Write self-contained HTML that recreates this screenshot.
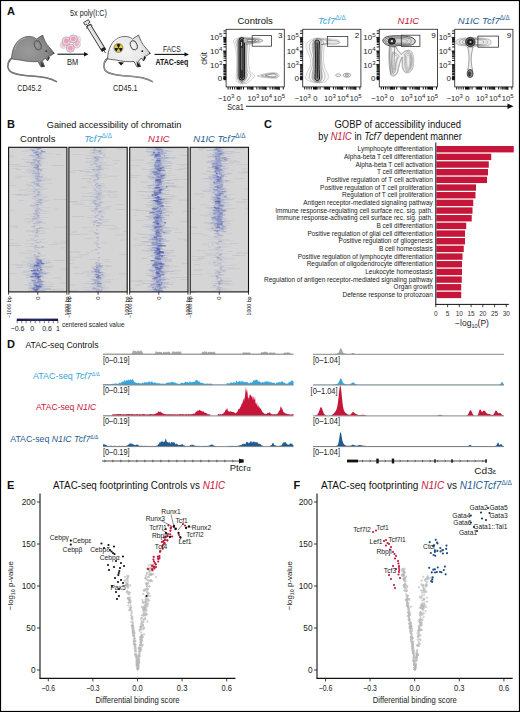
<!DOCTYPE html>
<html><head><meta charset="utf-8"><style>
html,body{margin:0;padding:0;background:#fff;}
svg{display:block;font-family:"Liberation Sans", sans-serif;}
</style></head><body>
<svg width="520" height="712" viewBox="0 0 520 712">
<rect x="0" y="0" width="520" height="712" fill="#fff"/>
<text x="7.00" y="14.80" font-size="11" text-anchor="start" fill="#111" font-weight="bold" >A</text><text x="7.00" y="127.60" font-size="11" text-anchor="start" fill="#111" font-weight="bold" >B</text><text x="264.00" y="127.60" font-size="11" text-anchor="start" fill="#111" font-weight="bold" >C</text><text x="7.00" y="348.00" font-size="11" text-anchor="start" fill="#111" font-weight="bold" >D</text><text x="7.00" y="489.00" font-size="11" text-anchor="start" fill="#111" font-weight="bold" >E</text><text x="293.50" y="489.00" font-size="11" text-anchor="start" fill="#111" font-weight="bold" >F</text><defs><radialGradient id="gm" cx="0.4" cy="0.5" r="0.6"><stop offset="0" stop-color="#9a9a9a"/><stop offset="0.7" stop-color="#8a8a8a"/><stop offset="1" stop-color="#6e6e6e"/></radialGradient><radialGradient id="wm" cx="0.4" cy="0.5" r="0.6"><stop offset="0" stop-color="#f4f4f4"/><stop offset="0.7" stop-color="#e8e8e8"/><stop offset="1" stop-color="#d0d0d0"/></radialGradient></defs><g transform="translate(0,0)"><path d="M13 57.5 C8 60 6.5 66 9 70 C12 74 22 75.5 32 76 C42 76.5 50 78 57 81.8" fill="none" stroke="#555" stroke-width="1.5"/><path d="M13 57.5 C8 60 6.5 66 9 70 C12 74 22 75.5 32 76 C42 76.5 50 78 57 81.8" fill="none" stroke="#aaaaaa" stroke-width="0.5"/><path d="M11.5 58.5 C12 50 15 40 25 37 C30 35.5 34 37 36.5 39 L42.6 35 C44 39 46 44 49 47 C51 49 52.5 51 53.8 53 C52.5 55 50.5 56 48.5 56.5 L47.5 61 L45.5 58 C44.5 59 43.5 60 42.5 61 L44.5 66.5 L41 67 L38 61.5 C33 62 26 61.5 20 60 C16 59.5 13 59.5 11.5 58.5 Z" fill="url(#gm)" stroke="#555" stroke-width="0.8"/><path d="M15 50 C16 43 20 39 26 38" fill="none" stroke="#aaaaaa" stroke-width="1"/><ellipse cx="37.8" cy="45.3" rx="3.3" ry="4.8" transform="rotate(-20 37.8 45.3)" fill="url(#gm)" stroke="#555" stroke-width="0.9"/><circle cx="46.3" cy="51.2" r="0.9" fill="#333"/><path d="M48 56.3 L47.6 61.5 L50 57.5 Z" fill="#333"/><path d="M40.5 61 L41.5 66.8 L44.8 66.5 Z" fill="#333"/><path d="M53.2 52 L54.8 53.2 L53.5 54.5 Z" fill="#333"/></g><g transform="translate(96,0)"><path d="M13 57.5 C8 60 6.5 66 9 70 C12 74 22 75.5 32 76 C42 76.5 50 78 57 81.8" fill="none" stroke="#444" stroke-width="1.5"/><path d="M13 57.5 C8 60 6.5 66 9 70 C12 74 22 75.5 32 76 C42 76.5 50 78 57 81.8" fill="none" stroke="#fff" stroke-width="0.5"/><path d="M11.5 58.5 C12 50 15 40 25 37 C30 35.5 34 37 36.5 39 L42.6 35 C44 39 46 44 49 47 C51 49 52.5 51 53.8 53 C52.5 55 50.5 56 48.5 56.5 L47.5 61 L45.5 58 C44.5 59 43.5 60 42.5 61 L44.5 66.5 L41 67 L38 61.5 C33 62 26 61.5 20 60 C16 59.5 13 59.5 11.5 58.5 Z" fill="url(#wm)" stroke="#444" stroke-width="0.8"/><path d="M15 50 C16 43 20 39 26 38" fill="none" stroke="#fff" stroke-width="1"/><ellipse cx="37.8" cy="45.3" rx="3.3" ry="4.8" transform="rotate(-20 37.8 45.3)" fill="url(#wm)" stroke="#444" stroke-width="0.9"/><circle cx="46.3" cy="51.2" r="0.9" fill="#111"/><path d="M48 56.3 L47.6 61.5 L50 57.5 Z" fill="#111"/><path d="M40.5 61 L41.5 66.8 L44.8 66.5 Z" fill="#111"/><path d="M53.2 52 L54.8 53.2 L53.5 54.5 Z" fill="#111"/></g><path d="M118 62 L121 65.5 L124 62.5 Z" fill="#111"/><circle cx="118.5" cy="48" r="4.5" fill="#e2cb3c" stroke="#444" stroke-width="0.5"/><path d="M119.00 47.13 L120.45 44.62 A3.9 3.9 0 0 0 116.55 44.62 L118.00 47.13 Z" fill="#1a1a1a"/><path d="M117.50 48.00 L114.60 48.00 A3.9 3.9 0 0 0 116.55 51.38 L118.00 48.87 Z" fill="#1a1a1a"/><path d="M119.00 48.87 L120.45 51.38 A3.9 3.9 0 0 0 122.40 48.00 L119.50 48.00 Z" fill="#1a1a1a"/><circle cx="118.5" cy="48" r="0.7" fill="#1a1a1a"/><circle cx="77.2" cy="39.5" r="3.6" fill="#f3d3df" stroke="#a48a98" stroke-width="0.6" opacity="0.5"/><circle cx="77.2" cy="39.5" r="2.16" fill="#e6a2bd" opacity="0.5"/><circle cx="63.5" cy="45" r="3.4" fill="#f3d3df" stroke="#a48a98" stroke-width="0.6" opacity="0.6"/><circle cx="63.5" cy="45" r="2.04" fill="#e6a2bd" opacity="0.6"/><circle cx="76.8" cy="44.3" r="3.6" fill="#f3d3df" stroke="#a48a98" stroke-width="0.6" opacity="0.7"/><circle cx="76.8" cy="44.3" r="2.16" fill="#e6a2bd" opacity="0.7"/><circle cx="66.4" cy="41" r="4.1" fill="#f3d3df" stroke="#a48a98" stroke-width="0.6" opacity="1"/><circle cx="66.4" cy="41" r="2.46" fill="#e6a2bd" opacity="1"/><circle cx="73.3" cy="38.9" r="4.0" fill="#f3d3df" stroke="#a48a98" stroke-width="0.6" opacity="1"/><circle cx="73.3" cy="38.9" r="2.40" fill="#e6a2bd" opacity="1"/><circle cx="70.4" cy="48.2" r="4.0" fill="#f3d3df" stroke="#a48a98" stroke-width="0.6" opacity="1"/><circle cx="70.4" cy="48.2" r="2.40" fill="#e6a2bd" opacity="1"/><g transform="translate(86.5,22) rotate(58.5)"><rect x="4" y="-2.1" width="29" height="4.2" fill="#f0f0f0" stroke="#333" stroke-width="0.9"/><line x1="6" y1="-0.6" x2="31" y2="-0.6" stroke="#bbb" stroke-width="0.6"/><path d="M-1 -2.8 L2 -2.8 L2 -1 L4 -1 L4 1 L2 1 L2 2.8 L-1 2.8 Z" fill="#e8e8e8" stroke="#333" stroke-width="0.8"/><path d="M4 -2.1 L6 -3.2 M4 2.1 L6 3.2" stroke="#333" stroke-width="0.7"/><rect x="30.5" y="-2.1" width="3.2" height="4.2" fill="#222"/><line x1="33.7" y1="0" x2="36.5" y2="0" stroke="#333" stroke-width="0.8"/></g><line x1="57.5" y1="54.2" x2="85.5" y2="54.2" stroke="#111" stroke-width="1.1"/><path d="M88.5 54.2 L84.0 52.0 L84.0 56.400000000000006 Z" fill="#111"/><line x1="154.5" y1="54.4" x2="186" y2="54.4" stroke="#111" stroke-width="1.1"/><path d="M189 54.4 L184.5 52.199999999999996 L184.5 56.6 Z" fill="#111"/><text x="72.60" y="65.20" font-size="8.8" text-anchor="middle" fill="#1a1a1a" textLength="11.2" lengthAdjust="spacingAndGlyphs" >BM</text><text x="88.50" y="15.60" font-size="8.8" text-anchor="middle" fill="#1a1a1a" textLength="37" lengthAdjust="spacingAndGlyphs" >5x poly(I:C)</text><text x="29.40" y="90.60" font-size="8.8" text-anchor="middle" fill="#1a1a1a" textLength="24.2" lengthAdjust="spacingAndGlyphs" >CD45.2</text><text x="125.20" y="91.00" font-size="8.8" text-anchor="middle" fill="#1a1a1a" textLength="24.4" lengthAdjust="spacingAndGlyphs" >CD45.1</text><text x="171.80" y="51.60" font-size="8.8" text-anchor="middle" fill="#1a1a1a" textLength="17.8" lengthAdjust="spacingAndGlyphs" >FACS</text><text x="171.90" y="65.20" font-size="8.8" text-anchor="middle" fill="#111" font-weight="bold" textLength="32.6" lengthAdjust="spacingAndGlyphs" >ATAC-seq</text><rect x="226.1" y="29.3" width="58.2" height="57.60000000000001" fill="#fff" stroke="#333" stroke-width="0.9"/><path d="M223.1 78.20H226.1M223.5 74.11H226.1M223.5 71.71H226.1M223.5 70.01H226.1M223.5 68.69H226.1M223.5 67.62H226.1M223.5 66.71H226.1M223.5 65.92H226.1M223.5 65.22H226.1M223.1 64.60H226.1M223.5 60.51H226.1M223.5 58.11H226.1M223.5 56.41H226.1M223.5 55.09H226.1M223.5 54.02H226.1M223.5 53.11H226.1M223.5 52.32H226.1M223.5 51.62H226.1M223.1 51.00H226.1M223.5 46.91H226.1M223.5 44.51H226.1M223.5 42.81H226.1M223.5 41.49H226.1M223.5 40.42H226.1M223.5 39.51H226.1M223.5 38.72H226.1M223.5 38.02H226.1M223.1 37.40H226.1M223.5 33.31H226.1M223.5 30.91H226.1M223.5 70.00H226.1M223.5 71.60H226.1M223.5 73.20H226.1M223.5 74.80H226.1M223.5 76.40H226.1M223.5 78.00H226.1" stroke="#111" stroke-width="1.0" fill="none"/><rect x="223.5" y="76.6" width="2.6" height="3.6" fill="#111"/><path d="M247.65 86.9V89.5M248.93 86.9V89.5M249.97 86.9V89.5M250.86 86.9V89.5M251.62 86.9V89.5M252.30 86.9V89.5M252.90 86.9V89.9M256.87 86.9V89.5M259.20 86.9V89.5M260.85 86.9V89.5M262.13 86.9V89.5M263.17 86.9V89.5M264.06 86.9V89.5M264.82 86.9V89.5M265.50 86.9V89.5M266.10 86.9V89.9M270.07 86.9V89.5M272.40 86.9V89.5M274.05 86.9V89.5M275.33 86.9V89.5M276.37 86.9V89.5M277.26 86.9V89.5M278.02 86.9V89.5M278.70 86.9V89.5M279.30 86.9V89.9M283.27 86.9V89.5M228.10 86.9V89.5M230.30 86.9V89.5M232.50 86.9V89.5M234.70 86.9V89.5M236.90 86.9V89.5M239.10 86.9V89.5M241.30 86.9V89.5M243.50 86.9V89.5" stroke="#111" stroke-width="1.0" fill="none"/><rect x="236.9" y="86.9" width="3.6" height="2.6" fill="#111"/><text x="222.30" y="40.30" font-size="8" text-anchor="end" fill="#1a1a1a" >10<tspan dy="-3" font-size="6">5</tspan></text><text x="222.30" y="53.80" font-size="8" text-anchor="end" fill="#1a1a1a" >10<tspan dy="-3" font-size="6">4</tspan></text><text x="222.30" y="67.60" font-size="8" text-anchor="end" fill="#1a1a1a" >10<tspan dy="-3" font-size="6">3</tspan></text><text x="222.30" y="81.40" font-size="8" text-anchor="end" fill="#1a1a1a" >0</text><text x="234.30" y="100.60" font-size="7.6" text-anchor="end" fill="#1a1a1a" >−10<tspan dy="-3" font-size="6">3</tspan></text><text x="238.70" y="100.60" font-size="7.6" text-anchor="middle" fill="#1a1a1a" >0</text><text x="253.40" y="100.60" font-size="7.6" text-anchor="middle" fill="#1a1a1a" >10<tspan dy="-3" font-size="6">3</tspan></text><text x="266.30" y="100.60" font-size="7.6" text-anchor="middle" fill="#1a1a1a" >10<tspan dy="-3" font-size="6">4</tspan></text><text x="279.10" y="100.60" font-size="7.6" text-anchor="middle" fill="#1a1a1a" >10<tspan dy="-3" font-size="6">5</tspan></text><text x="255.20" y="23.80" font-size="9.5" text-anchor="middle" fill="#111" >Controls</text><text x="282.50" y="37.60" font-size="8" text-anchor="end" fill="#111" >3</text><rect x="302.7" y="29.3" width="58.2" height="57.60000000000001" fill="#fff" stroke="#333" stroke-width="0.9"/><path d="M299.7 78.20H302.7M300.1 74.11H302.7M300.1 71.71H302.7M300.1 70.01H302.7M300.1 68.69H302.7M300.1 67.62H302.7M300.1 66.71H302.7M300.1 65.92H302.7M300.1 65.22H302.7M299.7 64.60H302.7M300.1 60.51H302.7M300.1 58.11H302.7M300.1 56.41H302.7M300.1 55.09H302.7M300.1 54.02H302.7M300.1 53.11H302.7M300.1 52.32H302.7M300.1 51.62H302.7M299.7 51.00H302.7M300.1 46.91H302.7M300.1 44.51H302.7M300.1 42.81H302.7M300.1 41.49H302.7M300.1 40.42H302.7M300.1 39.51H302.7M300.1 38.72H302.7M300.1 38.02H302.7M299.7 37.40H302.7M300.1 33.31H302.7M300.1 30.91H302.7M300.1 70.00H302.7M300.1 71.60H302.7M300.1 73.20H302.7M300.1 74.80H302.7M300.1 76.40H302.7M300.1 78.00H302.7" stroke="#111" stroke-width="1.0" fill="none"/><rect x="300.09999999999997" y="76.6" width="2.6" height="3.6" fill="#111"/><path d="M324.25 86.9V89.5M325.53 86.9V89.5M326.57 86.9V89.5M327.46 86.9V89.5M328.22 86.9V89.5M328.90 86.9V89.5M329.50 86.9V89.9M333.47 86.9V89.5M335.80 86.9V89.5M337.45 86.9V89.5M338.73 86.9V89.5M339.77 86.9V89.5M340.66 86.9V89.5M341.42 86.9V89.5M342.10 86.9V89.5M342.70 86.9V89.9M346.67 86.9V89.5M349.00 86.9V89.5M350.65 86.9V89.5M351.93 86.9V89.5M352.97 86.9V89.5M353.86 86.9V89.5M354.62 86.9V89.5M355.30 86.9V89.5M355.90 86.9V89.9M359.87 86.9V89.5M304.70 86.9V89.5M306.90 86.9V89.5M309.10 86.9V89.5M311.30 86.9V89.5M313.50 86.9V89.5M315.70 86.9V89.5M317.90 86.9V89.5M320.10 86.9V89.5" stroke="#111" stroke-width="1.0" fill="none"/><rect x="313.5" y="86.9" width="3.6" height="2.6" fill="#111"/><text x="298.90" y="40.30" font-size="8" text-anchor="end" fill="#1a1a1a" >10<tspan dy="-3" font-size="6">5</tspan></text><text x="298.90" y="53.80" font-size="8" text-anchor="end" fill="#1a1a1a" >10<tspan dy="-3" font-size="6">4</tspan></text><text x="298.90" y="67.60" font-size="8" text-anchor="end" fill="#1a1a1a" >10<tspan dy="-3" font-size="6">3</tspan></text><text x="298.90" y="81.40" font-size="8" text-anchor="end" fill="#1a1a1a" >0</text><text x="310.90" y="100.60" font-size="7.6" text-anchor="end" fill="#1a1a1a" >−10<tspan dy="-3" font-size="6">3</tspan></text><text x="315.30" y="100.60" font-size="7.6" text-anchor="middle" fill="#1a1a1a" >0</text><text x="330.00" y="100.60" font-size="7.6" text-anchor="middle" fill="#1a1a1a" >10<tspan dy="-3" font-size="6">3</tspan></text><text x="342.90" y="100.60" font-size="7.6" text-anchor="middle" fill="#1a1a1a" >10<tspan dy="-3" font-size="6">4</tspan></text><text x="355.70" y="100.60" font-size="7.6" text-anchor="middle" fill="#1a1a1a" >10<tspan dy="-3" font-size="6">5</tspan></text><text x="331.80" y="23.80" font-size="9.5" text-anchor="middle" fill="#3ba3d6" ><tspan font-style="italic">Tcf7</tspan><tspan font-size="66%" dy="-3.6" font-style="normal">Δ/Δ</tspan></text><text x="359.10" y="37.60" font-size="8" text-anchor="end" fill="#111" >2</text><rect x="379.3" y="29.3" width="58.2" height="57.60000000000001" fill="#fff" stroke="#333" stroke-width="0.9"/><path d="M376.3 78.20H379.3M376.7 74.11H379.3M376.7 71.71H379.3M376.7 70.01H379.3M376.7 68.69H379.3M376.7 67.62H379.3M376.7 66.71H379.3M376.7 65.92H379.3M376.7 65.22H379.3M376.3 64.60H379.3M376.7 60.51H379.3M376.7 58.11H379.3M376.7 56.41H379.3M376.7 55.09H379.3M376.7 54.02H379.3M376.7 53.11H379.3M376.7 52.32H379.3M376.7 51.62H379.3M376.3 51.00H379.3M376.7 46.91H379.3M376.7 44.51H379.3M376.7 42.81H379.3M376.7 41.49H379.3M376.7 40.42H379.3M376.7 39.51H379.3M376.7 38.72H379.3M376.7 38.02H379.3M376.3 37.40H379.3M376.7 33.31H379.3M376.7 30.91H379.3M376.7 70.00H379.3M376.7 71.60H379.3M376.7 73.20H379.3M376.7 74.80H379.3M376.7 76.40H379.3M376.7 78.00H379.3" stroke="#111" stroke-width="1.0" fill="none"/><rect x="376.7" y="76.6" width="2.6" height="3.6" fill="#111"/><path d="M400.85 86.9V89.5M402.13 86.9V89.5M403.17 86.9V89.5M404.06 86.9V89.5M404.82 86.9V89.5M405.50 86.9V89.5M406.10 86.9V89.9M410.07 86.9V89.5M412.40 86.9V89.5M414.05 86.9V89.5M415.33 86.9V89.5M416.37 86.9V89.5M417.26 86.9V89.5M418.02 86.9V89.5M418.70 86.9V89.5M419.30 86.9V89.9M423.27 86.9V89.5M425.60 86.9V89.5M427.25 86.9V89.5M428.53 86.9V89.5M429.57 86.9V89.5M430.46 86.9V89.5M431.22 86.9V89.5M431.90 86.9V89.5M432.50 86.9V89.9M436.47 86.9V89.5M381.30 86.9V89.5M383.50 86.9V89.5M385.70 86.9V89.5M387.90 86.9V89.5M390.10 86.9V89.5M392.30 86.9V89.5M394.50 86.9V89.5M396.70 86.9V89.5" stroke="#111" stroke-width="1.0" fill="none"/><rect x="390.1" y="86.9" width="3.6" height="2.6" fill="#111"/><text x="375.50" y="40.30" font-size="8" text-anchor="end" fill="#1a1a1a" >10<tspan dy="-3" font-size="6">5</tspan></text><text x="375.50" y="53.80" font-size="8" text-anchor="end" fill="#1a1a1a" >10<tspan dy="-3" font-size="6">4</tspan></text><text x="375.50" y="67.60" font-size="8" text-anchor="end" fill="#1a1a1a" >10<tspan dy="-3" font-size="6">3</tspan></text><text x="375.50" y="81.40" font-size="8" text-anchor="end" fill="#1a1a1a" >0</text><text x="387.50" y="100.60" font-size="7.6" text-anchor="end" fill="#1a1a1a" >−10<tspan dy="-3" font-size="6">3</tspan></text><text x="391.90" y="100.60" font-size="7.6" text-anchor="middle" fill="#1a1a1a" >0</text><text x="406.60" y="100.60" font-size="7.6" text-anchor="middle" fill="#1a1a1a" >10<tspan dy="-3" font-size="6">3</tspan></text><text x="419.50" y="100.60" font-size="7.6" text-anchor="middle" fill="#1a1a1a" >10<tspan dy="-3" font-size="6">4</tspan></text><text x="432.30" y="100.60" font-size="7.6" text-anchor="middle" fill="#1a1a1a" >10<tspan dy="-3" font-size="6">5</tspan></text><text x="408.40" y="23.80" font-size="9.5" text-anchor="middle" fill="#c5163a" ><tspan font-style="italic">N1IC</tspan></text><text x="435.70" y="37.60" font-size="8" text-anchor="end" fill="#111" >9</text><rect x="454.7" y="29.3" width="58.2" height="57.60000000000001" fill="#fff" stroke="#333" stroke-width="0.9"/><path d="M451.7 78.20H454.7M452.1 74.11H454.7M452.1 71.71H454.7M452.1 70.01H454.7M452.1 68.69H454.7M452.1 67.62H454.7M452.1 66.71H454.7M452.1 65.92H454.7M452.1 65.22H454.7M451.7 64.60H454.7M452.1 60.51H454.7M452.1 58.11H454.7M452.1 56.41H454.7M452.1 55.09H454.7M452.1 54.02H454.7M452.1 53.11H454.7M452.1 52.32H454.7M452.1 51.62H454.7M451.7 51.00H454.7M452.1 46.91H454.7M452.1 44.51H454.7M452.1 42.81H454.7M452.1 41.49H454.7M452.1 40.42H454.7M452.1 39.51H454.7M452.1 38.72H454.7M452.1 38.02H454.7M451.7 37.40H454.7M452.1 33.31H454.7M452.1 30.91H454.7M452.1 70.00H454.7M452.1 71.60H454.7M452.1 73.20H454.7M452.1 74.80H454.7M452.1 76.40H454.7M452.1 78.00H454.7" stroke="#111" stroke-width="1.0" fill="none"/><rect x="452.09999999999997" y="76.6" width="2.6" height="3.6" fill="#111"/><path d="M476.25 86.9V89.5M477.53 86.9V89.5M478.57 86.9V89.5M479.46 86.9V89.5M480.22 86.9V89.5M480.90 86.9V89.5M481.50 86.9V89.9M485.47 86.9V89.5M487.80 86.9V89.5M489.45 86.9V89.5M490.73 86.9V89.5M491.77 86.9V89.5M492.66 86.9V89.5M493.42 86.9V89.5M494.10 86.9V89.5M494.70 86.9V89.9M498.67 86.9V89.5M501.00 86.9V89.5M502.65 86.9V89.5M503.93 86.9V89.5M504.97 86.9V89.5M505.86 86.9V89.5M506.62 86.9V89.5M507.30 86.9V89.5M507.90 86.9V89.9M511.87 86.9V89.5M456.70 86.9V89.5M458.90 86.9V89.5M461.10 86.9V89.5M463.30 86.9V89.5M465.50 86.9V89.5M467.70 86.9V89.5M469.90 86.9V89.5M472.10 86.9V89.5" stroke="#111" stroke-width="1.0" fill="none"/><rect x="465.5" y="86.9" width="3.6" height="2.6" fill="#111"/><text x="450.90" y="40.30" font-size="8" text-anchor="end" fill="#1a1a1a" >10<tspan dy="-3" font-size="6">5</tspan></text><text x="450.90" y="53.80" font-size="8" text-anchor="end" fill="#1a1a1a" >10<tspan dy="-3" font-size="6">4</tspan></text><text x="450.90" y="67.60" font-size="8" text-anchor="end" fill="#1a1a1a" >10<tspan dy="-3" font-size="6">3</tspan></text><text x="450.90" y="81.40" font-size="8" text-anchor="end" fill="#1a1a1a" >0</text><text x="462.90" y="100.60" font-size="7.6" text-anchor="end" fill="#1a1a1a" >−10<tspan dy="-3" font-size="6">3</tspan></text><text x="467.30" y="100.60" font-size="7.6" text-anchor="middle" fill="#1a1a1a" >0</text><text x="482.00" y="100.60" font-size="7.6" text-anchor="middle" fill="#1a1a1a" >10<tspan dy="-3" font-size="6">3</tspan></text><text x="494.90" y="100.60" font-size="7.6" text-anchor="middle" fill="#1a1a1a" >10<tspan dy="-3" font-size="6">4</tspan></text><text x="507.70" y="100.60" font-size="7.6" text-anchor="middle" fill="#1a1a1a" >10<tspan dy="-3" font-size="6">5</tspan></text><text x="483.80" y="23.80" font-size="9.5" text-anchor="middle" fill="#1f5b8e" ><tspan font-style="italic">N1IC Tcf7</tspan><tspan font-size="66%" dy="-3.6" font-style="normal">Δ/Δ</tspan></text><text x="511.10" y="37.60" font-size="8" text-anchor="end" fill="#111" >9</text><path d="M233.10 41 C235.10 37.5 244.10 36.5 250.10 37.5 L259.10 38 C262.10 39 262.10 42 259.10 43 L250.10 43.5 C248.10 55 248.10 65 250.10 72 C254.10 74 256.10 76 253.10 78 C250.10 82 246.10 84 242.10 84 C238.10 84 236.10 82 236.10 78 C237.10 65 238.10 52 233.10 41 Z" transform="translate(241.70 59) scale(1 1) translate(-241.70 -59)" fill="#f8f8f8" stroke="#aaa" stroke-width="0.5" vector-effect="non-scaling-stroke"/><path d="M233.10 41 C235.10 37.5 244.10 36.5 250.10 37.5 L259.10 38 C262.10 39 262.10 42 259.10 43 L250.10 43.5 C248.10 55 248.10 65 250.10 72 C254.10 74 256.10 76 253.10 78 C250.10 82 246.10 84 242.10 84 C238.10 84 236.10 82 236.10 78 C237.10 65 238.10 52 233.10 41 Z" transform="translate(241.70 59) scale(0.7 0.97) translate(-241.70 -59)" fill="none" stroke="#888" stroke-width="0.5" vector-effect="non-scaling-stroke"/><path d="M233.10 41 C235.10 37.5 244.10 36.5 250.10 37.5 L259.10 38 C262.10 39 262.10 42 259.10 43 L250.10 43.5 C248.10 55 248.10 65 250.10 72 C254.10 74 256.10 76 253.10 78 C250.10 82 246.10 84 242.10 84 C238.10 84 236.10 82 236.10 78 C237.10 65 238.10 52 233.10 41 Z" transform="translate(241.70 59) scale(0.45 0.94) translate(-241.70 -59)" fill="none" stroke="#666" stroke-width="0.5" vector-effect="non-scaling-stroke"/><path d="M233.10 41 C235.10 37.5 244.10 36.5 250.10 37.5 L259.10 38 C262.10 39 262.10 42 259.10 43 L250.10 43.5 C248.10 55 248.10 65 250.10 72 C254.10 74 256.10 76 253.10 78 C250.10 82 246.10 84 242.10 84 C238.10 84 236.10 82 236.10 78 C237.10 65 238.10 52 233.10 41 Z" transform="translate(241.70 59) scale(0.28 0.92) translate(-241.70 -59)" fill="none" stroke="#444" stroke-width="0.5" vector-effect="non-scaling-stroke"/><path d="M257.10 76 C262.10 74 272.10 72 276.10 73 C280.10 74 280.10 77.5 276.10 78 C272.10 78.5 262.10 77.5 257.10 76 Z" transform="translate(273.10 75.5) scale(1 1) translate(-273.10 -75.5)" fill="#f8f8f8" stroke="#999" stroke-width="0.55" vector-effect="non-scaling-stroke"/><path d="M257.10 76 C262.10 74 272.10 72 276.10 73 C280.10 74 280.10 77.5 276.10 78 C272.10 78.5 262.10 77.5 257.10 76 Z" transform="translate(273.10 75.5) scale(0.75 0.75) translate(-273.10 -75.5)" fill="none" stroke="#777" stroke-width="0.55" vector-effect="non-scaling-stroke"/><path d="M257.10 76 C262.10 74 272.10 72 276.10 73 C280.10 74 280.10 77.5 276.10 78 C272.10 78.5 262.10 77.5 257.10 76 Z" transform="translate(273.10 75.5) scale(0.5 0.5) translate(-273.10 -75.5)" fill="none" stroke="#555" stroke-width="0.55" vector-effect="non-scaling-stroke"/><rect x="237.40" y="37" width="8.8" height="44" rx="4.4" fill="#c8c8c8" stroke="#777" stroke-width="0.5"/><rect x="239.00" y="37.7" width="5.6" height="42.4" rx="2.8" fill="#888" stroke="#111" stroke-width="1.0"/><rect x="240.40" y="39.5" width="2.8" height="39" rx="1.4" fill="#333" stroke="#000" stroke-width="0.6"/><rect x="241.20" y="48" width="1.2" height="22" rx="0.6" fill="#777"/><ellipse cx="241.60" cy="44" rx="0.5" ry="2.2" fill="#ddd"/><path d="M244.10 38.5 C252.10 38 260.10 38.5 263.10 40.5 C262.10 42.5 252.10 43 244.10 42.5 Z" transform="translate(250.10 40.5) scale(1 1) translate(-250.10 -40.5)" fill="#e6e6e6" stroke="#777" stroke-width="0.55" vector-effect="non-scaling-stroke"/><path d="M244.10 38.5 C252.10 38 260.10 38.5 263.10 40.5 C262.10 42.5 252.10 43 244.10 42.5 Z" transform="translate(250.10 40.5) scale(0.7 0.7) translate(-250.10 -40.5)" fill="none" stroke="#555" stroke-width="0.55" vector-effect="non-scaling-stroke"/><path d="M244.10 38.5 C252.10 38 260.10 38.5 263.10 40.5 C262.10 42.5 252.10 43 244.10 42.5 Z" transform="translate(250.10 40.5) scale(0.45 0.45) translate(-250.10 -40.5)" fill="none" stroke="#444" stroke-width="0.55" vector-effect="non-scaling-stroke"/><rect x="252.20" y="35.6" width="19.2" height="10.6" fill="none" stroke="#333" stroke-width="0.8"/><path d="M306.20 45 C307.70 40 314.70 37.5 318.70 38 L324.70 38.5 C336.70 39 340.70 40 339.20 42.5 C332.70 44 326.70 44 324.70 44 C322.70 55 322.70 65 326.70 72 C329.70 76 328.70 80 324.70 82 C318.70 84 310.70 83 305.70 79 C304.70 74 309.70 70 310.70 64 C311.70 56 304.70 50 306.20 45 Z" transform="translate(317.20 60) scale(1 1) translate(-317.20 -60)" fill="#f8f8f8" stroke="#aaa" stroke-width="0.5" vector-effect="non-scaling-stroke"/><path d="M306.20 45 C307.70 40 314.70 37.5 318.70 38 L324.70 38.5 C336.70 39 340.70 40 339.20 42.5 C332.70 44 326.70 44 324.70 44 C322.70 55 322.70 65 326.70 72 C329.70 76 328.70 80 324.70 82 C318.70 84 310.70 83 305.70 79 C304.70 74 309.70 70 310.70 64 C311.70 56 304.70 50 306.20 45 Z" transform="translate(317.20 60) scale(0.7 0.98) translate(-317.20 -60)" fill="none" stroke="#888" stroke-width="0.5" vector-effect="non-scaling-stroke"/><path d="M306.20 45 C307.70 40 314.70 37.5 318.70 38 L324.70 38.5 C336.70 39 340.70 40 339.20 42.5 C332.70 44 326.70 44 324.70 44 C322.70 55 322.70 65 326.70 72 C329.70 76 328.70 80 324.70 82 C318.70 84 310.70 83 305.70 79 C304.70 74 309.70 70 310.70 64 C311.70 56 304.70 50 306.20 45 Z" transform="translate(317.20 60) scale(0.45 0.96) translate(-317.20 -60)" fill="none" stroke="#666" stroke-width="0.5" vector-effect="non-scaling-stroke"/><path d="M306.20 45 C307.70 40 314.70 37.5 318.70 38 L324.70 38.5 C336.70 39 340.70 40 339.20 42.5 C332.70 44 326.70 44 324.70 44 C322.70 55 322.70 65 326.70 72 C329.70 76 328.70 80 324.70 82 C318.70 84 310.70 83 305.70 79 C304.70 74 309.70 70 310.70 64 C311.70 56 304.70 50 306.20 45 Z" transform="translate(317.20 60) scale(0.28 0.94) translate(-317.20 -60)" fill="none" stroke="#444" stroke-width="0.5" vector-effect="non-scaling-stroke"/><path d="M313.20 41 C313.70 38 321.20 38 321.20 41 C320.70 52 320.70 68 321.70 78 C321.70 83 312.70 83 312.70 78 C313.70 68 313.70 52 313.20 41 Z" fill="#c8c8c8" stroke="#777" stroke-width="0.5"/><path d="M315.00 41.5 C315.20 39.5 319.40 39.5 319.40 42 C318.90 52 318.90 68 319.50 78 C319.50 81.5 314.90 81.5 314.90 78 C315.50 68 315.50 52 315.00 41.5 Z" fill="#888" stroke="#111" stroke-width="1"/><path d="M317.20 42.5 L317.30 78.5" stroke="#111" stroke-width="1"/><path d="M327.20 40.5 C332.70 40 338.70 40.5 339.70 42.5 C338.70 44.5 332.70 44.5 327.20 43.5 Z" fill="#e4e4e4" stroke="#777" stroke-width="0.5"/><ellipse cx="338.20" cy="75.2" rx="2.6" ry="1.3" fill="none" stroke="#666" stroke-width="0.6"/><ellipse cx="346.90" cy="75.2" rx="3.8" ry="2" fill="none" stroke="#666" stroke-width="0.6"/><ellipse cx="346.90" cy="75.2" rx="1.6" ry="1.1" fill="none" stroke="#444" stroke-width="0.6"/><rect x="327.30" y="36.5" width="20.5" height="9.8" fill="none" stroke="#333" stroke-width="0.8"/><path d="M389.30 46 C388.30 55 388.30 68 391.30 75.5 C393.30 77 396.30 76 397.30 72 C399.30 64 400.30 60 402.30 57 C402.30 64 402.30 70 405.30 72.5 C408.30 74 412.30 72 413.30 66 C414.30 58 413.30 52 410.30 50.5 C407.30 49.5 404.30 51 401.30 54 C399.30 52 397.30 50 395.30 46 Z" transform="translate(400.80 61) scale(1 1) translate(-400.80 -61)" fill="#f0f0f0" stroke="#888" stroke-width="0.5" vector-effect="non-scaling-stroke"/><path d="M389.30 46 C388.30 55 388.30 68 391.30 75.5 C393.30 77 396.30 76 397.30 72 C399.30 64 400.30 60 402.30 57 C402.30 64 402.30 70 405.30 72.5 C408.30 74 412.30 72 413.30 66 C414.30 58 413.30 52 410.30 50.5 C407.30 49.5 404.30 51 401.30 54 C399.30 52 397.30 50 395.30 46 Z" transform="translate(400.80 61) scale(0.9 0.95) translate(-400.80 -61)" fill="none" stroke="#999" stroke-width="0.5" vector-effect="non-scaling-stroke"/><path d="M389.30 46 C388.30 55 388.30 68 391.30 75.5 C393.30 77 396.30 76 397.30 72 C399.30 64 400.30 60 402.30 57 C402.30 64 402.30 70 405.30 72.5 C408.30 74 412.30 72 413.30 66 C414.30 58 413.30 52 410.30 50.5 C407.30 49.5 404.30 51 401.30 54 C399.30 52 397.30 50 395.30 46 Z" transform="translate(400.80 61) scale(0.8 0.9) translate(-400.80 -61)" fill="none" stroke="#aaa" stroke-width="0.5" vector-effect="non-scaling-stroke"/><path d="M392.30 52 C391.30 60 391.30 68 392.80 73 C394.30 74 395.30 72 395.80 68 C396.30 62 397.30 58 399.30 56 C397.30 55 395.30 52 392.30 52 Z" transform="translate(393.80 63) scale(1 1) translate(-393.80 -63)" fill="none" stroke="#777" stroke-width="0.5" vector-effect="non-scaling-stroke"/><path d="M392.30 52 C391.30 60 391.30 68 392.80 73 C394.30 74 395.30 72 395.80 68 C396.30 62 397.30 58 399.30 56 C397.30 55 395.30 52 392.30 52 Z" transform="translate(393.80 63) scale(0.7 0.85) translate(-393.80 -63)" fill="none" stroke="#888" stroke-width="0.5" vector-effect="non-scaling-stroke"/><path d="M404.30 54 C404.30 60 404.30 68 406.30 71 C409.30 72 411.30 68 411.80 62 C412.30 56 410.30 52 407.30 52 Z" transform="translate(408.30 62) scale(1 1) translate(-408.30 -62)" fill="none" stroke="#888" stroke-width="0.5" vector-effect="non-scaling-stroke"/><path d="M404.30 54 C404.30 60 404.30 68 406.30 71 C409.30 72 411.30 68 411.80 62 C412.30 56 410.30 52 407.30 52 Z" transform="translate(408.30 62) scale(0.7 0.85) translate(-408.30 -62)" fill="none" stroke="#777" stroke-width="0.5" vector-effect="non-scaling-stroke"/><path d="M404.30 54 C404.30 60 404.30 68 406.30 71 C409.30 72 411.30 68 411.80 62 C412.30 56 410.30 52 407.30 52 Z" transform="translate(408.30 62) scale(0.4 0.7) translate(-408.30 -62)" fill="none" stroke="#999" stroke-width="0.5" vector-effect="non-scaling-stroke"/><path d="M389.80 45 C389.30 55 389.80 65 390.80 75 M 394.80 45 C394.30 55 394.30 62 393.80 70" fill="none" stroke="#666" stroke-width="0.6"/><path d="M382.80 41 C382.80 37.5 387.30 36 393.30 35.8 C401.30 35.5 411.30 36 414.30 39 C416.30 41 415.30 44 411.30 45 C405.30 45.5 399.30 45 395.30 46 C391.30 46.5 384.30 45.5 382.80 41 Z" transform="translate(393.30 41) scale(1 1) translate(-393.30 -41)" fill="#d0d0d0" stroke="#222" stroke-width="0.8" vector-effect="non-scaling-stroke"/><path d="M382.80 41 C382.80 37.5 387.30 36 393.30 35.8 C401.30 35.5 411.30 36 414.30 39 C416.30 41 415.30 44 411.30 45 C405.30 45.5 399.30 45 395.30 46 C391.30 46.5 384.30 45.5 382.80 41 Z" transform="translate(393.30 41) scale(0.82 0.75) translate(-393.30 -41)" fill="none" stroke="#666" stroke-width="0.8" vector-effect="non-scaling-stroke"/><path d="M382.80 41 C382.80 37.5 387.30 36 393.30 35.8 C401.30 35.5 411.30 36 414.30 39 C416.30 41 415.30 44 411.30 45 C405.30 45.5 399.30 45 395.30 46 C391.30 46.5 384.30 45.5 382.80 41 Z" transform="translate(393.30 41) scale(0.64 0.5) translate(-393.30 -41)" fill="none" stroke="#888" stroke-width="0.8" vector-effect="non-scaling-stroke"/><ellipse cx="391.90" cy="41.2" rx="3.6" ry="3.1" fill="#333" stroke="#000" stroke-width="0.6"/><ellipse cx="391.90" cy="41.2" rx="1.2" ry="1.1" fill="#ddd"/><ellipse cx="408.30" cy="41" rx="5" ry="1.3" fill="none" stroke="#eee" stroke-width="0.5"/><rect x="401.30" y="35.2" width="18.6" height="11.2" fill="none" stroke="#333" stroke-width="0.8"/><path d="M455.70 42 C455.70 39 460.70 38 466.70 38 C474.70 37 484.70 38 489.70 39.5 C491.70 41 491.70 44 488.70 45.5 C482.70 46.5 474.70 46.5 466.70 46 C460.70 46 455.70 45 455.70 42 Z" transform="translate(472.70 42) scale(1 1) translate(-472.70 -42)" fill="#e6e6e6" stroke="#999" stroke-width="0.55" vector-effect="non-scaling-stroke"/><path d="M455.70 42 C455.70 39 460.70 38 466.70 38 C474.70 37 484.70 38 489.70 39.5 C491.70 41 491.70 44 488.70 45.5 C482.70 46.5 474.70 46.5 466.70 46 C460.70 46 455.70 45 455.70 42 Z" transform="translate(472.70 42) scale(0.8 0.8) translate(-472.70 -42)" fill="none" stroke="#777" stroke-width="0.55" vector-effect="non-scaling-stroke"/><path d="M455.70 42 C455.70 39 460.70 38 466.70 38 C474.70 37 484.70 38 489.70 39.5 C491.70 41 491.70 44 488.70 45.5 C482.70 46.5 474.70 46.5 466.70 46 C460.70 46 455.70 45 455.70 42 Z" transform="translate(472.70 42) scale(0.6 0.6) translate(-472.70 -42)" fill="none" stroke="#666" stroke-width="0.55" vector-effect="non-scaling-stroke"/><path d="M467.70 47 C468.70 52 469.20 56 469.00 60 C468.70 64 468.50 67 467.70 70 L472.70 70 C471.70 67 471.30 63 471.20 60 C471.10 56 471.70 52 473.20 47 Z" fill="#eee" stroke="#666" stroke-width="0.6"/><ellipse cx="470.30" cy="42" rx="4.8" ry="4.6" fill="#666" stroke="#222" stroke-width="0.8"/><ellipse cx="470.30" cy="42" rx="3" ry="2.8" fill="#222" stroke="#000" stroke-width="0.5"/><ellipse cx="470.50" cy="42" rx="1" ry="0.9" fill="#ccc"/><ellipse cx="470.10" cy="73.6" rx="3" ry="4" fill="#888" stroke="#222" stroke-width="0.7"/><ellipse cx="469.50" cy="74" rx="1.3" ry="2.4" fill="#333"/><ellipse cx="483.70" cy="42" rx="5" ry="1.6" fill="none" stroke="#eee" stroke-width="0.5"/><rect x="477.90" y="36.1" width="20.6" height="11.1" fill="none" stroke="#333" stroke-width="0.8"/><text x="207.00" y="58.50" font-size="9" text-anchor="middle" fill="#1a1a1a" textLength="12.5" lengthAdjust="spacingAndGlyphs" transform="rotate(-90 207 58.5)">cKit</text><text x="227.20" y="109.60" font-size="9" text-anchor="start" fill="#1a1a1a" textLength="16.6" lengthAdjust="spacingAndGlyphs" >Sca1</text><line x1="246" y1="106.3" x2="509" y2="106.3" stroke="#222" stroke-width="1"/><path d="M513.5 106.3 L507.5 103.6 L507.5 109 Z" fill="#111"/><text x="46.80" y="128.20" font-size="9.3" text-anchor="start" fill="#111" textLength="134.5" lengthAdjust="spacingAndGlyphs" >Gained accessibility of chromatin</text><rect x="8.6" y="147.3" width="58.3" height="144.59999999999997" fill="#d5d5d5"/><rect x="68.9" y="147.3" width="58.3" height="144.59999999999997" fill="#d5d5d5"/><rect x="129.7" y="147.3" width="58.3" height="144.59999999999997" fill="#d5d5d5"/><rect x="190.2" y="147.3" width="58.3" height="144.59999999999997" fill="#d5d5d5"/><path d="M12.6 194.1h9.5v0.8h-9.5zM36.5 157.8h6.7v0.8h-6.7zM36.5 155.7h3.4v0.8h-3.4zM10.7 210.0h3.9v0.8h-3.9zM54.7 208.7h4.2v0.8h-4.2zM38.9 179.6h12.5v0.8h-12.5zM25.3 230.7h12.8v0.8h-12.8zM55.7 154.0h5.9v0.8h-5.9zM12.4 168.2h6.1v0.8h-6.1zM14.7 265.3h8.8v0.8h-8.8zM26.1 239.7h8.5v0.8h-8.5zM9.5 156.4h5.1v0.8h-5.1zM30.5 245.7h6.1v0.8h-6.1zM32.0 232.0h6.0v0.8h-6.0zM46.6 262.2h5.4v0.8h-5.4zM33.3 230.4h11.8v0.8h-11.8zM19.0 252.8h12.8v0.8h-12.8zM27.7 164.4h10.6v0.8h-10.6zM35.4 169.3h3.4v0.8h-3.4zM48.8 243.9h8.7v0.8h-8.7zM21.9 273.9h10.0v0.8h-10.0zM38.6 233.2h7.6v0.8h-7.6zM59.8 268.8h7.1v0.8h-7.1zM8.6 243.3h10.0v0.8h-10.0zM60.9 240.9h6.0v0.8h-6.0zM26.2 188.5h9.7v0.8h-9.7zM33.2 150.6h4.7v0.8h-4.7zM8.6 164.2h10.7v0.8h-10.7zM19.6 166.0h6.9v0.8h-6.9zM9.6 273.3h7.5v0.8h-7.5zM54.5 226.7h11.2v0.8h-11.2zM21.3 272.2h7.2v0.8h-7.2zM53.9 199.2h12.6v0.8h-12.6zM16.2 169.1h5.3v0.8h-5.3zM32.4 181.0h8.9v0.8h-8.9zM8.6 185.3h7.2v0.8h-7.2zM35.4 200.7h12.5v0.8h-12.5zM34.1 247.1h9.2v0.8h-9.2zM8.6 245.1h12.0v0.8h-12.0zM54.1 260.1h11.0v0.8h-11.0zM29.8 204.0h4.0v0.8h-4.0zM10.4 239.0h3.7v0.8h-3.7zM14.9 177.5h6.4v0.8h-6.4zM8.6 154.9h4.5v0.8h-4.5zM28.2 162.0h3.3v0.8h-3.3zM42.2 273.7h4.5v0.8h-4.5zM25.5 183.8h6.6v0.8h-6.6zM51.6 165.1h12.9v0.8h-12.9zM34.9 214.7h3.9v0.8h-3.9zM25.8 162.1h5.6v0.8h-5.6zM16.4 267.2h3.2v0.8h-3.2zM37.2 284.8h4.5v0.8h-4.5zM8.6 225.8h8.3v0.8h-8.3zM54.0 288.8h10.0v0.8h-10.0zM27.6 185.1h4.7v0.8h-4.7zM34.3 258.9h10.8v0.8h-10.8zM16.0 195.0h11.1v0.8h-11.1zM52.8 289.7h11.1v0.8h-11.1zM49.1 265.6h5.3v0.8h-5.3zM27.7 222.2h3.3v0.8h-3.3zM22.1 151.3h5.6v0.8h-5.6zM60.6 247.4h6.3v0.8h-6.3zM59.9 282.8h7.0v0.8h-7.0zM18.8 200.0h5.3v0.8h-5.3zM15.9 175.7h9.2v0.8h-9.2zM53.7 277.5h7.8v0.8h-7.8zM53.3 241.7h3.8v0.8h-3.8zM56.2 242.8h10.7v0.8h-10.7zM34.1 255.8h4.8v0.8h-4.8zM22.5 261.4h11.0v0.8h-11.0zM28.2 287.8h7.0v0.8h-7.0zM48.5 284.2h4.7v0.8h-4.7zM11.4 165.7h12.0v0.8h-12.0zM11.5 263.9h11.3v0.8h-11.3zM43.7 289.1h6.5v0.8h-6.5zM14.7 226.6h3.1v0.8h-3.1zM42.3 287.7h8.3v0.8h-8.3zM28.0 282.3h11.7v0.8h-11.7zM18.1 266.8h5.5v0.8h-5.5zM18.2 189.7h8.9v0.8h-8.9zM95.9 272.2h10.1v0.8h-10.1zM69.1 256.7h12.9v0.8h-12.9zM69.2 251.6h11.3v0.8h-11.3zM72.6 204.0h12.6v0.8h-12.6zM111.9 228.7h4.4v0.8h-4.4zM69.6 259.5h5.4v0.8h-5.4zM68.9 201.1h8.9v0.8h-8.9zM81.3 178.1h10.1v0.8h-10.1zM116.1 208.9h9.2v0.8h-9.2zM95.6 273.4h12.2v0.8h-12.2zM73.5 273.2h10.5v0.8h-10.5zM108.5 196.7h9.8v0.8h-9.8zM72.7 266.7h6.7v0.8h-6.7zM119.1 253.9h8.1v0.8h-8.1zM102.1 153.6h4.0v0.8h-4.0zM113.7 226.7h4.1v0.8h-4.1zM105.5 281.1h5.5v0.8h-5.5zM89.3 175.2h11.4v0.8h-11.4zM73.9 231.4h3.2v0.8h-3.2zM113.2 163.3h4.9v0.8h-4.9zM80.9 227.4h9.9v0.8h-9.9zM71.4 202.4h11.8v0.8h-11.8zM103.6 225.2h11.1v0.8h-11.1zM68.9 284.5h6.4v0.8h-6.4zM92.3 169.1h11.7v0.8h-11.7zM68.9 263.0h4.8v0.8h-4.8zM105.1 265.6h6.9v0.8h-6.9zM72.4 216.1h11.5v0.8h-11.5zM115.2 204.2h9.1v0.8h-9.1zM85.5 158.3h5.2v0.8h-5.2zM101.5 276.6h3.4v0.8h-3.4zM86.1 171.8h7.7v0.8h-7.7zM88.2 230.7h6.5v0.8h-6.5zM99.5 148.2h6.3v0.8h-6.3zM89.3 150.3h12.9v0.8h-12.9zM72.5 153.9h9.7v0.8h-9.7zM80.8 186.7h8.0v0.8h-8.0zM97.9 185.2h8.3v0.8h-8.3zM125.1 285.7h2.1v0.8h-2.1zM108.0 228.4h11.7v0.8h-11.7zM101.1 259.3h9.3v0.8h-9.3zM79.8 199.8h11.0v0.8h-11.0zM118.7 273.5h8.5v0.8h-8.5zM108.2 191.3h10.4v0.8h-10.4zM102.7 220.9h6.5v0.8h-6.5zM90.8 226.9h3.6v0.8h-3.6zM81.3 196.1h12.9v0.8h-12.9zM87.6 216.9h5.4v0.8h-5.4zM87.1 181.3h4.4v0.8h-4.4zM115.9 148.3h7.5v0.8h-7.5zM99.0 211.7h6.0v0.8h-6.0zM69.8 171.7h6.0v0.8h-6.0zM107.0 191.9h8.5v0.8h-8.5zM82.6 282.9h12.2v0.8h-12.2zM71.2 231.7h4.8v0.8h-4.8zM123.2 231.2h4.0v0.8h-4.0zM88.0 259.3h11.7v0.8h-11.7zM91.2 157.1h12.0v0.8h-12.0zM82.3 187.2h3.2v0.8h-3.2zM79.5 171.1h10.0v0.8h-10.0zM89.7 178.9h5.0v0.8h-5.0zM114.5 234.5h9.5v0.8h-9.5zM105.4 175.7h12.6v0.8h-12.6zM68.9 234.2h11.1v0.8h-11.1zM86.6 273.9h4.4v0.8h-4.4zM94.3 174.5h11.8v0.8h-11.8zM120.1 239.8h5.1v0.8h-5.1zM107.8 194.5h9.5v0.8h-9.5zM105.3 205.9h6.4v0.8h-6.4zM91.3 155.6h3.5v0.8h-3.5zM84.4 237.9h7.9v0.8h-7.9zM80.1 233.7h7.6v0.8h-7.6zM118.5 149.3h8.6v0.8h-8.6zM68.9 290.1h9.1v0.8h-9.1zM86.1 252.0h3.9v0.8h-3.9zM71.9 169.9h10.7v0.8h-10.7zM112.7 160.3h7.2v0.8h-7.2zM98.9 225.2h8.5v0.8h-8.5zM100.8 242.4h6.3v0.8h-6.3zM78.9 254.5h10.1v0.8h-10.1zM182.3 263.3h5.7v0.8h-5.7zM178.0 238.7h7.7v0.8h-7.7zM169.4 277.4h6.1v0.8h-6.1zM161.1 273.7h4.1v0.8h-4.1zM174.0 232.3h8.2v0.8h-8.2zM148.1 217.3h11.8v0.8h-11.8zM138.5 243.5h6.6v0.8h-6.6zM180.6 199.8h7.4v0.8h-7.4zM181.3 165.4h3.3v0.8h-3.3zM149.8 232.7h10.2v0.8h-10.2zM131.0 209.4h8.2v0.8h-8.2zM172.4 265.9h6.6v0.8h-6.6zM167.6 179.4h11.0v0.8h-11.0zM174.7 179.0h12.9v0.8h-12.9zM146.8 210.0h10.1v0.8h-10.1zM138.5 281.7h6.0v0.8h-6.0zM170.0 194.9h4.9v0.8h-4.9zM154.0 226.4h9.7v0.8h-9.7zM179.0 168.0h9.0v0.8h-9.0zM173.6 228.4h4.8v0.8h-4.8zM156.5 278.9h10.6v0.8h-10.6zM144.7 272.9h12.2v0.8h-12.2zM129.7 177.3h8.0v0.8h-8.0zM175.9 277.2h12.1v0.8h-12.1zM179.8 221.2h8.2v0.8h-8.2zM161.0 168.1h11.0v0.8h-11.0zM162.0 208.6h5.6v0.8h-5.6zM150.1 187.2h8.1v0.8h-8.1zM133.6 215.0h3.1v0.8h-3.1zM166.3 196.5h10.5v0.8h-10.5zM140.5 181.6h8.2v0.8h-8.2zM158.8 172.7h12.0v0.8h-12.0zM158.7 176.5h10.2v0.8h-10.2zM166.2 255.6h10.1v0.8h-10.1zM172.5 186.7h12.3v0.8h-12.3zM181.0 154.9h7.0v0.8h-7.0zM129.7 159.8h11.0v0.8h-11.0zM134.2 245.3h7.6v0.8h-7.6zM184.7 239.7h3.3v0.8h-3.3zM141.5 258.1h5.0v0.8h-5.0zM149.0 170.6h9.2v0.8h-9.2zM136.5 191.1h5.2v0.8h-5.2zM137.9 159.6h6.2v0.8h-6.2zM136.5 220.3h7.8v0.8h-7.8zM182.5 210.9h5.5v0.8h-5.5zM154.7 283.9h5.0v0.8h-5.0zM135.8 232.9h4.7v0.8h-4.7zM164.3 157.9h12.7v0.8h-12.7zM146.7 205.6h7.3v0.8h-7.3zM166.5 198.2h6.9v0.8h-6.9zM175.7 169.3h8.7v0.8h-8.7zM174.1 148.2h10.3v0.8h-10.3zM160.3 198.6h12.2v0.8h-12.2zM151.9 205.4h6.0v0.8h-6.0zM163.2 227.4h10.4v0.8h-10.4zM134.8 284.6h6.7v0.8h-6.7zM171.4 270.4h8.9v0.8h-8.9zM143.3 245.2h12.4v0.8h-12.4zM150.8 226.7h4.8v0.8h-4.8zM176.5 164.0h11.0v0.8h-11.0zM144.6 151.2h7.8v0.8h-7.8zM144.9 219.0h12.0v0.8h-12.0zM154.6 197.9h12.3v0.8h-12.3zM154.3 239.7h6.3v0.8h-6.3zM159.8 203.3h10.9v0.8h-10.9zM147.9 185.0h6.9v0.8h-6.9zM178.7 199.8h8.4v0.8h-8.4zM143.5 187.2h11.2v0.8h-11.2zM168.3 170.5h3.2v0.8h-3.2zM129.7 175.2h11.1v0.8h-11.1zM141.2 168.5h3.6v0.8h-3.6zM167.4 185.5h10.2v0.8h-10.2zM180.7 278.9h7.3v0.8h-7.3zM129.7 280.6h12.3v0.8h-12.3zM135.7 210.1h10.5v0.8h-10.5zM150.2 271.5h3.9v0.8h-3.9zM169.1 273.5h9.0v0.8h-9.0zM130.1 288.5h3.6v0.8h-3.6zM129.7 165.3h10.1v0.8h-10.1zM133.9 238.4h4.6v0.8h-4.6zM235.8 201.6h11.0v0.8h-11.0zM193.1 193.6h11.1v0.8h-11.1zM206.8 207.4h7.6v0.8h-7.6zM236.2 252.6h12.2v0.8h-12.2zM197.1 258.1h6.7v0.8h-6.7zM198.7 148.3h6.4v0.8h-6.4zM215.8 172.9h4.3v0.8h-4.3zM211.4 241.7h5.5v0.8h-5.5zM207.7 246.5h3.2v0.8h-3.2zM228.3 268.5h11.8v0.8h-11.8zM200.6 189.8h10.0v0.8h-10.0zM241.8 168.5h6.7v0.8h-6.7zM190.3 226.6h5.8v0.8h-5.8zM245.1 208.5h3.4v0.8h-3.4zM190.2 232.9h12.7v0.8h-12.7zM232.3 255.3h10.5v0.8h-10.5zM202.6 173.3h3.4v0.8h-3.4zM192.5 227.0h4.9v0.8h-4.9zM238.4 172.5h10.1v0.8h-10.1zM244.5 188.6h4.0v0.8h-4.0zM206.9 167.6h11.1v0.8h-11.1zM232.0 161.6h8.4v0.8h-8.4zM208.1 262.8h3.4v0.8h-3.4zM228.3 161.6h8.1v0.8h-8.1zM198.9 257.7h5.8v0.8h-5.8zM234.8 177.9h10.0v0.8h-10.0zM230.8 169.7h3.4v0.8h-3.4zM199.9 214.8h10.6v0.8h-10.6zM227.6 251.2h5.0v0.8h-5.0zM222.5 153.5h9.9v0.8h-9.9zM233.1 148.6h12.0v0.8h-12.0zM215.7 199.5h9.5v0.8h-9.5zM224.0 281.2h8.2v0.8h-8.2zM217.1 258.5h3.3v0.8h-3.3zM211.2 226.4h6.4v0.8h-6.4zM200.0 204.3h6.1v0.8h-6.1zM238.0 255.3h7.6v0.8h-7.6zM193.4 269.6h8.2v0.8h-8.2zM232.3 254.9h6.9v0.8h-6.9zM241.7 171.6h6.8v0.8h-6.8zM208.3 241.7h4.1v0.8h-4.1zM207.8 229.8h11.9v0.8h-11.9zM229.9 243.2h8.7v0.8h-8.7zM191.5 256.2h13.0v0.8h-13.0zM222.6 231.3h4.9v0.8h-4.9zM226.2 160.5h10.3v0.8h-10.3zM201.1 243.7h7.9v0.8h-7.9zM221.5 258.4h12.1v0.8h-12.1zM233.8 160.2h3.1v0.8h-3.1zM219.5 237.7h3.7v0.8h-3.7zM223.3 207.9h11.7v0.8h-11.7zM214.4 158.5h11.0v0.8h-11.0zM236.0 164.2h12.4v0.8h-12.4zM200.1 196.8h4.5v0.8h-4.5zM209.6 179.0h10.1v0.8h-10.1zM216.5 282.8h12.5v0.8h-12.5zM227.0 209.0h3.0v0.8h-3.0zM190.2 207.8h4.3v0.8h-4.3zM193.9 264.2h6.0v0.8h-6.0zM219.2 223.4h3.3v0.8h-3.3zM226.1 163.3h7.0v0.8h-7.0zM214.7 160.6h6.7v0.8h-6.7zM190.6 291.8h4.8v0.8h-4.8zM216.0 158.1h12.6v0.8h-12.6zM192.5 259.7h8.4v0.8h-8.4zM242.1 199.1h6.4v0.8h-6.4zM201.5 234.7h7.4v0.8h-7.4zM208.0 223.5h8.6v0.8h-8.6zM208.3 160.3h12.9v0.8h-12.9zM214.4 205.0h10.5v0.8h-10.5zM229.7 264.8h6.8v0.8h-6.8zM197.3 250.2h9.2v0.8h-9.2zM199.0 149.6h4.8v0.8h-4.8zM231.6 198.2h3.2v0.8h-3.2zM190.2 274.0h12.5v0.8h-12.5zM220.3 284.5h11.4v0.8h-11.4zM210.5 283.4h11.6v0.8h-11.6zM231.0 152.3h9.5v0.8h-9.5zM197.0 259.6h3.8v0.8h-3.8zM220.6 222.9h9.9v0.8h-9.9z" fill="#c6c6ca" opacity="1.0"/><path d="M34.2 147.4h5.6v0.7h-5.6zM37.8 147.4h8.2v0.7h-8.2zM33.5 148.4h9.7v0.7h-9.7zM28.4 148.4h10.2v0.7h-10.2zM28.1 149.4h10.1v0.7h-10.1zM29.1 149.4h9.4v0.7h-9.4zM31.7 150.4h6.9v0.7h-6.9zM26.1 150.4h14.8v0.7h-14.8zM34.7 151.4h10.2v0.7h-10.2zM38.1 151.4h6.3v0.7h-6.3zM38.8 152.4h7.2v0.7h-7.2zM35.1 152.4h5.6v0.7h-5.6zM41.0 153.4h11.6v0.7h-11.6zM39.4 153.4h5.0v0.7h-5.0zM33.5 154.4h6.4v0.7h-6.4zM30.9 154.4h7.5v0.7h-7.5zM34.3 155.4h9.9v0.7h-9.9zM28.5 155.4h8.7v0.7h-8.7zM35.1 156.4h6.0v0.7h-6.0zM36.2 156.4h12.0v0.7h-12.0zM33.7 157.4h4.0v0.7h-4.0zM36.3 157.4h9.7v0.7h-9.7zM34.4 158.4h11.9v0.7h-11.9zM36.5 158.4h7.9v0.7h-7.9zM21.9 159.4h13.7v0.7h-13.7zM31.5 159.4h11.0v0.7h-11.0zM33.0 160.4h4.0v0.7h-4.0zM32.0 160.4h10.4v0.7h-10.4zM23.9 161.4h13.2v0.7h-13.2zM32.3 161.4h11.7v0.7h-11.7zM26.4 162.4h9.6v0.7h-9.6zM41.1 162.4h6.4v0.7h-6.4zM29.9 163.4h10.3v0.7h-10.3zM33.2 163.4h5.6v0.7h-5.6zM33.3 164.4h8.1v0.7h-8.1zM30.9 164.4h13.0v0.7h-13.0zM34.4 165.4h5.2v0.7h-5.2zM34.9 165.4h7.4v0.7h-7.4zM27.7 166.4h4.6v0.7h-4.6zM24.2 166.4h11.7v0.7h-11.7zM30.0 167.4h6.0v0.7h-6.0zM32.4 167.4h6.5v0.7h-6.5zM31.6 168.4h14.6v0.7h-14.6zM28.1 168.4h10.3v0.7h-10.3zM25.6 169.4h15.4v0.7h-15.4zM26.5 170.4h5.9v0.7h-5.9zM26.5 170.4h12.7v0.7h-12.7zM26.8 171.4h10.3v0.7h-10.3zM22.1 172.4h15.5v0.7h-15.5zM31.9 172.4h10.0v0.7h-10.0zM33.7 173.4h6.5v0.7h-6.5zM28.1 173.4h7.7v0.7h-7.7zM37.3 174.4h6.6v0.7h-6.6zM35.8 174.4h4.7v0.7h-4.7zM30.8 175.4h8.5v0.7h-8.5zM25.4 176.4h15.0v0.7h-15.0zM28.8 176.4h4.4v0.7h-4.4zM39.7 177.4h7.1v0.7h-7.1zM31.7 177.4h7.8v0.7h-7.8zM43.7 178.4h8.6v0.7h-8.6zM29.7 178.4h9.2v0.7h-9.2zM37.9 179.4h6.4v0.7h-6.4zM34.5 180.4h5.2v0.7h-5.2zM32.9 180.4h12.5v0.7h-12.5zM33.9 181.4h10.8v0.7h-10.8zM27.1 182.4h13.7v0.7h-13.7zM36.2 183.4h11.0v0.7h-11.0zM44.2 183.4h8.5v0.7h-8.5zM33.5 184.4h11.2v0.7h-11.2zM33.1 185.4h5.2v0.7h-5.2zM31.5 185.4h10.6v0.7h-10.6zM28.9 186.4h9.0v0.7h-9.0zM27.6 186.4h16.0v0.7h-16.0zM40.3 187.4h4.2v0.7h-4.2zM37.6 188.4h9.9v0.7h-9.9zM33.8 189.4h14.9v0.7h-14.9zM30.1 190.4h5.5v0.7h-5.5zM30.4 190.4h12.7v0.7h-12.7zM26.9 191.4h11.5v0.7h-11.5zM29.4 191.4h9.0v0.7h-9.0zM33.2 192.4h9.5v0.7h-9.5zM24.5 193.4h10.0v0.7h-10.0zM18.5 194.4h15.0v0.7h-15.0zM31.1 194.4h13.5v0.7h-13.5zM23.9 195.4h6.5v0.7h-6.5zM32.1 195.4h10.1v0.7h-10.1zM35.6 196.4h11.6v0.7h-11.6zM33.7 196.4h14.5v0.7h-14.5zM39.0 197.4h8.3v0.7h-8.3zM31.8 198.4h11.4v0.7h-11.4zM33.4 199.4h11.0v0.7h-11.0zM35.3 200.4h14.5v0.7h-14.5zM36.5 200.4h8.8v0.7h-8.8zM35.1 201.4h4.5v0.7h-4.5zM33.1 202.4h7.7v0.7h-7.7zM35.0 204.4h7.2v0.7h-7.2zM36.7 205.4h6.9v0.7h-6.9zM28.7 205.4h11.6v0.7h-11.6zM30.5 206.4h6.5v0.7h-6.5zM33.1 206.4h4.9v0.7h-4.9zM38.1 207.4h11.6v0.7h-11.6zM34.3 208.4h4.4v0.7h-4.4zM33.5 209.4h7.8v0.7h-7.8zM32.1 209.4h4.3v0.7h-4.3zM37.2 210.4h9.2v0.7h-9.2zM34.1 210.4h8.2v0.7h-8.2zM39.6 211.4h9.9v0.7h-9.9zM43.2 213.4h4.3v0.7h-4.3zM38.5 213.4h7.2v0.7h-7.2zM26.9 214.4h14.1v0.7h-14.1zM33.7 215.4h7.6v0.7h-7.6zM30.9 216.4h8.6v0.7h-8.6zM34.9 217.4h13.5v0.7h-13.5zM33.2 217.4h10.0v0.7h-10.0zM33.9 218.4h6.7v0.7h-6.7zM25.3 218.4h14.6v0.7h-14.6zM24.1 219.4h12.6v0.7h-12.6zM37.6 219.4h7.0v0.7h-7.0zM23.9 221.4h13.9v0.7h-13.9zM32.3 221.4h8.9v0.7h-8.9zM34.5 222.4h4.2v0.7h-4.2zM37.2 222.4h9.0v0.7h-9.0zM32.1 223.4h5.6v0.7h-5.6zM32.3 223.4h13.7v0.7h-13.7zM33.6 225.4h7.6v0.7h-7.6zM35.3 228.4h13.4v0.7h-13.4zM26.7 230.4h10.5v0.7h-10.5zM30.2 231.4h9.0v0.7h-9.0zM27.8 235.4h11.0v0.7h-11.0zM36.5 239.4h9.2v0.7h-9.2zM40.9 242.4h6.9v0.7h-6.9zM24.4 243.4h11.5v0.7h-11.5zM23.6 246.4h15.3v0.7h-15.3zM36.1 247.4h11.3v0.7h-11.3zM26.5 250.4h6.4v0.7h-6.4zM29.5 251.4h7.1v0.7h-7.1zM30.1 255.4h15.4v0.7h-15.4zM33.2 256.4h10.7v0.7h-10.7zM33.2 256.4h9.5v0.7h-9.5zM24.1 257.4h12.0v0.7h-12.0zM42.0 258.4h4.6v0.7h-4.6zM26.2 258.4h12.5v0.7h-12.5zM30.2 259.4h9.8v0.7h-9.8zM31.4 259.4h12.1v0.7h-12.1zM39.3 260.4h11.5v0.7h-11.5zM29.5 260.4h8.1v0.7h-8.1zM28.1 260.4h5.7v0.7h-5.7zM33.9 261.4h15.7v0.7h-15.7zM39.3 261.4h6.5v0.7h-6.5zM29.4 261.4h7.4v0.7h-7.4zM40.6 262.4h10.3v0.7h-10.3zM35.6 262.4h5.7v0.7h-5.7zM32.9 263.4h14.4v0.7h-14.4zM28.2 264.4h14.4v0.7h-14.4zM22.9 264.4h12.5v0.7h-12.5zM29.9 265.4h12.6v0.7h-12.6zM24.5 266.4h10.3v0.7h-10.3zM31.5 266.4h8.0v0.7h-8.0zM29.0 267.4h10.1v0.7h-10.1zM30.3 268.4h10.2v0.7h-10.2zM28.9 268.4h5.8v0.7h-5.8zM39.2 269.4h9.6v0.7h-9.6zM32.3 269.4h10.1v0.7h-10.1zM34.9 269.4h11.0v0.7h-11.0zM28.7 270.4h12.9v0.7h-12.9zM36.9 271.4h8.6v0.7h-8.6zM31.1 272.4h14.9v0.7h-14.9zM36.8 273.4h10.3v0.7h-10.3zM42.1 274.4h9.1v0.7h-9.1zM32.9 274.4h7.5v0.7h-7.5zM26.9 275.4h10.6v0.7h-10.6zM28.4 275.4h8.9v0.7h-8.9zM35.2 276.4h8.2v0.7h-8.2zM30.7 277.4h14.5v0.7h-14.5zM34.3 277.4h13.5v0.7h-13.5zM36.4 278.4h8.1v0.7h-8.1zM28.3 280.4h10.0v0.7h-10.0zM33.2 280.4h4.8v0.7h-4.8zM31.3 280.4h12.6v0.7h-12.6zM33.0 281.4h12.6v0.7h-12.6zM39.1 282.4h13.3v0.7h-13.3zM32.7 282.4h6.9v0.7h-6.9zM29.6 283.4h12.4v0.7h-12.4zM35.8 284.4h12.0v0.7h-12.0zM23.2 284.4h8.2v0.7h-8.2zM25.6 285.4h6.5v0.7h-6.5zM30.5 285.4h12.4v0.7h-12.4zM37.5 285.4h5.4v0.7h-5.4zM34.4 286.4h5.7v0.7h-5.7zM34.5 287.4h10.6v0.7h-10.6zM30.6 290.4h8.8v0.7h-8.8zM36.0 290.4h10.6v0.7h-10.6zM90.0 147.4h13.2v0.7h-13.2zM86.9 147.4h15.7v0.7h-15.7zM93.8 148.4h8.3v0.7h-8.3zM93.6 150.4h7.9v0.7h-7.9zM100.9 150.4h4.8v0.7h-4.8zM92.4 151.4h6.7v0.7h-6.7zM90.2 152.4h14.4v0.7h-14.4zM93.9 152.4h7.4v0.7h-7.4zM88.8 153.4h6.5v0.7h-6.5zM94.4 154.4h6.0v0.7h-6.0zM85.0 155.4h6.8v0.7h-6.8zM93.9 157.4h15.6v0.7h-15.6zM91.2 158.4h12.3v0.7h-12.3zM85.9 158.4h12.3v0.7h-12.3zM92.4 159.4h11.3v0.7h-11.3zM90.3 160.4h11.8v0.7h-11.8zM85.3 161.4h6.8v0.7h-6.8zM91.1 161.4h12.5v0.7h-12.5zM99.7 162.4h7.2v0.7h-7.2zM85.3 162.4h10.3v0.7h-10.3zM93.9 163.4h11.7v0.7h-11.7zM94.1 164.4h13.6v0.7h-13.6zM100.1 165.4h13.6v0.7h-13.6zM97.3 165.4h8.4v0.7h-8.4zM95.1 166.4h6.1v0.7h-6.1zM93.5 166.4h6.9v0.7h-6.9zM99.8 167.4h4.5v0.7h-4.5zM89.0 167.4h7.5v0.7h-7.5zM93.6 168.4h15.7v0.7h-15.7zM92.2 169.4h11.1v0.7h-11.1zM84.7 169.4h9.0v0.7h-9.0zM94.7 170.4h4.5v0.7h-4.5zM93.3 171.4h4.7v0.7h-4.7zM94.0 171.4h4.7v0.7h-4.7zM87.2 172.4h4.1v0.7h-4.1zM85.0 175.4h9.3v0.7h-9.3zM90.9 176.4h10.0v0.7h-10.0zM92.5 177.4h13.4v0.7h-13.4zM87.4 182.4h9.8v0.7h-9.8zM96.8 183.4h4.4v0.7h-4.4zM96.0 184.4h4.8v0.7h-4.8zM89.6 185.4h8.5v0.7h-8.5zM94.2 186.4h10.0v0.7h-10.0zM92.6 187.4h14.5v0.7h-14.5zM92.4 188.4h6.8v0.7h-6.8zM96.8 190.4h15.3v0.7h-15.3zM92.5 190.4h6.9v0.7h-6.9zM95.6 191.4h8.0v0.7h-8.0zM100.6 191.4h9.8v0.7h-9.8zM92.7 192.4h5.1v0.7h-5.1zM88.2 192.4h15.6v0.7h-15.6zM81.4 193.4h13.6v0.7h-13.6zM83.1 193.4h13.4v0.7h-13.4zM95.7 194.4h6.8v0.7h-6.8zM95.5 195.4h13.9v0.7h-13.9zM96.1 195.4h14.0v0.7h-14.0zM90.8 196.4h13.7v0.7h-13.7zM93.4 197.4h11.9v0.7h-11.9zM100.3 197.4h4.5v0.7h-4.5zM95.6 198.4h8.7v0.7h-8.7zM91.0 199.4h10.6v0.7h-10.6zM89.9 200.4h8.5v0.7h-8.5zM101.5 201.4h10.7v0.7h-10.7zM91.2 201.4h12.7v0.7h-12.7zM93.8 202.4h7.4v0.7h-7.4zM88.9 203.4h15.6v0.7h-15.6zM93.3 203.4h5.9v0.7h-5.9zM85.5 206.4h13.1v0.7h-13.1zM96.8 207.4h13.9v0.7h-13.9zM89.5 208.4h7.7v0.7h-7.7zM97.6 208.4h12.3v0.7h-12.3zM94.1 209.4h14.5v0.7h-14.5zM95.9 210.4h8.8v0.7h-8.8zM89.5 210.4h13.5v0.7h-13.5zM91.6 211.4h11.8v0.7h-11.8zM100.9 213.4h4.0v0.7h-4.0zM95.2 214.4h6.7v0.7h-6.7zM89.2 215.4h14.1v0.7h-14.1zM98.8 219.4h10.7v0.7h-10.7zM90.6 220.4h14.4v0.7h-14.4zM90.5 222.4h15.9v0.7h-15.9zM95.8 225.4h4.5v0.7h-4.5zM103.8 261.4h8.6v0.7h-8.6zM94.2 263.4h8.4v0.7h-8.4zM90.8 265.4h15.2v0.7h-15.2zM94.0 265.4h12.9v0.7h-12.9zM91.8 266.4h9.5v0.7h-9.5zM105.3 266.4h4.9v0.7h-4.9zM91.6 267.4h12.9v0.7h-12.9zM92.4 267.4h11.3v0.7h-11.3zM98.1 268.4h4.4v0.7h-4.4zM96.3 268.4h5.7v0.7h-5.7zM92.6 269.4h11.5v0.7h-11.5zM91.1 269.4h16.0v0.7h-16.0zM90.1 270.4h9.4v0.7h-9.4zM89.1 270.4h12.5v0.7h-12.5zM94.2 271.4h8.9v0.7h-8.9zM85.1 271.4h15.5v0.7h-15.5zM82.1 272.4h13.7v0.7h-13.7zM90.9 272.4h10.2v0.7h-10.2zM90.6 273.4h6.8v0.7h-6.8zM88.4 273.4h4.9v0.7h-4.9zM93.7 274.4h9.2v0.7h-9.2zM91.1 274.4h6.5v0.7h-6.5zM96.2 275.4h8.9v0.7h-8.9zM95.1 275.4h15.3v0.7h-15.3zM95.0 276.4h11.6v0.7h-11.6zM84.2 276.4h15.6v0.7h-15.6zM95.9 277.4h4.8v0.7h-4.8zM98.7 277.4h4.0v0.7h-4.0zM89.5 278.4h7.1v0.7h-7.1zM97.6 278.4h5.0v0.7h-5.0zM101.0 279.4h12.3v0.7h-12.3zM90.1 279.4h13.6v0.7h-13.6zM97.0 280.4h5.3v0.7h-5.3zM99.7 280.4h6.9v0.7h-6.9zM85.8 281.4h12.0v0.7h-12.0zM92.7 281.4h13.3v0.7h-13.3zM96.3 282.4h14.5v0.7h-14.5zM102.8 282.4h6.4v0.7h-6.4zM97.0 283.4h7.8v0.7h-7.8zM91.5 283.4h8.5v0.7h-8.5zM87.6 284.4h7.6v0.7h-7.6zM92.4 284.4h13.0v0.7h-13.0zM92.2 285.4h14.0v0.7h-14.0zM96.5 285.4h9.1v0.7h-9.1zM90.0 286.4h12.6v0.7h-12.6zM99.7 286.4h5.6v0.7h-5.6zM100.6 287.4h8.1v0.7h-8.1zM83.1 287.4h14.4v0.7h-14.4zM92.2 288.4h5.3v0.7h-5.3zM93.6 288.4h14.9v0.7h-14.9zM82.3 289.4h14.1v0.7h-14.1zM86.7 289.4h13.8v0.7h-13.8zM86.9 290.4h13.4v0.7h-13.4zM91.5 290.4h14.4v0.7h-14.4zM143.2 147.4h9.2v0.7h-9.2zM152.1 148.4h8.0v0.7h-8.0zM151.1 149.4h8.5v0.7h-8.5zM159.0 150.4h11.0v0.7h-11.0zM153.4 150.4h13.3v0.7h-13.3zM152.1 152.4h14.7v0.7h-14.7zM160.2 153.4h11.6v0.7h-11.6zM149.8 153.4h14.3v0.7h-14.3zM149.6 154.4h7.2v0.7h-7.2zM148.8 154.4h14.6v0.7h-14.6zM156.0 156.4h4.6v0.7h-4.6zM150.3 156.4h15.6v0.7h-15.6zM160.5 157.4h7.2v0.7h-7.2zM158.4 158.4h9.0v0.7h-9.0zM155.4 158.4h9.1v0.7h-9.1zM151.0 159.4h6.2v0.7h-6.2zM155.8 159.4h9.1v0.7h-9.1zM159.3 160.4h8.0v0.7h-8.0zM149.6 160.4h12.0v0.7h-12.0zM160.4 161.4h9.2v0.7h-9.2zM158.2 161.4h5.2v0.7h-5.2zM158.4 162.4h13.6v0.7h-13.6zM156.4 162.4h7.9v0.7h-7.9zM151.2 163.4h4.0v0.7h-4.0zM144.8 163.4h16.0v0.7h-16.0zM147.7 164.4h12.0v0.7h-12.0zM153.0 164.4h10.4v0.7h-10.4zM152.5 164.4h13.4v0.7h-13.4zM153.2 165.4h12.8v0.7h-12.8zM154.4 167.4h11.1v0.7h-11.1zM158.5 167.4h8.6v0.7h-8.6zM149.8 168.4h11.2v0.7h-11.2zM161.4 168.4h5.5v0.7h-5.5zM154.6 169.4h10.6v0.7h-10.6zM143.0 169.4h13.6v0.7h-13.6zM156.0 170.4h10.1v0.7h-10.1zM156.5 170.4h8.3v0.7h-8.3zM150.6 171.4h8.8v0.7h-8.8zM150.2 171.4h9.4v0.7h-9.4zM151.2 172.4h11.4v0.7h-11.4zM151.4 172.4h10.1v0.7h-10.1zM148.2 173.4h11.8v0.7h-11.8zM151.2 173.4h12.7v0.7h-12.7zM154.2 174.4h11.5v0.7h-11.5zM156.1 174.4h5.9v0.7h-5.9zM145.8 175.4h13.4v0.7h-13.4zM162.0 175.4h14.0v0.7h-14.0zM150.7 176.4h10.3v0.7h-10.3zM147.0 176.4h15.0v0.7h-15.0zM149.3 177.4h11.5v0.7h-11.5zM155.9 179.4h7.0v0.7h-7.0zM153.8 179.4h7.0v0.7h-7.0zM155.7 180.4h8.7v0.7h-8.7zM163.1 180.4h10.1v0.7h-10.1zM151.2 181.4h14.1v0.7h-14.1zM155.7 183.4h4.5v0.7h-4.5zM153.2 183.4h14.5v0.7h-14.5zM150.4 184.4h15.1v0.7h-15.1zM159.9 184.4h5.5v0.7h-5.5zM159.3 185.4h15.3v0.7h-15.3zM148.4 185.4h5.2v0.7h-5.2zM146.9 186.4h8.5v0.7h-8.5zM150.8 186.4h14.7v0.7h-14.7zM159.2 187.4h4.5v0.7h-4.5zM154.2 188.4h13.4v0.7h-13.4zM152.8 189.4h8.7v0.7h-8.7zM157.1 189.4h9.2v0.7h-9.2zM150.4 191.4h5.2v0.7h-5.2zM145.0 192.4h11.6v0.7h-11.6zM153.2 192.4h15.7v0.7h-15.7zM160.6 192.4h4.2v0.7h-4.2zM154.2 193.4h8.0v0.7h-8.0zM155.8 194.4h13.1v0.7h-13.1zM149.5 195.4h9.5v0.7h-9.5zM150.9 195.4h11.5v0.7h-11.5zM140.8 195.4h11.6v0.7h-11.6zM156.0 196.4h15.4v0.7h-15.4zM152.5 197.4h5.6v0.7h-5.6zM147.7 197.4h10.1v0.7h-10.1zM151.5 198.4h7.0v0.7h-7.0zM163.3 199.4h5.3v0.7h-5.3zM150.9 200.4h12.9v0.7h-12.9zM157.9 200.4h7.9v0.7h-7.9zM157.7 200.4h9.8v0.7h-9.8zM156.7 201.4h14.7v0.7h-14.7zM156.9 201.4h11.9v0.7h-11.9zM151.5 203.4h15.8v0.7h-15.8zM156.6 203.4h11.1v0.7h-11.1zM150.7 204.4h4.5v0.7h-4.5zM144.1 204.4h13.8v0.7h-13.8zM154.9 205.4h12.6v0.7h-12.6zM154.5 205.4h11.8v0.7h-11.8zM147.3 205.4h10.7v0.7h-10.7zM154.8 206.4h15.8v0.7h-15.8zM146.0 207.4h12.0v0.7h-12.0zM156.1 208.4h15.3v0.7h-15.3zM153.0 208.4h10.7v0.7h-10.7zM155.0 209.4h8.4v0.7h-8.4zM154.3 209.4h10.9v0.7h-10.9zM157.6 209.4h7.7v0.7h-7.7zM151.8 210.4h14.0v0.7h-14.0zM149.0 211.4h15.2v0.7h-15.2zM157.8 211.4h14.7v0.7h-14.7zM154.4 212.4h4.3v0.7h-4.3zM155.7 213.4h7.3v0.7h-7.3zM159.3 213.4h4.5v0.7h-4.5zM160.1 214.4h9.9v0.7h-9.9zM157.3 214.4h5.7v0.7h-5.7zM151.9 214.4h14.5v0.7h-14.5zM154.3 215.4h15.0v0.7h-15.0zM145.4 216.4h10.9v0.7h-10.9zM150.5 217.4h6.9v0.7h-6.9zM162.1 217.4h7.4v0.7h-7.4zM146.8 217.4h7.9v0.7h-7.9zM156.5 219.4h11.3v0.7h-11.3zM146.2 220.4h6.0v0.7h-6.0zM159.3 220.4h5.6v0.7h-5.6zM149.6 220.4h13.1v0.7h-13.1zM156.0 221.4h9.5v0.7h-9.5zM155.8 221.4h10.5v0.7h-10.5zM154.8 222.4h4.5v0.7h-4.5zM153.0 222.4h7.1v0.7h-7.1zM156.4 222.4h9.2v0.7h-9.2zM144.1 224.4h14.7v0.7h-14.7zM147.2 225.4h13.6v0.7h-13.6zM157.1 226.4h7.8v0.7h-7.8zM145.8 227.4h13.6v0.7h-13.6zM153.1 227.4h15.6v0.7h-15.6zM160.0 228.4h8.8v0.7h-8.8zM150.1 229.4h14.2v0.7h-14.2zM156.4 230.4h5.5v0.7h-5.5zM152.4 231.4h9.6v0.7h-9.6zM151.2 231.4h4.5v0.7h-4.5zM160.0 232.4h8.0v0.7h-8.0zM153.2 233.4h4.2v0.7h-4.2zM155.2 234.4h10.4v0.7h-10.4zM157.4 235.4h4.0v0.7h-4.0zM158.4 236.4h7.8v0.7h-7.8zM155.0 236.4h5.9v0.7h-5.9zM150.3 236.4h13.6v0.7h-13.6zM156.1 237.4h6.2v0.7h-6.2zM151.4 237.4h7.9v0.7h-7.9zM150.0 238.4h4.0v0.7h-4.0zM152.5 239.4h13.4v0.7h-13.4zM151.2 239.4h10.3v0.7h-10.3zM144.1 241.4h15.6v0.7h-15.6zM151.0 242.4h4.9v0.7h-4.9zM155.0 243.4h10.1v0.7h-10.1zM154.3 244.4h7.1v0.7h-7.1zM155.1 244.4h6.5v0.7h-6.5zM154.2 244.4h7.9v0.7h-7.9zM147.1 245.4h5.4v0.7h-5.4zM149.5 245.4h8.5v0.7h-8.5zM152.5 246.4h8.6v0.7h-8.6zM148.7 246.4h13.6v0.7h-13.6zM154.6 247.4h4.3v0.7h-4.3zM154.5 249.4h6.1v0.7h-6.1zM150.1 249.4h10.4v0.7h-10.4zM159.9 249.4h5.6v0.7h-5.6zM146.1 250.4h13.9v0.7h-13.9zM156.9 251.4h4.9v0.7h-4.9zM153.1 251.4h13.5v0.7h-13.5zM144.1 251.4h14.7v0.7h-14.7zM151.2 252.4h12.7v0.7h-12.7zM144.8 253.4h8.7v0.7h-8.7zM150.6 253.4h14.9v0.7h-14.9zM158.4 254.4h4.6v0.7h-4.6zM153.6 254.4h4.9v0.7h-4.9zM156.2 254.4h12.6v0.7h-12.6zM150.6 255.4h5.4v0.7h-5.4zM146.9 256.4h13.3v0.7h-13.3zM151.8 256.4h5.4v0.7h-5.4zM154.7 256.4h5.3v0.7h-5.3zM152.1 257.4h13.8v0.7h-13.8zM161.0 258.4h12.1v0.7h-12.1zM155.9 259.4h4.0v0.7h-4.0zM155.3 259.4h10.1v0.7h-10.1zM151.7 260.4h5.1v0.7h-5.1zM157.5 261.4h9.9v0.7h-9.9zM149.4 263.4h8.6v0.7h-8.6zM158.3 264.4h9.9v0.7h-9.9zM146.2 264.4h14.6v0.7h-14.6zM148.8 264.4h10.4v0.7h-10.4zM159.4 265.4h14.3v0.7h-14.3zM155.5 266.4h11.6v0.7h-11.6zM149.9 267.4h4.7v0.7h-4.7zM163.9 267.4h8.3v0.7h-8.3zM156.4 267.4h14.3v0.7h-14.3zM161.7 268.4h5.8v0.7h-5.8zM149.6 268.4h8.8v0.7h-8.8zM156.9 269.4h12.0v0.7h-12.0zM146.1 270.4h11.9v0.7h-11.9zM154.3 270.4h15.4v0.7h-15.4zM150.7 271.4h14.1v0.7h-14.1zM161.6 271.4h11.4v0.7h-11.4zM157.6 272.4h6.4v0.7h-6.4zM155.1 273.4h11.2v0.7h-11.2zM151.5 273.4h6.4v0.7h-6.4zM157.7 274.4h6.6v0.7h-6.6zM147.7 275.4h11.9v0.7h-11.9zM148.0 276.4h9.5v0.7h-9.5zM151.9 276.4h12.3v0.7h-12.3zM148.1 276.4h13.1v0.7h-13.1zM151.4 277.4h6.7v0.7h-6.7zM155.1 277.4h12.5v0.7h-12.5zM152.7 278.4h14.9v0.7h-14.9zM156.6 278.4h11.8v0.7h-11.8zM153.0 279.4h8.5v0.7h-8.5zM158.9 280.4h5.0v0.7h-5.0zM139.6 280.4h14.1v0.7h-14.1zM148.8 281.4h11.6v0.7h-11.6zM151.2 281.4h5.7v0.7h-5.7zM152.1 282.4h7.2v0.7h-7.2zM163.0 282.4h11.6v0.7h-11.6zM156.5 284.4h9.6v0.7h-9.6zM149.0 285.4h12.5v0.7h-12.5zM153.8 286.4h7.7v0.7h-7.7zM154.0 287.4h14.7v0.7h-14.7zM152.1 288.4h12.2v0.7h-12.2zM160.7 288.4h5.5v0.7h-5.5zM152.0 289.4h9.7v0.7h-9.7zM149.8 290.4h11.0v0.7h-11.0zM144.2 290.4h14.6v0.7h-14.6zM206.0 147.4h6.1v0.7h-6.1zM212.1 147.4h12.1v0.7h-12.1zM213.4 148.4h4.5v0.7h-4.5zM222.6 148.4h8.1v0.7h-8.1zM198.5 148.4h15.9v0.7h-15.9zM210.2 149.4h15.8v0.7h-15.8zM219.7 149.4h4.7v0.7h-4.7zM219.1 149.4h6.7v0.7h-6.7zM206.5 150.4h14.1v0.7h-14.1zM215.8 150.4h6.7v0.7h-6.7zM219.4 151.4h4.2v0.7h-4.2zM213.0 151.4h5.2v0.7h-5.2zM216.6 152.4h6.3v0.7h-6.3zM216.6 152.4h11.1v0.7h-11.1zM215.8 152.4h7.8v0.7h-7.8zM217.2 153.4h15.4v0.7h-15.4zM209.7 153.4h13.0v0.7h-13.0zM216.7 154.4h7.6v0.7h-7.6zM206.4 154.4h6.6v0.7h-6.6zM219.1 155.4h4.2v0.7h-4.2zM214.0 155.4h10.3v0.7h-10.3zM221.5 156.4h13.1v0.7h-13.1zM208.7 156.4h4.7v0.7h-4.7zM207.1 157.4h8.9v0.7h-8.9zM214.4 157.4h8.6v0.7h-8.6zM214.5 158.4h15.2v0.7h-15.2zM214.9 158.4h11.8v0.7h-11.8zM214.6 159.4h15.8v0.7h-15.8zM214.6 159.4h9.3v0.7h-9.3zM214.4 160.4h13.1v0.7h-13.1zM210.8 161.4h15.8v0.7h-15.8zM210.8 162.4h9.9v0.7h-9.9zM206.3 162.4h13.6v0.7h-13.6zM212.3 163.4h4.4v0.7h-4.4zM213.0 163.4h14.7v0.7h-14.7zM214.6 164.4h13.3v0.7h-13.3zM211.7 164.4h11.2v0.7h-11.2zM212.5 164.4h12.1v0.7h-12.1zM223.4 165.4h8.4v0.7h-8.4zM212.1 166.4h6.2v0.7h-6.2zM219.5 166.4h7.9v0.7h-7.9zM218.5 167.4h11.5v0.7h-11.5zM211.2 167.4h7.7v0.7h-7.7zM214.7 168.4h12.3v0.7h-12.3zM215.0 168.4h5.1v0.7h-5.1zM218.2 169.4h8.8v0.7h-8.8zM210.9 169.4h6.3v0.7h-6.3zM221.4 169.4h7.4v0.7h-7.4zM205.6 170.4h5.1v0.7h-5.1zM213.1 171.4h14.5v0.7h-14.5zM209.1 172.4h4.7v0.7h-4.7zM218.8 172.4h6.6v0.7h-6.6zM213.2 173.4h14.5v0.7h-14.5zM217.4 173.4h13.1v0.7h-13.1zM205.4 174.4h12.3v0.7h-12.3zM226.0 174.4h5.3v0.7h-5.3zM209.3 175.4h11.9v0.7h-11.9zM212.8 175.4h6.3v0.7h-6.3zM209.4 175.4h4.8v0.7h-4.8zM207.9 177.4h11.8v0.7h-11.8zM205.0 178.4h13.6v0.7h-13.6zM213.4 179.4h6.2v0.7h-6.2zM218.6 179.4h6.9v0.7h-6.9zM206.2 179.4h14.6v0.7h-14.6zM210.1 180.4h13.0v0.7h-13.0zM203.5 181.4h15.0v0.7h-15.0zM207.3 181.4h15.9v0.7h-15.9zM217.8 181.4h12.3v0.7h-12.3zM212.7 182.4h14.8v0.7h-14.8zM207.8 182.4h15.5v0.7h-15.5zM221.4 182.4h13.4v0.7h-13.4zM210.1 183.4h12.2v0.7h-12.2zM216.9 183.4h5.6v0.7h-5.6zM210.7 184.4h8.6v0.7h-8.6zM210.0 184.4h12.6v0.7h-12.6zM214.3 184.4h5.0v0.7h-5.0zM207.5 185.4h12.5v0.7h-12.5zM212.2 185.4h6.8v0.7h-6.8zM216.6 185.4h13.0v0.7h-13.0zM219.4 186.4h4.7v0.7h-4.7zM208.9 186.4h14.5v0.7h-14.5zM210.6 187.4h13.7v0.7h-13.7zM213.4 187.4h12.6v0.7h-12.6zM213.5 188.4h9.6v0.7h-9.6zM209.7 188.4h15.7v0.7h-15.7zM206.9 189.4h13.8v0.7h-13.8zM216.8 189.4h12.2v0.7h-12.2zM212.4 190.4h10.5v0.7h-10.5zM208.8 190.4h15.0v0.7h-15.0zM220.4 190.4h8.1v0.7h-8.1zM221.7 191.4h9.2v0.7h-9.2zM216.8 192.4h9.3v0.7h-9.3zM211.9 192.4h5.2v0.7h-5.2zM216.0 192.4h7.9v0.7h-7.9zM213.3 193.4h4.3v0.7h-4.3zM217.0 193.4h11.2v0.7h-11.2zM206.8 193.4h13.9v0.7h-13.9zM212.5 194.4h11.2v0.7h-11.2zM209.9 194.4h12.7v0.7h-12.7zM219.0 194.4h14.5v0.7h-14.5zM223.6 195.4h6.9v0.7h-6.9zM222.9 195.4h5.6v0.7h-5.6zM220.7 196.4h5.9v0.7h-5.9zM214.0 197.4h15.1v0.7h-15.1zM217.2 197.4h12.9v0.7h-12.9zM206.4 198.4h7.6v0.7h-7.6zM214.2 198.4h15.8v0.7h-15.8zM208.5 198.4h8.0v0.7h-8.0zM214.0 199.4h14.3v0.7h-14.3zM215.9 200.4h15.2v0.7h-15.2zM215.7 200.4h13.3v0.7h-13.3zM220.3 201.4h5.7v0.7h-5.7zM210.9 201.4h12.0v0.7h-12.0zM208.4 201.4h15.7v0.7h-15.7zM215.1 202.4h9.9v0.7h-9.9zM220.3 203.4h6.8v0.7h-6.8zM218.0 203.4h10.5v0.7h-10.5zM217.3 203.4h12.5v0.7h-12.5zM218.2 204.4h9.2v0.7h-9.2zM218.1 204.4h14.5v0.7h-14.5zM206.2 205.4h7.7v0.7h-7.7zM219.1 205.4h10.6v0.7h-10.6zM216.0 205.4h7.1v0.7h-7.1zM214.3 206.4h11.0v0.7h-11.0zM218.2 206.4h11.3v0.7h-11.3zM216.5 206.4h9.0v0.7h-9.0zM203.9 207.4h8.5v0.7h-8.5zM213.1 207.4h9.1v0.7h-9.1zM207.5 208.4h6.4v0.7h-6.4zM207.5 208.4h10.4v0.7h-10.4zM208.0 208.4h14.6v0.7h-14.6zM216.8 209.4h6.7v0.7h-6.7zM210.4 209.4h14.0v0.7h-14.0zM212.1 210.4h15.0v0.7h-15.0zM208.3 210.4h9.4v0.7h-9.4zM223.5 211.4h5.3v0.7h-5.3zM213.2 211.4h10.9v0.7h-10.9zM220.0 212.4h6.0v0.7h-6.0zM205.5 212.4h15.9v0.7h-15.9zM211.2 213.4h12.1v0.7h-12.1zM214.6 213.4h6.8v0.7h-6.8zM209.4 213.4h10.6v0.7h-10.6zM214.1 214.4h9.0v0.7h-9.0zM214.8 215.4h6.6v0.7h-6.6zM217.0 215.4h7.2v0.7h-7.2zM207.1 216.4h12.1v0.7h-12.1zM210.1 216.4h8.1v0.7h-8.1zM203.7 216.4h10.3v0.7h-10.3zM218.0 217.4h7.1v0.7h-7.1zM214.7 217.4h6.3v0.7h-6.3zM213.4 218.4h13.3v0.7h-13.3zM220.1 218.4h4.3v0.7h-4.3zM208.3 219.4h12.0v0.7h-12.0zM212.1 219.4h9.0v0.7h-9.0zM223.7 220.4h9.9v0.7h-9.9zM211.0 220.4h14.9v0.7h-14.9zM222.2 220.4h7.4v0.7h-7.4zM216.7 221.4h8.3v0.7h-8.3zM202.9 223.4h12.3v0.7h-12.3zM204.6 223.4h11.1v0.7h-11.1zM212.5 224.4h4.6v0.7h-4.6zM213.4 224.4h14.8v0.7h-14.8zM212.6 224.4h11.9v0.7h-11.9zM222.7 225.4h9.6v0.7h-9.6zM216.4 225.4h8.7v0.7h-8.7zM209.8 225.4h6.5v0.7h-6.5zM219.8 226.4h6.1v0.7h-6.1zM217.9 226.4h8.1v0.7h-8.1zM215.5 226.4h8.6v0.7h-8.6zM208.9 227.4h9.6v0.7h-9.6zM215.4 227.4h12.4v0.7h-12.4zM218.6 227.4h10.0v0.7h-10.0zM205.9 228.4h14.8v0.7h-14.8zM222.5 228.4h5.3v0.7h-5.3zM211.2 229.4h7.8v0.7h-7.8zM218.3 229.4h7.6v0.7h-7.6zM213.1 230.4h4.4v0.7h-4.4zM209.4 230.4h15.4v0.7h-15.4zM216.1 231.4h6.9v0.7h-6.9zM213.1 233.4h5.3v0.7h-5.3zM225.8 233.4h6.5v0.7h-6.5zM216.0 235.4h8.8v0.7h-8.8zM212.7 236.4h10.1v0.7h-10.1zM213.8 237.4h6.0v0.7h-6.0zM207.9 237.4h11.3v0.7h-11.3zM208.2 239.4h15.0v0.7h-15.0zM214.0 239.4h15.0v0.7h-15.0zM218.6 240.4h14.2v0.7h-14.2zM218.7 241.4h4.1v0.7h-4.1zM218.0 241.4h5.6v0.7h-5.6zM211.7 243.4h12.8v0.7h-12.8zM217.1 243.4h9.6v0.7h-9.6zM217.7 244.4h13.6v0.7h-13.6zM214.1 246.4h8.3v0.7h-8.3zM216.4 246.4h14.1v0.7h-14.1zM214.8 247.4h12.1v0.7h-12.1zM209.1 249.4h15.5v0.7h-15.5zM216.1 249.4h7.2v0.7h-7.2zM207.7 250.4h11.6v0.7h-11.6zM213.1 253.4h15.9v0.7h-15.9zM203.4 253.4h14.9v0.7h-14.9zM205.5 254.4h14.8v0.7h-14.8zM206.1 255.4h14.7v0.7h-14.7zM210.3 255.4h11.6v0.7h-11.6zM215.1 256.4h8.1v0.7h-8.1zM210.7 257.4h15.3v0.7h-15.3zM211.4 260.4h13.5v0.7h-13.5zM211.1 260.4h14.8v0.7h-14.8zM213.9 261.4h6.2v0.7h-6.2zM213.7 262.4h13.4v0.7h-13.4zM211.6 264.4h7.1v0.7h-7.1zM222.8 265.4h5.3v0.7h-5.3zM214.7 265.4h14.4v0.7h-14.4zM219.7 267.4h14.4v0.7h-14.4zM214.7 269.4h9.0v0.7h-9.0zM215.6 269.4h13.7v0.7h-13.7zM213.1 270.4h11.4v0.7h-11.4zM218.1 271.4h8.9v0.7h-8.9zM214.4 272.4h8.2v0.7h-8.2zM206.2 273.4h10.0v0.7h-10.0zM209.8 275.4h10.9v0.7h-10.9zM215.7 276.4h5.5v0.7h-5.5zM208.5 276.4h11.7v0.7h-11.7zM217.6 278.4h12.7v0.7h-12.7zM219.9 280.4h4.6v0.7h-4.6zM216.6 280.4h15.4v0.7h-15.4zM214.5 281.4h13.1v0.7h-13.1zM211.2 281.4h10.6v0.7h-10.6zM218.5 283.4h15.5v0.7h-15.5zM214.9 283.4h5.8v0.7h-5.8zM210.4 287.4h12.9v0.7h-12.9zM213.7 287.4h4.5v0.7h-4.5zM215.8 288.4h11.2v0.7h-11.2zM216.5 289.4h14.6v0.7h-14.6zM217.2 290.4h9.8v0.7h-9.8z" fill="#8a96c8" opacity="0.25"/><path d="M31.6 147.3h2.6v1h-2.6zM30.0 149.3h3.6v1h-3.6zM31.8 150.3h2.8v1h-2.8zM33.6 155.3h2.3v1h-2.3zM37.6 156.3h2.0v1h-2.0zM36.4 164.3h1.4v1h-1.4zM36.8 165.3h4.5v1h-4.5zM40.2 170.3h1.9v1h-1.9zM36.4 259.3h4.7v1h-4.7zM37.1 260.3h1.2v1h-1.2zM36.8 262.3h2.0v1h-2.0zM34.7 264.3h3.4v1h-3.4zM35.9 266.3h5.8v1h-5.8zM38.5 266.3h1.3v1h-1.3zM36.1 268.3h1.4v1h-1.4zM37.1 268.3h4.0v1h-4.0zM36.8 268.3h3.2v1h-3.2zM34.6 270.3h4.7v1h-4.7zM32.2 271.3h2.4v1h-2.4zM34.0 271.3h1.7v1h-1.7zM40.8 273.3h5.4v1h-5.4zM35.2 274.3h4.0v1h-4.0zM34.9 276.3h5.7v1h-5.7zM35.4 278.3h1.6v1h-1.6zM37.9 279.3h2.9v1h-2.9zM35.0 282.3h4.4v1h-4.4zM36.9 282.3h5.6v1h-5.6zM39.6 283.3h1.2v1h-1.2zM39.1 283.3h2.3v1h-2.3zM39.7 287.3h1.8v1h-1.8zM36.3 288.3h2.6v1h-2.6zM96.2 265.3h4.2v1h-4.2zM99.5 267.3h1.6v1h-1.6zM96.0 272.3h3.3v1h-3.3zM98.7 275.3h2.5v1h-2.5zM96.7 276.3h2.0v1h-2.0zM93.4 276.3h4.4v1h-4.4zM99.7 277.3h2.0v1h-2.0zM97.0 281.3h3.8v1h-3.8zM93.5 282.3h2.4v1h-2.4zM91.3 283.3h4.7v1h-4.7zM96.9 285.3h3.9v1h-3.9zM97.3 285.3h2.9v1h-2.9zM99.1 287.3h1.0v1h-1.0zM101.0 287.3h2.3v1h-2.3zM91.8 288.3h4.2v1h-4.2zM94.9 289.3h4.3v1h-4.3zM101.2 289.3h1.2v1h-1.2zM155.3 147.3h1.3v1h-1.3zM161.0 147.3h1.2v1h-1.2zM155.8 148.3h4.9v1h-4.9zM154.5 148.3h4.5v1h-4.5zM153.5 150.3h2.2v1h-2.2zM159.0 150.3h1.5v1h-1.5zM158.0 150.3h2.3v1h-2.3zM160.4 153.3h4.9v1h-4.9zM160.5 153.3h2.1v1h-2.1zM162.9 153.3h1.8v1h-1.8zM154.6 155.3h5.1v1h-5.1zM163.0 157.3h5.8v1h-5.8zM155.2 157.3h1.8v1h-1.8zM161.6 157.3h1.7v1h-1.7zM156.9 160.3h2.1v1h-2.1zM154.6 161.3h4.2v1h-4.2zM156.4 161.3h4.4v1h-4.4zM160.3 162.3h1.6v1h-1.6zM157.7 163.3h5.7v1h-5.7zM154.7 163.3h2.8v1h-2.8zM155.4 164.3h2.9v1h-2.9zM154.9 164.3h2.5v1h-2.5zM157.4 165.3h3.5v1h-3.5zM157.9 169.3h2.8v1h-2.8zM157.7 169.3h2.4v1h-2.4zM155.8 172.3h3.1v1h-3.1zM154.4 173.3h5.3v1h-5.3zM160.9 174.3h5.8v1h-5.8zM154.6 175.3h2.8v1h-2.8zM156.1 176.3h3.3v1h-3.3zM156.4 176.3h5.0v1h-5.0zM155.9 178.3h2.1v1h-2.1zM155.1 178.3h1.7v1h-1.7zM159.4 180.3h3.1v1h-3.1zM157.8 181.3h4.1v1h-4.1zM158.0 182.3h2.6v1h-2.6zM156.6 186.3h2.2v1h-2.2zM158.7 186.3h4.1v1h-4.1zM157.2 186.3h1.9v1h-1.9zM159.2 187.3h3.1v1h-3.1zM155.7 188.3h2.5v1h-2.5zM154.8 190.3h4.4v1h-4.4zM157.3 190.3h4.0v1h-4.0zM153.2 192.3h3.4v1h-3.4zM155.4 193.3h4.5v1h-4.5zM155.0 194.3h2.4v1h-2.4zM155.9 194.3h2.6v1h-2.6zM152.6 195.3h4.4v1h-4.4zM157.2 196.3h1.8v1h-1.8zM157.6 196.3h2.3v1h-2.3zM156.5 197.3h4.7v1h-4.7zM156.3 199.3h4.5v1h-4.5zM149.8 200.3h3.3v1h-3.3zM154.7 201.3h3.2v1h-3.2zM156.9 201.3h5.5v1h-5.5zM157.3 202.3h3.0v1h-3.0zM158.4 203.3h2.7v1h-2.7zM161.5 204.3h1.3v1h-1.3zM158.4 205.3h5.2v1h-5.2zM156.3 208.3h2.0v1h-2.0zM155.9 211.3h4.3v1h-4.3zM159.2 212.3h4.4v1h-4.4zM162.4 212.3h3.1v1h-3.1zM156.0 213.3h5.4v1h-5.4zM158.9 213.3h1.6v1h-1.6zM153.8 214.3h5.3v1h-5.3zM160.0 215.3h2.7v1h-2.7zM155.9 215.3h4.6v1h-4.6zM158.9 220.3h3.3v1h-3.3zM155.5 220.3h5.3v1h-5.3zM158.0 221.3h4.8v1h-4.8zM158.3 222.3h4.2v1h-4.2zM157.0 222.3h2.0v1h-2.0zM158.7 223.3h1.8v1h-1.8zM159.8 224.3h1.5v1h-1.5zM159.7 225.3h4.8v1h-4.8zM161.2 225.3h2.6v1h-2.6zM160.5 225.3h1.5v1h-1.5zM158.8 226.3h4.4v1h-4.4zM154.2 227.3h5.0v1h-5.0zM155.1 228.3h4.6v1h-4.6zM152.8 228.3h5.0v1h-5.0zM156.7 230.3h1.6v1h-1.6zM161.0 231.3h2.8v1h-2.8zM163.5 232.3h1.3v1h-1.3zM163.4 232.3h1.5v1h-1.5zM154.9 234.3h5.2v1h-5.2zM157.0 236.3h1.6v1h-1.6zM154.4 237.3h2.2v1h-2.2zM154.5 237.3h2.0v1h-2.0zM151.6 238.3h2.8v1h-2.8zM155.9 240.3h5.0v1h-5.0zM157.1 241.3h2.6v1h-2.6zM159.0 241.3h4.5v1h-4.5zM157.0 241.3h2.7v1h-2.7zM151.0 243.3h3.8v1h-3.8zM159.8 244.3h1.6v1h-1.6zM160.6 246.3h1.4v1h-1.4zM156.7 246.3h2.1v1h-2.1zM156.5 247.3h4.5v1h-4.5zM153.7 249.3h4.6v1h-4.6zM159.7 253.3h1.5v1h-1.5zM154.7 254.3h2.6v1h-2.6zM157.1 255.3h1.5v1h-1.5zM160.5 256.3h2.2v1h-2.2zM156.2 256.3h2.8v1h-2.8zM155.8 257.3h2.2v1h-2.2zM156.3 258.3h4.1v1h-4.1zM156.7 259.3h4.4v1h-4.4zM159.4 260.3h1.2v1h-1.2zM155.0 261.3h5.8v1h-5.8zM156.5 261.3h2.3v1h-2.3zM159.8 263.3h2.4v1h-2.4zM154.4 265.3h4.0v1h-4.0zM151.5 266.3h4.9v1h-4.9zM158.5 268.3h4.3v1h-4.3zM156.4 271.3h5.2v1h-5.2zM156.5 272.3h3.7v1h-3.7zM156.0 273.3h1.8v1h-1.8zM160.1 274.3h4.0v1h-4.0zM157.7 275.3h3.9v1h-3.9zM154.6 276.3h4.9v1h-4.9zM159.6 279.3h5.8v1h-5.8zM156.3 281.3h4.1v1h-4.1zM156.9 282.3h3.5v1h-3.5zM156.5 283.3h2.9v1h-2.9zM158.4 283.3h4.3v1h-4.3zM156.4 285.3h2.6v1h-2.6zM157.6 285.3h1.6v1h-1.6zM163.2 286.3h2.5v1h-2.5zM154.9 286.3h5.8v1h-5.8zM159.1 287.3h1.6v1h-1.6zM154.8 289.3h1.0v1h-1.0zM155.7 290.3h1.8v1h-1.8zM218.6 147.3h5.0v1h-5.0zM214.4 148.3h5.2v1h-5.2zM215.1 148.3h4.5v1h-4.5zM215.7 148.3h5.1v1h-5.1zM214.7 149.3h1.1v1h-1.1zM218.8 149.3h4.7v1h-4.7zM217.1 151.3h2.1v1h-2.1zM219.6 151.3h1.3v1h-1.3zM218.7 151.3h3.1v1h-3.1zM219.9 152.3h2.9v1h-2.9zM219.3 152.3h5.3v1h-5.3zM216.4 154.3h2.7v1h-2.7zM216.7 154.3h3.8v1h-3.8zM218.1 155.3h1.2v1h-1.2zM218.2 155.3h1.3v1h-1.3zM212.4 155.3h3.9v1h-3.9zM214.4 156.3h2.7v1h-2.7zM219.0 157.3h2.2v1h-2.2zM219.7 157.3h3.3v1h-3.3zM215.5 158.3h2.0v1h-2.0zM215.6 159.3h3.8v1h-3.8zM215.0 161.3h5.2v1h-5.2zM217.7 162.3h3.2v1h-3.2zM215.3 162.3h2.7v1h-2.7zM216.1 163.3h5.5v1h-5.5zM214.5 164.3h4.6v1h-4.6zM220.3 164.3h1.0v1h-1.0zM216.8 164.3h4.0v1h-4.0zM212.0 164.3h2.8v1h-2.8zM213.7 166.3h4.2v1h-4.2zM218.9 167.3h2.2v1h-2.2zM216.8 168.3h5.1v1h-5.1zM215.6 169.3h5.1v1h-5.1zM219.8 170.3h3.4v1h-3.4zM214.1 171.3h3.1v1h-3.1zM217.1 171.3h1.7v1h-1.7zM217.7 173.3h4.4v1h-4.4zM215.5 173.3h5.0v1h-5.0zM222.8 174.3h2.8v1h-2.8zM213.8 175.3h4.1v1h-4.1zM216.9 176.3h4.4v1h-4.4zM220.6 177.3h1.9v1h-1.9zM215.9 178.3h3.9v1h-3.9zM217.4 179.3h1.4v1h-1.4zM225.0 180.3h2.9v1h-2.9zM219.1 181.3h4.3v1h-4.3zM216.4 182.3h3.1v1h-3.1zM214.3 182.3h2.9v1h-2.9zM213.7 183.3h5.1v1h-5.1zM217.7 183.3h2.5v1h-2.5zM216.2 183.3h1.5v1h-1.5zM216.9 184.3h1.1v1h-1.1zM216.4 185.3h3.5v1h-3.5zM214.2 186.3h5.2v1h-5.2zM216.5 187.3h5.1v1h-5.1zM212.8 188.3h1.5v1h-1.5zM215.3 190.3h5.3v1h-5.3zM214.9 190.3h1.7v1h-1.7zM213.9 190.3h5.6v1h-5.6zM217.5 191.3h2.6v1h-2.6zM217.3 192.3h4.5v1h-4.5zM214.6 193.3h1.6v1h-1.6zM215.8 195.3h4.3v1h-4.3zM216.0 195.3h4.8v1h-4.8zM216.2 195.3h1.3v1h-1.3zM215.5 196.3h2.1v1h-2.1zM216.5 198.3h3.0v1h-3.0zM215.1 199.3h4.6v1h-4.6zM218.2 199.3h5.6v1h-5.6zM216.9 199.3h3.7v1h-3.7zM213.2 199.3h5.6v1h-5.6zM216.3 200.3h1.1v1h-1.1zM221.1 201.3h2.0v1h-2.0zM215.8 201.3h2.8v1h-2.8zM212.2 202.3h4.8v1h-4.8zM219.7 204.3h1.1v1h-1.1zM220.8 204.3h1.6v1h-1.6zM217.4 206.3h3.5v1h-3.5zM214.0 206.3h5.3v1h-5.3zM215.5 206.3h1.7v1h-1.7zM217.5 207.3h1.7v1h-1.7zM215.8 209.3h5.5v1h-5.5zM215.6 211.3h2.0v1h-2.0zM214.4 211.3h4.7v1h-4.7zM214.8 212.3h4.0v1h-4.0zM218.1 214.3h2.9v1h-2.9zM218.6 215.3h2.2v1h-2.2zM218.9 215.3h1.3v1h-1.3zM213.3 216.3h5.5v1h-5.5zM217.8 217.3h1.6v1h-1.6zM211.6 218.3h4.3v1h-4.3zM211.9 219.3h2.6v1h-2.6zM218.3 220.3h3.3v1h-3.3zM217.0 221.3h4.0v1h-4.0zM211.4 222.3h3.1v1h-3.1zM216.1 223.3h4.6v1h-4.6zM213.7 224.3h2.1v1h-2.1zM220.4 224.3h2.6v1h-2.6zM217.3 225.3h1.7v1h-1.7zM215.5 226.3h2.0v1h-2.0zM221.7 229.3h2.3v1h-2.3z" fill="#8a94cc" opacity="0.5"/><path d="M33.2 147.3h3.0v1h-3.0zM37.2 149.3h1.5v1h-1.5zM31.9 150.3h3.7v1h-3.7zM35.6 151.3h3.1v1h-3.1zM38.7 152.3h3.2v1h-3.2zM40.8 152.3h1.2v1h-1.2zM36.9 153.3h4.5v1h-4.5zM34.9 153.3h1.4v1h-1.4zM40.1 154.3h1.7v1h-1.7zM35.4 154.3h3.8v1h-3.8zM29.5 155.3h3.4v1h-3.4zM37.8 155.3h1.3v1h-1.3zM32.4 156.3h1.9v1h-1.9zM37.6 157.3h1.0v1h-1.0zM38.6 157.3h2.5v1h-2.5zM34.9 159.3h1.9v1h-1.9zM32.6 159.3h3.3v1h-3.3zM33.9 160.3h1.2v1h-1.2zM35.7 160.3h4.6v1h-4.6zM38.1 161.3h1.0v1h-1.0zM30.9 162.3h4.6v1h-4.6zM38.6 163.3h2.7v1h-2.7zM34.6 164.3h3.2v1h-3.2zM35.8 165.3h2.9v1h-2.9zM36.6 166.3h2.0v1h-2.0zM36.5 167.3h1.5v1h-1.5zM37.4 168.3h2.2v1h-2.2zM36.1 168.3h1.8v1h-1.8zM37.0 169.3h4.6v1h-4.6zM37.2 170.3h2.1v1h-2.1zM33.0 171.3h2.7v1h-2.7zM38.1 172.3h1.1v1h-1.1zM37.4 173.3h2.8v1h-2.8zM32.1 173.3h4.5v1h-4.5zM37.7 175.3h1.2v1h-1.2zM38.9 176.3h3.9v1h-3.9zM35.3 176.3h4.2v1h-4.2zM36.8 177.3h1.1v1h-1.1zM34.8 178.3h3.6v1h-3.6zM36.7 179.3h1.1v1h-1.1zM37.6 180.3h3.8v1h-3.8zM31.4 182.3h3.7v1h-3.7zM33.9 183.3h3.5v1h-3.5zM36.3 183.3h2.9v1h-2.9zM36.3 184.3h2.1v1h-2.1zM36.7 185.3h3.3v1h-3.3zM37.0 185.3h2.0v1h-2.0zM33.5 187.3h1.3v1h-1.3zM34.9 189.3h1.6v1h-1.6zM33.0 191.3h2.5v1h-2.5zM37.2 191.3h3.1v1h-3.1zM38.4 192.3h1.1v1h-1.1zM37.1 194.3h2.0v1h-2.0zM33.8 196.3h2.3v1h-2.3zM38.2 199.3h4.1v1h-4.1zM39.9 202.3h3.6v1h-3.6zM36.8 202.3h3.8v1h-3.8zM39.5 203.3h1.9v1h-1.9zM35.0 204.3h4.0v1h-4.0zM36.9 206.3h1.3v1h-1.3zM36.6 208.3h3.7v1h-3.7zM35.0 210.3h3.7v1h-3.7zM34.9 211.3h1.9v1h-1.9zM36.2 212.3h3.7v1h-3.7zM33.1 213.3h4.0v1h-4.0zM37.1 215.3h2.1v1h-2.1zM33.1 216.3h1.4v1h-1.4zM34.2 218.3h3.3v1h-3.3zM32.1 218.3h2.1v1h-2.1zM36.9 221.3h2.3v1h-2.3zM38.4 221.3h4.2v1h-4.2zM33.6 223.3h1.7v1h-1.7zM31.4 226.3h3.5v1h-3.5zM39.1 227.3h3.7v1h-3.7zM37.1 228.3h2.5v1h-2.5zM36.4 229.3h1.4v1h-1.4zM36.9 230.3h1.0v1h-1.0zM35.7 232.3h2.0v1h-2.0zM34.4 240.3h1.3v1h-1.3zM39.8 241.3h1.4v1h-1.4zM36.0 242.3h3.5v1h-3.5zM34.7 245.3h2.9v1h-2.9zM41.1 246.3h3.0v1h-3.0zM37.6 252.3h2.1v1h-2.1zM37.9 253.3h2.8v1h-2.8zM33.6 254.3h1.8v1h-1.8zM36.5 256.3h2.9v1h-2.9zM36.2 258.3h2.2v1h-2.2zM36.6 259.3h3.9v1h-3.9zM35.7 259.3h1.6v1h-1.6zM39.1 260.3h2.1v1h-2.1zM36.3 261.3h4.7v1h-4.7zM33.9 264.3h5.7v1h-5.7zM36.1 264.3h4.4v1h-4.4zM37.6 265.3h3.4v1h-3.4zM30.1 266.3h5.6v1h-5.6zM33.9 266.3h3.6v1h-3.6zM32.9 267.3h5.6v1h-5.6zM37.1 268.3h1.6v1h-1.6zM37.4 271.3h3.2v1h-3.2zM34.5 274.3h4.4v1h-4.4zM36.9 274.3h4.3v1h-4.3zM38.8 275.3h1.5v1h-1.5zM37.5 277.3h2.7v1h-2.7zM40.1 280.3h1.7v1h-1.7zM37.7 281.3h2.0v1h-2.0zM33.6 282.3h5.1v1h-5.1zM34.1 283.3h2.2v1h-2.2zM33.4 283.3h3.0v1h-3.0zM36.9 284.3h1.6v1h-1.6zM34.0 285.3h1.8v1h-1.8zM33.9 285.3h3.8v1h-3.8zM34.0 286.3h5.1v1h-5.1zM38.4 287.3h1.4v1h-1.4zM32.1 288.3h5.5v1h-5.5zM33.8 289.3h4.2v1h-4.2zM39.4 290.3h5.3v1h-5.3zM34.9 290.3h3.0v1h-3.0zM93.9 148.3h1.6v1h-1.6zM93.3 149.3h2.1v1h-2.1zM98.6 150.3h2.3v1h-2.3zM98.2 151.3h3.5v1h-3.5zM92.1 152.3h2.6v1h-2.6zM98.6 153.3h3.9v1h-3.9zM103.3 155.3h2.0v1h-2.0zM96.4 156.3h3.4v1h-3.4zM94.0 156.3h4.0v1h-4.0zM93.9 157.3h2.8v1h-2.8zM94.9 158.3h3.9v1h-3.9zM94.5 158.3h4.2v1h-4.2zM96.6 159.3h1.8v1h-1.8zM94.7 160.3h2.0v1h-2.0zM93.4 163.3h3.9v1h-3.9zM90.0 164.3h3.2v1h-3.2zM99.4 165.3h1.8v1h-1.8zM96.4 165.3h1.6v1h-1.6zM96.5 166.3h3.5v1h-3.5zM98.6 167.3h3.1v1h-3.1zM96.6 169.3h3.8v1h-3.8zM91.9 169.3h3.1v1h-3.1zM96.2 174.3h1.8v1h-1.8zM95.9 176.3h1.6v1h-1.6zM97.0 177.3h2.2v1h-2.2zM97.6 178.3h1.7v1h-1.7zM94.9 179.3h3.3v1h-3.3zM93.0 180.3h2.3v1h-2.3zM96.2 183.3h2.0v1h-2.0zM95.0 184.3h1.1v1h-1.1zM97.6 185.3h3.6v1h-3.6zM96.1 186.3h1.4v1h-1.4zM94.2 189.3h2.4v1h-2.4zM96.5 193.3h4.1v1h-4.1zM96.4 196.3h1.9v1h-1.9zM96.7 198.3h1.6v1h-1.6zM99.5 199.3h1.2v1h-1.2zM93.4 200.3h3.1v1h-3.1zM92.4 201.3h1.1v1h-1.1zM93.5 202.3h1.9v1h-1.9zM98.9 202.3h3.5v1h-3.5zM94.1 203.3h3.5v1h-3.5zM96.2 204.3h4.0v1h-4.0zM94.8 204.3h1.6v1h-1.6zM98.1 205.3h1.6v1h-1.6zM97.5 205.3h3.4v1h-3.4zM95.9 206.3h1.8v1h-1.8zM94.6 208.3h3.4v1h-3.4zM98.3 211.3h3.1v1h-3.1zM94.8 212.3h1.2v1h-1.2zM96.2 215.3h2.5v1h-2.5zM93.8 216.3h2.5v1h-2.5zM100.7 216.3h3.4v1h-3.4zM98.0 218.3h3.1v1h-3.1zM95.4 220.3h2.8v1h-2.8zM93.1 221.3h3.3v1h-3.3zM97.0 222.3h2.6v1h-2.6zM98.5 223.3h3.7v1h-3.7zM93.0 224.3h1.6v1h-1.6zM96.2 225.3h2.3v1h-2.3zM96.1 229.3h1.6v1h-1.6zM93.9 232.3h2.7v1h-2.7zM95.8 233.3h3.6v1h-3.6zM95.9 237.3h3.2v1h-3.2zM96.0 243.3h2.8v1h-2.8zM97.4 247.3h3.4v1h-3.4zM94.9 249.3h2.4v1h-2.4zM97.0 253.3h1.1v1h-1.1zM98.0 257.3h2.1v1h-2.1zM95.3 262.3h2.2v1h-2.2zM98.4 263.3h2.6v1h-2.6zM97.1 264.3h2.7v1h-2.7zM95.9 264.3h1.2v1h-1.2zM100.3 265.3h2.9v1h-2.9zM98.9 265.3h4.2v1h-4.2zM95.1 266.3h3.6v1h-3.6zM96.6 266.3h4.8v1h-4.8zM99.4 266.3h3.0v1h-3.0zM94.0 269.3h3.6v1h-3.6zM95.2 270.3h4.8v1h-4.8zM98.3 270.3h1.7v1h-1.7zM91.3 271.3h4.7v1h-4.7zM98.0 271.3h1.1v1h-1.1zM98.6 272.3h4.8v1h-4.8zM96.8 274.3h2.1v1h-2.1zM98.2 275.3h1.1v1h-1.1zM96.5 277.3h2.3v1h-2.3zM97.4 278.3h3.9v1h-3.9zM98.0 278.3h3.2v1h-3.2zM95.2 279.3h1.4v1h-1.4zM94.4 279.3h4.1v1h-4.1zM91.7 279.3h3.6v1h-3.6zM94.1 280.3h4.6v1h-4.6zM95.4 282.3h4.1v1h-4.1zM94.5 282.3h2.0v1h-2.0zM97.8 283.3h3.5v1h-3.5zM96.5 286.3h4.2v1h-4.2zM93.1 287.3h2.1v1h-2.1zM96.7 288.3h2.0v1h-2.0zM95.9 290.3h1.4v1h-1.4zM97.0 290.3h4.1v1h-4.1zM100.1 290.3h1.8v1h-1.8zM159.2 147.3h1.8v1h-1.8zM155.8 148.3h1.7v1h-1.7zM155.5 153.3h3.0v1h-3.0zM154.6 154.3h1.1v1h-1.1zM153.9 157.3h2.2v1h-2.2zM151.5 159.3h2.2v1h-2.2zM158.6 160.3h2.9v1h-2.9zM158.4 166.3h1.9v1h-1.9zM154.5 167.3h4.0v1h-4.0zM161.1 167.3h3.8v1h-3.8zM155.9 168.3h5.8v1h-5.8zM160.9 169.3h3.2v1h-3.2zM159.7 170.3h3.6v1h-3.6zM155.4 171.3h3.3v1h-3.3zM154.2 173.3h2.6v1h-2.6zM152.1 177.3h5.6v1h-5.6zM157.8 177.3h2.9v1h-2.9zM161.3 177.3h3.8v1h-3.8zM159.4 182.3h2.8v1h-2.8zM157.1 183.3h3.0v1h-3.0zM158.1 184.3h1.1v1h-1.1zM156.3 185.3h3.4v1h-3.4zM158.9 188.3h4.2v1h-4.2zM152.5 188.3h3.8v1h-3.8zM157.7 189.3h2.1v1h-2.1zM153.4 191.3h4.7v1h-4.7zM155.4 191.3h1.6v1h-1.6zM159.0 192.3h3.8v1h-3.8zM158.1 193.3h3.8v1h-3.8zM152.3 196.3h1.3v1h-1.3zM159.8 198.3h4.7v1h-4.7zM157.7 199.3h3.2v1h-3.2zM160.5 199.3h4.4v1h-4.4zM152.7 200.3h2.2v1h-2.2zM157.1 204.3h4.0v1h-4.0zM152.8 207.3h4.5v1h-4.5zM156.3 207.3h2.7v1h-2.7zM152.8 207.3h4.6v1h-4.6zM162.5 208.3h2.3v1h-2.3zM156.0 214.3h2.3v1h-2.3zM152.9 214.3h5.8v1h-5.8zM154.6 216.3h5.7v1h-5.7zM154.2 219.3h4.8v1h-4.8zM157.0 221.3h1.3v1h-1.3zM154.2 223.3h5.3v1h-5.3zM156.2 224.3h4.8v1h-4.8zM152.2 225.3h3.8v1h-3.8zM154.5 227.3h5.5v1h-5.5zM154.6 227.3h1.3v1h-1.3zM160.5 230.3h2.1v1h-2.1zM154.9 231.3h5.9v1h-5.9zM153.9 235.3h1.5v1h-1.5zM153.6 237.3h1.3v1h-1.3zM159.0 239.3h4.5v1h-4.5zM158.1 239.3h4.1v1h-4.1zM158.8 242.3h2.5v1h-2.5zM161.9 243.3h1.6v1h-1.6zM155.7 243.3h4.2v1h-4.2zM158.8 244.3h2.8v1h-2.8zM158.8 244.3h3.4v1h-3.4zM156.5 245.3h4.8v1h-4.8zM158.2 246.3h1.8v1h-1.8zM160.7 248.3h2.7v1h-2.7zM151.1 249.3h2.4v1h-2.4zM154.1 250.3h5.3v1h-5.3zM156.5 252.3h1.8v1h-1.8zM154.2 253.3h4.8v1h-4.8zM156.3 254.3h1.6v1h-1.6zM158.4 258.3h3.8v1h-3.8zM157.0 259.3h3.4v1h-3.4zM154.0 260.3h4.4v1h-4.4zM154.3 260.3h3.8v1h-3.8zM154.6 261.3h2.1v1h-2.1zM154.2 262.3h4.4v1h-4.4zM161.5 264.3h3.5v1h-3.5zM157.4 265.3h5.3v1h-5.3zM156.9 265.3h4.2v1h-4.2zM156.1 266.3h1.9v1h-1.9zM156.6 269.3h1.5v1h-1.5zM158.8 269.3h2.2v1h-2.2zM155.3 271.3h3.7v1h-3.7zM161.4 272.3h3.8v1h-3.8zM156.3 273.3h3.7v1h-3.7zM151.7 276.3h2.7v1h-2.7zM152.3 278.3h3.9v1h-3.9zM155.6 280.3h2.6v1h-2.6zM156.3 281.3h2.3v1h-2.3zM153.1 283.3h4.2v1h-4.2zM159.7 284.3h1.0v1h-1.0zM158.6 285.3h1.7v1h-1.7zM157.2 286.3h4.3v1h-4.3zM159.9 287.3h5.8v1h-5.8zM215.7 147.3h1.5v1h-1.5zM216.1 148.3h3.0v1h-3.0zM213.1 149.3h3.2v1h-3.2zM217.5 151.3h3.1v1h-3.1zM213.3 152.3h5.2v1h-5.2zM216.9 153.3h4.3v1h-4.3zM218.1 153.3h3.5v1h-3.5zM215.0 153.3h3.0v1h-3.0zM217.0 154.3h5.1v1h-5.1zM215.1 158.3h4.7v1h-4.7zM218.6 159.3h1.5v1h-1.5zM216.1 160.3h5.4v1h-5.4zM213.3 165.3h5.0v1h-5.0zM218.7 165.3h3.9v1h-3.9zM218.2 167.3h1.8v1h-1.8zM215.4 167.3h4.1v1h-4.1zM213.1 168.3h5.5v1h-5.5zM215.6 169.3h4.1v1h-4.1zM218.9 172.3h1.4v1h-1.4zM219.1 173.3h2.2v1h-2.2zM220.3 175.3h3.0v1h-3.0zM212.5 175.3h5.2v1h-5.2zM220.1 176.3h3.6v1h-3.6zM216.5 178.3h2.7v1h-2.7zM214.4 179.3h3.0v1h-3.0zM218.1 179.3h1.9v1h-1.9zM220.8 180.3h1.6v1h-1.6zM216.4 180.3h4.3v1h-4.3zM220.6 182.3h1.8v1h-1.8zM219.2 184.3h1.3v1h-1.3zM219.1 185.3h3.7v1h-3.7zM217.8 185.3h3.6v1h-3.6zM217.1 188.3h2.0v1h-2.0zM218.1 188.3h2.2v1h-2.2zM220.4 188.3h3.2v1h-3.2zM219.5 189.3h3.6v1h-3.6zM219.4 189.3h5.7v1h-5.7zM217.9 191.3h4.7v1h-4.7zM220.7 191.3h2.9v1h-2.9zM213.6 192.3h1.4v1h-1.4zM212.3 192.3h2.3v1h-2.3zM219.4 193.3h3.5v1h-3.5zM216.6 197.3h2.9v1h-2.9zM214.9 197.3h4.5v1h-4.5zM211.8 197.3h4.0v1h-4.0zM216.3 198.3h4.2v1h-4.2zM214.4 198.3h2.7v1h-2.7zM217.5 203.3h3.6v1h-3.6zM218.6 204.3h3.0v1h-3.0zM220.8 205.3h3.6v1h-3.6zM215.8 208.3h4.2v1h-4.2zM221.1 209.3h5.2v1h-5.2zM217.2 211.3h3.6v1h-3.6zM216.6 213.3h1.9v1h-1.9zM217.1 214.3h2.7v1h-2.7zM220.1 214.3h5.5v1h-5.5zM216.7 215.3h2.8v1h-2.8zM221.6 215.3h1.0v1h-1.0zM214.4 216.3h5.6v1h-5.6zM216.9 216.3h2.9v1h-2.9zM217.6 217.3h3.8v1h-3.8zM219.5 218.3h3.4v1h-3.4zM214.7 220.3h4.2v1h-4.2zM215.3 220.3h1.6v1h-1.6zM221.1 221.3h3.4v1h-3.4zM217.3 225.3h1.5v1h-1.5zM214.1 225.3h5.5v1h-5.5zM221.1 225.3h3.1v1h-3.1zM221.9 226.3h4.1v1h-4.1zM220.0 227.3h4.0v1h-4.0zM218.6 227.3h3.5v1h-3.5zM217.0 230.3h4.0v1h-4.0zM216.0 231.3h2.0v1h-2.0zM221.9 231.3h4.1v1h-4.1zM218.1 233.3h1.6v1h-1.6zM214.6 233.3h3.6v1h-3.6zM217.3 234.3h2.5v1h-2.5zM217.8 235.3h1.1v1h-1.1zM219.7 235.3h2.8v1h-2.8zM214.3 236.3h2.2v1h-2.2zM218.0 241.3h4.0v1h-4.0zM220.9 241.3h1.2v1h-1.2zM216.8 243.3h1.0v1h-1.0zM212.0 244.3h1.0v1h-1.0zM219.4 246.3h1.4v1h-1.4zM216.9 247.3h2.4v1h-2.4zM219.6 247.3h1.2v1h-1.2zM216.7 252.3h1.4v1h-1.4zM219.0 254.3h2.8v1h-2.8zM216.7 256.3h1.4v1h-1.4zM216.5 257.3h3.8v1h-3.8zM217.5 258.3h1.5v1h-1.5zM219.8 259.3h1.9v1h-1.9zM213.1 262.3h2.1v1h-2.1zM217.6 263.3h3.2v1h-3.2zM219.7 266.3h3.7v1h-3.7zM220.3 268.3h1.7v1h-1.7zM222.4 270.3h2.7v1h-2.7zM215.6 271.3h3.6v1h-3.6zM218.0 272.3h3.1v1h-3.1zM215.4 273.3h1.2v1h-1.2zM218.0 274.3h3.9v1h-3.9zM222.5 274.3h1.7v1h-1.7zM215.5 275.3h2.4v1h-2.4zM216.1 276.3h2.1v1h-2.1zM216.7 277.3h2.2v1h-2.2zM220.8 279.3h1.5v1h-1.5zM219.7 280.3h3.6v1h-3.6zM217.5 281.3h3.2v1h-3.2zM218.0 282.3h2.2v1h-2.2zM217.8 283.3h3.0v1h-3.0zM218.3 284.3h1.7v1h-1.7zM212.9 285.3h2.9v1h-2.9zM216.5 286.3h2.6v1h-2.6zM218.3 287.3h2.1v1h-2.1zM216.7 289.3h1.7v1h-1.7zM217.6 289.3h4.0v1h-4.0z" fill="#3e4ca6" opacity="0.25"/><path d="M35.4 147.3h1.0v1h-1.0zM37.2 148.3h3.9v1h-3.9zM40.8 150.3h1.8v1h-1.8zM41.4 151.3h4.0v1h-4.0zM33.2 152.3h4.4v1h-4.4zM36.3 154.3h2.8v1h-2.8zM37.4 162.3h1.8v1h-1.8zM37.8 166.3h1.2v1h-1.2zM33.5 167.3h4.3v1h-4.3zM40.0 260.3h2.2v1h-2.2zM37.4 260.3h2.4v1h-2.4zM39.7 261.3h2.3v1h-2.3zM38.0 262.3h4.7v1h-4.7zM36.2 262.3h3.9v1h-3.9zM37.7 263.3h3.2v1h-3.2zM36.3 265.3h3.8v1h-3.8zM40.5 267.3h1.2v1h-1.2zM39.2 267.3h2.2v1h-2.2zM33.2 269.3h2.2v1h-2.2zM35.2 269.3h1.3v1h-1.3zM35.0 270.3h4.7v1h-4.7zM39.1 272.3h1.2v1h-1.2zM33.4 272.3h3.5v1h-3.5zM31.9 273.3h5.1v1h-5.1zM35.3 274.3h3.0v1h-3.0zM37.0 275.3h1.1v1h-1.1zM34.2 275.3h4.5v1h-4.5zM36.4 278.3h2.7v1h-2.7zM38.3 279.3h2.6v1h-2.6zM31.7 280.3h4.4v1h-4.4zM37.4 281.3h3.8v1h-3.8zM40.0 281.3h3.2v1h-3.2zM33.1 284.3h3.7v1h-3.7zM39.1 284.3h4.3v1h-4.3zM34.7 285.3h5.9v1h-5.9zM32.9 287.3h5.7v1h-5.7zM36.6 288.3h3.1v1h-3.1zM31.6 288.3h3.2v1h-3.2zM36.7 289.3h1.9v1h-1.9zM36.1 289.3h1.4v1h-1.4zM33.7 290.3h3.4v1h-3.4zM96.0 267.3h2.5v1h-2.5zM93.9 268.3h1.0v1h-1.0zM95.3 269.3h1.9v1h-1.9zM97.9 269.3h1.6v1h-1.6zM94.6 271.3h4.8v1h-4.8zM99.1 272.3h1.7v1h-1.7zM101.4 274.3h1.9v1h-1.9zM94.5 274.3h3.6v1h-3.6zM97.8 275.3h2.4v1h-2.4zM96.1 276.3h3.1v1h-3.1zM96.3 277.3h4.7v1h-4.7zM96.7 283.3h4.9v1h-4.9zM157.6 148.3h1.0v1h-1.0zM156.5 149.3h5.8v1h-5.8zM161.0 151.3h1.7v1h-1.7zM151.3 154.3h2.9v1h-2.9zM164.0 155.3h1.0v1h-1.0zM156.3 156.3h3.9v1h-3.9zM154.0 156.3h3.0v1h-3.0zM156.8 158.3h3.3v1h-3.3zM155.0 162.3h2.8v1h-2.8zM155.4 162.3h5.2v1h-5.2zM158.1 164.3h3.3v1h-3.3zM154.4 165.3h4.6v1h-4.6zM154.8 166.3h5.4v1h-5.4zM159.5 167.3h4.3v1h-4.3zM157.6 168.3h3.8v1h-3.8zM154.5 168.3h4.9v1h-4.9zM161.3 170.3h4.0v1h-4.0zM152.4 171.3h2.8v1h-2.8zM153.7 171.3h4.1v1h-4.1zM152.7 172.3h4.8v1h-4.8zM156.7 173.3h5.0v1h-5.0zM154.8 174.3h4.9v1h-4.9zM153.8 174.3h1.7v1h-1.7zM156.8 176.3h2.7v1h-2.7zM160.8 176.3h2.1v1h-2.1zM158.3 177.3h3.0v1h-3.0zM160.7 178.3h2.8v1h-2.8zM155.2 179.3h2.5v1h-2.5zM156.1 179.3h4.8v1h-4.8zM156.5 180.3h4.2v1h-4.2zM157.5 181.3h4.5v1h-4.5zM159.7 181.3h2.6v1h-2.6zM157.9 181.3h1.6v1h-1.6zM155.0 182.3h1.6v1h-1.6zM155.5 182.3h5.7v1h-5.7zM158.3 184.3h1.9v1h-1.9zM156.4 184.3h5.0v1h-5.0zM158.0 184.3h1.2v1h-1.2zM155.2 185.3h2.4v1h-2.4zM157.1 185.3h1.4v1h-1.4zM155.4 187.3h4.6v1h-4.6zM159.6 189.3h3.8v1h-3.8zM153.9 190.3h1.7v1h-1.7zM157.3 191.3h4.0v1h-4.0zM154.4 193.3h2.3v1h-2.3zM154.3 193.3h3.4v1h-3.4zM151.9 195.3h1.3v1h-1.3zM154.6 195.3h2.2v1h-2.2zM155.9 198.3h3.3v1h-3.3zM154.6 200.3h3.4v1h-3.4zM157.9 202.3h5.6v1h-5.6zM157.3 202.3h3.5v1h-3.5zM155.4 203.3h2.5v1h-2.5zM156.3 203.3h5.7v1h-5.7zM157.8 203.3h2.1v1h-2.1zM157.6 204.3h1.9v1h-1.9zM160.2 205.3h3.6v1h-3.6zM159.3 206.3h3.7v1h-3.7zM161.5 206.3h2.1v1h-2.1zM157.0 207.3h1.8v1h-1.8zM152.6 209.3h3.7v1h-3.7zM160.6 210.3h1.9v1h-1.9zM157.3 210.3h1.7v1h-1.7zM158.1 210.3h2.1v1h-2.1zM154.4 211.3h4.6v1h-4.6zM157.1 211.3h4.8v1h-4.8zM156.5 214.3h1.6v1h-1.6zM157.3 215.3h3.9v1h-3.9zM157.0 216.3h3.1v1h-3.1zM154.7 216.3h2.9v1h-2.9zM156.3 216.3h3.2v1h-3.2zM153.0 217.3h4.9v1h-4.9zM153.9 218.3h5.5v1h-5.5zM159.7 219.3h2.2v1h-2.2zM155.1 220.3h3.6v1h-3.6zM153.3 221.3h5.0v1h-5.0zM152.5 222.3h5.8v1h-5.8zM157.2 223.3h2.2v1h-2.2zM156.9 224.3h1.8v1h-1.8zM153.9 227.3h3.0v1h-3.0zM156.5 229.3h5.9v1h-5.9zM157.5 229.3h5.2v1h-5.2zM155.3 230.3h3.8v1h-3.8zM154.8 231.3h5.1v1h-5.1zM163.2 232.3h2.3v1h-2.3zM158.7 233.3h2.8v1h-2.8zM155.4 233.3h4.5v1h-4.5zM157.0 233.3h4.5v1h-4.5zM155.3 234.3h3.1v1h-3.1zM156.1 235.3h4.8v1h-4.8zM158.0 235.3h1.1v1h-1.1zM155.5 236.3h1.5v1h-1.5zM157.0 236.3h4.7v1h-4.7zM153.4 236.3h4.4v1h-4.4zM160.5 238.3h2.3v1h-2.3zM155.7 238.3h5.4v1h-5.4zM152.3 239.3h5.6v1h-5.6zM155.9 241.3h1.3v1h-1.3zM151.9 242.3h5.1v1h-5.1zM156.5 243.3h4.8v1h-4.8zM152.2 244.3h5.4v1h-5.4zM153.3 247.3h5.6v1h-5.6zM152.4 247.3h5.7v1h-5.7zM155.5 248.3h1.5v1h-1.5zM158.7 249.3h2.0v1h-2.0zM159.1 250.3h1.3v1h-1.3zM154.4 250.3h5.5v1h-5.5zM156.8 251.3h5.3v1h-5.3zM154.9 251.3h1.7v1h-1.7zM161.0 251.3h3.3v1h-3.3zM153.5 252.3h3.2v1h-3.2zM155.9 252.3h4.5v1h-4.5zM156.2 254.3h3.5v1h-3.5zM161.4 255.3h3.7v1h-3.7zM155.1 256.3h4.9v1h-4.9zM160.9 256.3h1.9v1h-1.9zM155.8 257.3h2.1v1h-2.1zM154.2 262.3h4.2v1h-4.2zM158.5 262.3h3.5v1h-3.5zM160.5 263.3h3.9v1h-3.9zM154.2 263.3h3.0v1h-3.0zM158.1 264.3h5.6v1h-5.6zM152.2 265.3h5.4v1h-5.4zM154.6 267.3h3.5v1h-3.5zM157.7 267.3h4.9v1h-4.9zM159.1 268.3h2.7v1h-2.7zM156.3 268.3h2.5v1h-2.5zM157.9 269.3h1.9v1h-1.9zM155.2 269.3h4.3v1h-4.3zM158.5 270.3h2.8v1h-2.8zM156.3 271.3h2.3v1h-2.3zM159.4 271.3h4.1v1h-4.1zM159.6 274.3h4.7v1h-4.7zM158.3 275.3h1.1v1h-1.1zM156.2 275.3h4.7v1h-4.7zM157.5 276.3h3.5v1h-3.5zM152.5 278.3h4.4v1h-4.4zM158.9 279.3h1.8v1h-1.8zM156.6 281.3h2.6v1h-2.6zM150.7 284.3h3.6v1h-3.6zM156.4 284.3h5.6v1h-5.6zM152.1 287.3h2.2v1h-2.2zM159.1 288.3h2.5v1h-2.5zM153.4 289.3h3.5v1h-3.5zM157.3 289.3h2.3v1h-2.3zM155.7 290.3h4.8v1h-4.8zM156.9 290.3h2.7v1h-2.7zM157.6 290.3h5.8v1h-5.8zM219.3 147.3h1.8v1h-1.8zM215.9 149.3h2.5v1h-2.5zM217.6 150.3h2.8v1h-2.8zM218.0 150.3h1.7v1h-1.7zM219.1 153.3h4.3v1h-4.3zM216.4 156.3h3.6v1h-3.6zM215.1 156.3h2.7v1h-2.7zM222.7 157.3h3.6v1h-3.6zM223.9 159.3h2.9v1h-2.9zM212.4 163.3h5.0v1h-5.0zM214.6 163.3h2.7v1h-2.7zM216.8 165.3h4.9v1h-4.9zM211.9 166.3h5.1v1h-5.1zM215.3 167.3h3.7v1h-3.7zM215.1 168.3h3.4v1h-3.4zM215.0 168.3h2.8v1h-2.8zM219.5 169.3h2.8v1h-2.8zM217.7 170.3h2.2v1h-2.2zM214.3 170.3h5.3v1h-5.3zM216.4 170.3h3.6v1h-3.6zM215.2 171.3h1.1v1h-1.1zM215.7 172.3h1.1v1h-1.1zM219.9 178.3h1.5v1h-1.5zM216.8 179.3h4.9v1h-4.9zM217.7 180.3h1.6v1h-1.6zM213.5 181.3h1.4v1h-1.4zM215.7 181.3h4.5v1h-4.5zM213.3 182.3h2.0v1h-2.0zM220.7 184.3h2.2v1h-2.2zM214.6 186.3h3.7v1h-3.7zM221.2 186.3h1.5v1h-1.5zM217.2 187.3h2.1v1h-2.1zM217.6 187.3h2.9v1h-2.9zM213.6 189.3h2.2v1h-2.2zM215.8 189.3h2.7v1h-2.7zM221.3 191.3h4.9v1h-4.9zM218.7 193.3h4.9v1h-4.9zM215.3 194.3h5.4v1h-5.4zM216.8 195.3h3.9v1h-3.9zM224.3 196.3h2.1v1h-2.1zM216.6 197.3h2.1v1h-2.1zM217.6 198.3h3.2v1h-3.2zM217.1 200.3h3.6v1h-3.6zM215.4 201.3h5.5v1h-5.5zM218.1 202.3h2.2v1h-2.2zM218.0 202.3h2.7v1h-2.7zM216.1 203.3h1.6v1h-1.6zM214.9 203.3h4.7v1h-4.7zM216.4 203.3h1.6v1h-1.6zM218.3 205.3h5.0v1h-5.0zM218.5 207.3h1.1v1h-1.1zM214.6 207.3h4.9v1h-4.9zM218.2 208.3h4.2v1h-4.2zM215.3 208.3h3.5v1h-3.5zM221.4 210.3h4.7v1h-4.7zM217.7 210.3h2.3v1h-2.3zM212.9 210.3h4.8v1h-4.8zM218.2 211.3h1.0v1h-1.0zM219.4 212.3h3.8v1h-3.8zM219.1 213.3h3.4v1h-3.4zM212.9 213.3h3.4v1h-3.4zM218.2 216.3h4.1v1h-4.1zM211.2 217.3h4.2v1h-4.2zM214.7 218.3h5.1v1h-5.1zM216.3 219.3h3.1v1h-3.1zM219.3 219.3h2.8v1h-2.8zM217.4 221.3h4.8v1h-4.8zM219.9 221.3h3.2v1h-3.2zM220.8 222.3h1.4v1h-1.4zM218.8 223.3h4.1v1h-4.1zM215.2 223.3h5.3v1h-5.3zM217.0 224.3h2.6v1h-2.6zM219.2 224.3h3.1v1h-3.1zM216.9 226.3h3.0v1h-3.0zM215.6 227.3h4.5v1h-4.5zM220.7 228.3h1.7v1h-1.7zM214.1 230.3h4.1v1h-4.1z" fill="#3e4ca6" opacity="0.5"/><path d="M34.6 148.3h4.0v1h-4.0zM35.3 148.3h3.9v1h-3.9zM37.0 149.3h2.0v1h-2.0zM35.7 151.3h2.3v1h-2.3zM40.1 153.3h2.7v1h-2.7zM37.8 156.3h3.1v1h-3.1zM35.1 157.3h3.2v1h-3.2zM34.9 158.3h1.6v1h-1.6zM39.3 158.3h4.3v1h-4.3zM36.4 158.3h4.0v1h-4.0zM32.9 159.3h2.3v1h-2.3zM37.0 160.3h3.7v1h-3.7zM36.4 161.3h3.8v1h-3.8zM33.8 161.3h3.5v1h-3.5zM30.7 163.3h3.6v1h-3.6zM37.6 164.3h2.4v1h-2.4zM31.6 165.3h4.5v1h-4.5zM34.1 166.3h2.1v1h-2.1zM35.8 167.3h1.9v1h-1.9zM37.0 168.3h2.9v1h-2.9zM38.6 169.3h4.3v1h-4.3zM37.5 169.3h1.0v1h-1.0zM30.4 170.3h3.8v1h-3.8zM37.2 171.3h2.1v1h-2.1zM36.4 172.3h2.5v1h-2.5zM34.8 172.3h3.5v1h-3.5zM35.6 173.3h3.8v1h-3.8zM35.7 174.3h4.2v1h-4.2zM41.4 174.3h2.2v1h-2.2zM34.7 175.3h4.4v1h-4.4zM38.4 175.3h1.7v1h-1.7zM35.9 176.3h4.2v1h-4.2zM38.9 177.3h4.2v1h-4.2zM36.7 178.3h3.7v1h-3.7zM35.9 179.3h4.3v1h-4.3zM35.9 180.3h3.1v1h-3.1zM36.5 181.3h1.5v1h-1.5zM37.9 181.3h2.1v1h-2.1zM36.6 184.3h2.0v1h-2.0zM38.6 186.3h4.0v1h-4.0zM38.0 188.3h1.4v1h-1.4zM36.4 189.3h2.4v1h-2.4zM38.2 192.3h1.3v1h-1.3zM36.4 193.3h4.0v1h-4.0zM35.0 193.3h3.9v1h-3.9zM37.3 194.3h3.6v1h-3.6zM37.9 195.3h1.6v1h-1.6zM35.5 195.3h4.1v1h-4.1zM32.5 196.3h1.4v1h-1.4zM35.3 197.3h3.8v1h-3.8zM34.4 197.3h4.3v1h-4.3zM31.8 198.3h1.4v1h-1.4zM39.0 200.3h2.9v1h-2.9zM36.2 200.3h2.5v1h-2.5zM40.3 201.3h1.0v1h-1.0zM37.9 201.3h1.5v1h-1.5zM33.7 203.3h3.3v1h-3.3zM36.6 204.3h1.8v1h-1.8zM32.9 205.3h2.5v1h-2.5zM30.1 205.3h3.8v1h-3.8zM33.6 207.3h3.7v1h-3.7zM35.5 207.3h1.2v1h-1.2zM35.4 209.3h2.2v1h-2.2zM39.4 209.3h2.7v1h-2.7zM36.3 211.3h2.7v1h-2.7zM32.7 212.3h2.4v1h-2.4zM35.8 213.3h2.8v1h-2.8zM35.9 214.3h2.5v1h-2.5zM35.2 214.3h1.4v1h-1.4zM37.6 215.3h2.1v1h-2.1zM37.0 216.3h2.5v1h-2.5zM34.5 217.3h3.1v1h-3.1zM35.5 217.3h4.1v1h-4.1zM33.1 219.3h2.4v1h-2.4zM37.3 219.3h1.6v1h-1.6zM30.6 220.3h2.9v1h-2.9zM35.4 222.3h1.7v1h-1.7zM37.3 222.3h2.7v1h-2.7zM36.3 223.3h3.0v1h-3.0zM33.0 225.3h3.0v1h-3.0zM33.6 228.3h3.6v1h-3.6zM37.3 231.3h2.8v1h-2.8zM36.3 233.3h2.3v1h-2.3zM34.1 234.3h2.5v1h-2.5zM35.8 235.3h3.1v1h-3.1zM35.9 236.3h2.9v1h-2.9zM33.6 236.3h2.8v1h-2.8zM30.9 238.3h3.4v1h-3.4zM36.3 239.3h1.3v1h-1.3zM34.7 240.3h2.7v1h-2.7zM31.5 243.3h1.7v1h-1.7zM37.7 247.3h1.9v1h-1.9zM33.7 247.3h2.1v1h-2.1zM34.0 248.3h1.8v1h-1.8zM38.5 248.3h1.1v1h-1.1zM35.0 249.3h3.3v1h-3.3zM37.2 251.3h1.3v1h-1.3zM34.1 251.3h1.7v1h-1.7zM35.6 254.3h1.1v1h-1.1zM34.8 256.3h4.0v1h-4.0zM34.8 257.3h1.9v1h-1.9zM37.3 258.3h1.5v1h-1.5zM35.4 258.3h3.5v1h-3.5zM38.7 261.3h1.4v1h-1.4zM37.5 262.3h2.0v1h-2.0zM36.5 263.3h3.9v1h-3.9zM36.4 264.3h1.5v1h-1.5zM37.8 265.3h3.0v1h-3.0zM31.7 267.3h4.3v1h-4.3zM36.8 271.3h2.9v1h-2.9zM37.4 277.3h3.8v1h-3.8zM34.7 277.3h1.3v1h-1.3zM33.0 278.3h5.7v1h-5.7zM33.8 278.3h3.2v1h-3.2zM37.6 279.3h3.7v1h-3.7zM35.6 279.3h1.4v1h-1.4zM31.9 280.3h4.5v1h-4.5zM37.0 281.3h1.2v1h-1.2zM34.3 282.3h4.9v1h-4.9zM36.5 284.3h5.4v1h-5.4zM28.8 285.3h3.2v1h-3.2zM31.1 287.3h1.8v1h-1.8zM35.0 290.3h3.9v1h-3.9zM100.2 147.3h1.9v1h-1.9zM96.5 147.3h2.6v1h-2.6zM90.8 149.3h3.6v1h-3.6zM93.4 150.3h4.1v1h-4.1zM97.7 151.3h2.9v1h-2.9zM95.1 152.3h2.5v1h-2.5zM95.9 154.3h1.3v1h-1.3zM96.9 159.3h1.4v1h-1.4zM96.1 160.3h2.7v1h-2.7zM94.0 161.3h2.7v1h-2.7zM94.8 161.3h2.8v1h-2.8zM98.6 162.3h2.7v1h-2.7zM98.8 166.3h1.3v1h-1.3zM98.2 168.3h3.4v1h-3.4zM97.3 170.3h1.3v1h-1.3zM94.0 171.3h2.3v1h-2.3zM98.6 171.3h1.5v1h-1.5zM97.4 172.3h3.7v1h-3.7zM96.0 172.3h1.9v1h-1.9zM97.0 173.3h2.4v1h-2.4zM94.1 173.3h1.6v1h-1.6zM95.2 174.3h2.8v1h-2.8zM94.5 175.3h3.8v1h-3.8zM95.1 182.3h1.8v1h-1.8zM100.5 183.3h3.9v1h-3.9zM95.1 184.3h1.3v1h-1.3zM98.2 187.3h3.4v1h-3.4zM97.7 188.3h2.6v1h-2.6zM99.2 188.3h1.7v1h-1.7zM99.0 189.3h2.9v1h-2.9zM95.8 191.3h3.5v1h-3.5zM95.1 191.3h3.0v1h-3.0zM98.1 192.3h3.9v1h-3.9zM98.2 193.3h2.0v1h-2.0zM97.9 194.3h3.9v1h-3.9zM92.8 194.3h3.5v1h-3.5zM97.8 195.3h2.9v1h-2.9zM95.0 196.3h2.1v1h-2.1zM99.0 197.3h1.6v1h-1.6zM94.6 197.3h3.8v1h-3.8zM97.1 199.3h2.6v1h-2.6zM93.0 200.3h1.2v1h-1.2zM101.2 201.3h1.4v1h-1.4zM95.3 206.3h2.1v1h-2.1zM101.0 207.3h1.2v1h-1.2zM95.8 208.3h2.2v1h-2.2zM93.6 209.3h3.6v1h-3.6zM101.0 210.3h1.5v1h-1.5zM91.1 210.3h3.7v1h-3.7zM99.4 211.3h1.2v1h-1.2zM97.5 212.3h3.0v1h-3.0zM98.1 213.3h1.2v1h-1.2zM95.2 217.3h2.3v1h-2.3zM99.2 219.3h3.8v1h-3.8zM93.5 222.3h3.3v1h-3.3zM95.8 225.3h1.9v1h-1.9zM97.0 226.3h2.6v1h-2.6zM95.0 234.3h3.1v1h-3.1zM97.5 238.3h1.3v1h-1.3zM96.3 240.3h2.6v1h-2.6zM93.5 242.3h3.4v1h-3.4zM96.0 245.3h2.2v1h-2.2zM91.7 250.3h2.1v1h-2.1zM97.8 252.3h2.2v1h-2.2zM97.2 260.3h2.8v1h-2.8zM96.6 262.3h1.9v1h-1.9zM92.0 267.3h1.9v1h-1.9zM95.2 268.3h4.7v1h-4.7zM92.4 268.3h4.7v1h-4.7zM97.2 270.3h3.1v1h-3.1zM95.3 273.3h3.5v1h-3.5zM96.2 273.3h2.9v1h-2.9zM95.5 273.3h3.6v1h-3.6zM98.4 278.3h3.8v1h-3.8zM93.1 280.3h3.9v1h-3.9zM97.9 280.3h1.9v1h-1.9zM94.9 281.3h3.8v1h-3.8zM98.8 281.3h1.4v1h-1.4zM95.4 284.3h2.6v1h-2.6zM97.3 284.3h1.2v1h-1.2zM97.6 284.3h1.3v1h-1.3zM100.3 285.3h1.5v1h-1.5zM96.3 286.3h2.0v1h-2.0zM99.1 286.3h2.3v1h-2.3zM92.4 288.3h4.0v1h-4.0zM99.1 289.3h3.9v1h-3.9zM151.6 149.3h4.7v1h-4.7zM159.3 149.3h3.4v1h-3.4zM156.7 150.3h2.3v1h-2.3zM151.8 151.3h3.3v1h-3.3zM159.1 151.3h4.6v1h-4.6zM156.7 151.3h2.8v1h-2.8zM160.5 152.3h1.6v1h-1.6zM160.5 152.3h2.6v1h-2.6zM156.3 156.3h5.0v1h-5.0zM156.1 158.3h4.7v1h-4.7zM157.1 158.3h4.7v1h-4.7zM156.4 159.3h1.2v1h-1.2zM156.9 159.3h4.1v1h-4.1zM156.1 160.3h4.2v1h-4.2zM155.3 161.3h3.3v1h-3.3zM160.5 162.3h1.0v1h-1.0zM154.0 163.3h3.7v1h-3.7zM157.6 163.3h2.1v1h-2.1zM156.9 165.3h2.7v1h-2.7zM157.6 165.3h2.6v1h-2.6zM154.5 166.3h3.1v1h-3.1zM157.1 167.3h5.4v1h-5.4zM162.3 170.3h2.8v1h-2.8zM157.1 172.3h1.7v1h-1.7zM154.6 173.3h5.2v1h-5.2zM156.5 175.3h2.1v1h-2.1zM158.0 175.3h2.0v1h-2.0zM157.2 178.3h3.6v1h-3.6zM157.1 179.3h2.6v1h-2.6zM153.3 183.3h2.3v1h-2.3zM158.8 183.3h5.4v1h-5.4zM160.8 185.3h2.1v1h-2.1zM157.3 188.3h4.5v1h-4.5zM161.8 189.3h2.8v1h-2.8zM156.1 195.3h1.1v1h-1.1zM153.1 197.3h2.1v1h-2.1zM156.4 198.3h4.3v1h-4.3zM156.6 202.3h4.5v1h-4.5zM156.8 204.3h3.4v1h-3.4zM156.4 205.3h2.6v1h-2.6zM157.3 205.3h2.5v1h-2.5zM155.5 206.3h5.3v1h-5.3zM153.8 206.3h2.5v1h-2.5zM159.8 209.3h4.0v1h-4.0zM159.5 209.3h5.3v1h-5.3zM157.1 210.3h4.9v1h-4.9zM158.6 215.3h2.0v1h-2.0zM160.9 217.3h2.2v1h-2.2zM153.9 218.3h4.0v1h-4.0zM158.2 218.3h2.1v1h-2.1zM154.7 218.3h4.9v1h-4.9zM156.3 219.3h1.2v1h-1.2zM155.7 219.3h1.8v1h-1.8zM157.8 220.3h5.5v1h-5.5zM157.2 221.3h2.4v1h-2.4zM153.8 224.3h3.0v1h-3.0zM157.2 226.3h2.8v1h-2.8zM155.4 229.3h1.6v1h-1.6zM155.9 229.3h3.2v1h-3.2zM151.7 230.3h2.4v1h-2.4zM156.7 234.3h5.3v1h-5.3zM155.1 234.3h3.9v1h-3.9zM151.4 235.3h2.0v1h-2.0zM156.9 238.3h4.1v1h-4.1zM156.9 240.3h3.5v1h-3.5zM155.5 242.3h4.0v1h-4.0zM154.9 242.3h2.3v1h-2.3zM160.2 245.3h5.6v1h-5.6zM150.6 250.3h1.6v1h-1.6zM156.7 253.3h4.0v1h-4.0zM158.7 257.3h2.2v1h-2.2zM159.5 259.3h1.2v1h-1.2zM153.6 259.3h3.6v1h-3.6zM155.2 261.3h3.4v1h-3.4zM157.0 262.3h4.8v1h-4.8zM160.2 264.3h2.3v1h-2.3zM157.9 267.3h5.5v1h-5.5zM157.6 270.3h4.1v1h-4.1zM155.5 270.3h2.0v1h-2.0zM162.0 272.3h1.2v1h-1.2zM160.2 273.3h3.5v1h-3.5zM161.0 274.3h5.6v1h-5.6zM155.4 275.3h5.1v1h-5.1zM150.8 276.3h5.2v1h-5.2zM158.4 277.3h1.2v1h-1.2zM158.5 278.3h3.7v1h-3.7zM159.8 279.3h1.8v1h-1.8zM163.4 279.3h2.0v1h-2.0zM156.1 280.3h4.0v1h-4.0zM156.6 281.3h3.5v1h-3.5zM155.0 282.3h4.0v1h-4.0zM161.0 282.3h5.3v1h-5.3zM153.7 283.3h2.0v1h-2.0zM157.5 285.3h3.2v1h-3.2zM154.3 286.3h5.1v1h-5.1zM156.4 288.3h5.3v1h-5.3zM161.3 288.3h1.2v1h-1.2zM215.2 147.3h3.0v1h-3.0zM215.0 150.3h1.9v1h-1.9zM217.8 150.3h4.5v1h-4.5zM221.9 152.3h2.5v1h-2.5zM212.9 154.3h4.2v1h-4.2zM215.2 155.3h5.1v1h-5.1zM218.7 156.3h2.3v1h-2.3zM221.4 157.3h2.1v1h-2.1zM218.3 158.3h1.2v1h-1.2zM216.6 158.3h3.6v1h-3.6zM217.6 159.3h3.0v1h-3.0zM217.3 160.3h2.5v1h-2.5zM220.9 160.3h2.7v1h-2.7zM219.9 160.3h3.0v1h-3.0zM213.1 161.3h2.8v1h-2.8zM216.1 161.3h5.5v1h-5.5zM218.4 161.3h1.1v1h-1.1zM216.4 162.3h4.5v1h-4.5zM218.0 162.3h2.6v1h-2.6zM216.6 163.3h2.9v1h-2.9zM217.7 165.3h3.9v1h-3.9zM215.2 166.3h2.7v1h-2.7zM217.4 169.3h3.3v1h-3.3zM215.7 171.3h4.8v1h-4.8zM221.0 172.3h1.6v1h-1.6zM216.1 172.3h3.2v1h-3.2zM223.5 174.3h2.3v1h-2.3zM220.8 174.3h3.8v1h-3.8zM213.3 176.3h5.4v1h-5.4zM218.3 178.3h5.4v1h-5.4zM219.5 181.3h5.4v1h-5.4zM218.6 183.3h5.5v1h-5.5zM211.3 184.3h5.4v1h-5.4zM216.9 185.3h5.2v1h-5.2zM217.2 186.3h1.9v1h-1.9zM216.3 187.3h5.1v1h-5.1zM215.5 190.3h4.0v1h-4.0zM216.6 192.3h3.7v1h-3.7zM215.5 193.3h3.2v1h-3.2zM216.0 194.3h4.3v1h-4.3zM214.3 194.3h4.3v1h-4.3zM215.5 194.3h1.7v1h-1.7zM217.0 196.3h3.3v1h-3.3zM217.9 196.3h2.0v1h-2.0zM220.3 200.3h1.3v1h-1.3zM213.3 200.3h4.4v1h-4.4zM222.4 202.3h2.7v1h-2.7zM214.1 204.3h5.0v1h-5.0zM216.9 205.3h2.3v1h-2.3zM213.2 205.3h5.2v1h-5.2zM219.1 206.3h4.6v1h-4.6zM219.2 208.3h2.4v1h-2.4zM217.3 209.3h5.2v1h-5.2zM212.7 209.3h5.2v1h-5.2zM219.3 212.3h1.0v1h-1.0zM217.1 213.3h2.7v1h-2.7zM217.8 214.3h4.1v1h-4.1zM219.5 217.3h4.1v1h-4.1zM216.7 218.3h3.2v1h-3.2zM215.1 219.3h3.9v1h-3.9zM219.4 222.3h2.7v1h-2.7zM215.4 222.3h4.4v1h-4.4zM214.3 223.3h2.3v1h-2.3zM220.5 226.3h5.2v1h-5.2zM211.9 227.3h1.9v1h-1.9zM221.3 228.3h3.2v1h-3.2zM219.2 228.3h4.3v1h-4.3zM219.4 229.3h2.5v1h-2.5zM221.4 229.3h3.7v1h-3.7zM217.4 230.3h2.7v1h-2.7zM218.0 231.3h1.2v1h-1.2zM217.1 232.3h1.3v1h-1.3zM216.5 232.3h2.7v1h-2.7zM219.7 234.3h3.3v1h-3.3zM216.3 237.3h2.8v1h-2.8zM218.1 239.3h1.9v1h-1.9zM220.3 240.3h1.8v1h-1.8zM219.0 240.3h2.5v1h-2.5zM216.1 242.3h2.5v1h-2.5zM216.6 243.3h1.8v1h-1.8zM218.6 248.3h1.2v1h-1.2zM214.3 248.3h3.3v1h-3.3zM216.3 249.3h2.8v1h-2.8zM220.1 250.3h1.2v1h-1.2zM219.9 250.3h3.0v1h-3.0zM218.5 251.3h1.6v1h-1.6zM219.4 253.3h3.2v1h-3.2zM218.8 254.3h3.8v1h-3.8zM214.1 255.3h1.6v1h-1.6zM218.0 257.3h1.6v1h-1.6zM218.9 258.3h3.4v1h-3.4zM221.3 260.3h1.1v1h-1.1zM220.4 264.3h1.6v1h-1.6zM214.2 265.3h3.4v1h-3.4zM219.1 267.3h2.1v1h-2.1zM219.9 269.3h2.1v1h-2.1zM219.4 269.3h2.5v1h-2.5zM217.2 273.3h3.1v1h-3.1zM215.6 276.3h1.6v1h-1.6zM217.9 277.3h3.6v1h-3.6zM215.4 278.3h3.2v1h-3.2zM219.9 278.3h1.9v1h-1.9zM216.5 279.3h1.1v1h-1.1zM218.6 281.3h2.3v1h-2.3zM220.6 282.3h2.7v1h-2.7zM214.8 283.3h1.8v1h-1.8zM219.6 287.3h2.4v1h-2.4zM216.6 288.3h2.4v1h-2.4zM213.2 290.3h2.6v1h-2.6zM218.6 290.3h2.5v1h-2.5z" fill="#8a94cc" opacity="0.25"/><path d="M35.2 261.3h5.5v1h-5.5zM36.6 270.3h5.2v1h-5.2zM39.2 272.3h3.6v1h-3.6zM33.8 272.3h2.7v1h-2.7zM39.0 275.3h3.6v1h-3.6zM37.0 280.3h3.0v1h-3.0zM38.1 286.3h4.9v1h-4.9zM155.4 147.3h5.7v1h-5.7zM161.7 149.3h1.4v1h-1.4zM155.7 154.3h3.7v1h-3.7zM155.5 155.3h5.5v1h-5.5zM158.7 156.3h2.3v1h-2.3zM158.0 158.3h3.4v1h-3.4zM156.6 159.3h2.6v1h-2.6zM157.3 161.3h2.4v1h-2.4zM153.4 164.3h2.2v1h-2.2zM161.3 166.3h2.6v1h-2.6zM158.6 171.3h2.1v1h-2.1zM156.8 172.3h3.2v1h-3.2zM163.2 174.3h1.4v1h-1.4zM158.4 183.3h3.1v1h-3.1zM154.7 187.3h1.9v1h-1.9zM152.3 191.3h2.6v1h-2.6zM159.3 197.3h2.1v1h-2.1zM156.7 198.3h1.7v1h-1.7zM157.6 209.3h2.7v1h-2.7zM151.9 211.3h1.6v1h-1.6zM160.6 212.3h1.4v1h-1.4zM155.6 213.3h5.6v1h-5.6zM160.8 217.3h3.9v1h-3.9zM154.8 228.3h2.4v1h-2.4zM155.0 228.3h2.8v1h-2.8zM154.5 231.3h5.3v1h-5.3zM157.2 233.3h1.4v1h-1.4zM148.5 239.3h5.5v1h-5.5zM157.9 240.3h1.5v1h-1.5zM158.1 246.3h3.6v1h-3.6zM156.1 247.3h3.6v1h-3.6zM155.6 248.3h5.8v1h-5.8zM155.2 254.3h5.7v1h-5.7zM154.7 257.3h5.1v1h-5.1zM159.4 266.3h4.8v1h-4.8zM149.3 270.3h5.7v1h-5.7zM155.8 274.3h2.9v1h-2.9zM159.0 277.3h1.7v1h-1.7zM155.0 278.3h3.3v1h-3.3zM155.9 280.3h5.4v1h-5.4zM153.5 280.3h1.4v1h-1.4zM157.3 287.3h1.5v1h-1.5zM156.5 289.3h1.3v1h-1.3zM217.3 166.3h1.0v1h-1.0zM219.3 174.3h3.0v1h-3.0zM221.1 175.3h2.9v1h-2.9zM213.2 177.3h5.6v1h-5.6zM220.4 177.3h1.8v1h-1.8zM217.7 210.3h4.8v1h-4.8zM218.6 212.3h3.8v1h-3.8zM216.7 220.3h5.1v1h-5.1z" fill="#8a94cc" opacity="0.75"/><path d="M32.7 262.4h9.2v0.7h-9.2zM27.3 263.4h8.9v0.7h-8.9zM41.0 263.4h8.0v0.7h-8.0zM30.0 264.4h14.5v0.7h-14.5zM32.0 265.4h11.2v0.7h-11.2zM27.7 265.4h5.2v0.7h-5.2zM33.7 266.4h15.3v0.7h-15.3zM38.2 267.4h13.3v0.7h-13.3zM40.6 267.4h11.6v0.7h-11.6zM30.3 268.4h11.1v0.7h-11.1zM33.7 270.4h6.7v0.7h-6.7zM29.0 270.4h12.1v0.7h-12.1zM29.2 271.4h15.6v0.7h-15.6zM23.2 271.4h14.5v0.7h-14.5zM41.9 272.4h7.9v0.7h-7.9zM35.5 272.4h14.1v0.7h-14.1zM28.7 273.4h10.7v0.7h-10.7zM33.2 273.4h14.6v0.7h-14.6zM31.3 274.4h6.2v0.7h-6.2zM25.9 275.4h16.0v0.7h-16.0zM29.6 276.4h14.8v0.7h-14.8zM28.8 276.4h14.7v0.7h-14.7zM26.1 277.4h8.7v0.7h-8.7zM34.3 278.4h4.4v0.7h-4.4zM33.1 278.4h7.2v0.7h-7.2zM33.6 279.4h7.1v0.7h-7.1zM30.1 279.4h7.0v0.7h-7.0zM31.7 279.4h6.6v0.7h-6.6zM36.6 281.4h8.2v0.7h-8.2zM30.7 281.4h15.0v0.7h-15.0zM35.0 282.4h4.5v0.7h-4.5zM28.7 283.4h14.0v0.7h-14.0zM32.6 283.4h10.1v0.7h-10.1zM39.1 284.4h6.9v0.7h-6.9zM41.5 286.4h11.7v0.7h-11.7zM30.2 286.4h15.2v0.7h-15.2zM36.6 287.4h4.5v0.7h-4.5zM28.6 287.4h11.5v0.7h-11.5zM37.9 288.4h4.0v0.7h-4.0zM36.8 288.4h14.3v0.7h-14.3zM28.0 288.4h11.9v0.7h-11.9zM31.6 289.4h14.9v0.7h-14.9zM42.9 289.4h11.4v0.7h-11.4zM33.0 289.4h4.7v0.7h-4.7zM28.0 290.4h10.4v0.7h-10.4zM158.3 147.4h6.2v0.7h-6.2zM148.6 147.4h8.3v0.7h-8.3zM146.7 148.4h14.6v0.7h-14.6zM159.2 148.4h15.0v0.7h-15.0zM145.5 149.4h15.5v0.7h-15.5zM148.3 149.4h14.8v0.7h-14.8zM157.4 150.4h10.9v0.7h-10.9zM157.1 151.4h15.3v0.7h-15.3zM146.2 151.4h13.7v0.7h-13.7zM156.2 151.4h9.5v0.7h-9.5zM160.8 152.4h5.0v0.7h-5.0zM147.1 152.4h12.6v0.7h-12.6zM152.2 153.4h14.9v0.7h-14.9zM154.0 154.4h10.6v0.7h-10.6zM160.4 155.4h8.3v0.7h-8.3zM147.4 155.4h14.4v0.7h-14.4zM150.0 155.4h8.3v0.7h-8.3zM153.3 156.4h9.0v0.7h-9.0zM161.9 157.4h14.0v0.7h-14.0zM158.9 157.4h8.4v0.7h-8.4zM155.8 158.4h10.9v0.7h-10.9zM159.3 159.4h5.1v0.7h-5.1zM153.8 160.4h12.9v0.7h-12.9zM155.5 161.4h15.9v0.7h-15.9zM148.0 162.4h8.2v0.7h-8.2zM158.2 163.4h14.9v0.7h-14.9zM153.2 165.4h11.9v0.7h-11.9zM160.4 165.4h11.6v0.7h-11.6zM151.4 166.4h12.5v0.7h-12.5zM156.4 166.4h14.2v0.7h-14.2zM150.1 166.4h7.8v0.7h-7.8zM154.7 167.4h8.5v0.7h-8.5zM152.4 168.4h8.4v0.7h-8.4zM149.9 169.4h6.7v0.7h-6.7zM153.8 170.4h8.5v0.7h-8.5zM149.3 171.4h6.8v0.7h-6.8zM151.2 172.4h9.8v0.7h-9.8zM149.9 173.4h15.2v0.7h-15.2zM149.1 174.4h14.9v0.7h-14.9zM158.4 175.4h7.4v0.7h-7.4zM147.3 176.4h6.4v0.7h-6.4zM151.8 177.4h14.4v0.7h-14.4zM148.6 177.4h12.1v0.7h-12.1zM148.6 178.4h10.0v0.7h-10.0zM155.1 178.4h4.2v0.7h-4.2zM152.1 178.4h13.2v0.7h-13.2zM150.3 179.4h5.2v0.7h-5.2zM161.2 180.4h8.9v0.7h-8.9zM152.6 181.4h8.4v0.7h-8.4zM153.3 181.4h11.5v0.7h-11.5zM154.0 182.4h10.6v0.7h-10.6zM151.9 182.4h5.4v0.7h-5.4zM165.8 182.4h4.3v0.7h-4.3zM165.7 183.4h8.7v0.7h-8.7zM153.0 184.4h7.6v0.7h-7.6zM147.0 185.4h12.3v0.7h-12.3zM159.8 186.4h15.9v0.7h-15.9zM162.0 187.4h5.2v0.7h-5.2zM156.5 187.4h11.8v0.7h-11.8zM153.7 188.4h12.9v0.7h-12.9zM147.9 188.4h15.3v0.7h-15.3zM155.9 189.4h7.9v0.7h-7.9zM165.0 190.4h5.5v0.7h-5.5zM155.6 190.4h4.3v0.7h-4.3zM155.6 190.4h10.6v0.7h-10.6zM149.7 191.4h11.7v0.7h-11.7zM140.7 191.4h15.2v0.7h-15.2zM155.1 193.4h9.1v0.7h-9.1zM153.0 193.4h12.4v0.7h-12.4zM155.7 194.4h14.5v0.7h-14.5zM159.5 194.4h7.3v0.7h-7.3zM147.9 196.4h15.5v0.7h-15.5zM149.9 196.4h8.2v0.7h-8.2zM153.8 197.4h5.5v0.7h-5.5zM159.6 198.4h7.8v0.7h-7.8zM143.5 198.4h12.2v0.7h-12.2zM157.9 199.4h4.9v0.7h-4.9zM154.0 199.4h5.1v0.7h-5.1zM156.5 201.4h12.9v0.7h-12.9zM158.9 202.4h8.5v0.7h-8.5zM148.3 202.4h6.6v0.7h-6.6zM150.6 202.4h6.4v0.7h-6.4zM152.5 203.4h6.1v0.7h-6.1zM151.0 204.4h12.0v0.7h-12.0zM152.1 206.4h8.2v0.7h-8.2zM159.8 206.4h10.9v0.7h-10.9zM156.6 207.4h7.1v0.7h-7.1zM154.3 207.4h9.3v0.7h-9.3zM154.7 208.4h7.2v0.7h-7.2zM158.9 210.4h10.0v0.7h-10.0zM156.0 210.4h9.1v0.7h-9.1zM145.2 211.4h8.1v0.7h-8.1zM164.1 212.4h8.6v0.7h-8.6zM156.3 212.4h9.7v0.7h-9.7zM148.7 213.4h15.9v0.7h-15.9zM157.0 215.4h12.8v0.7h-12.8zM149.7 215.4h7.6v0.7h-7.6zM145.1 216.4h15.1v0.7h-15.1zM151.8 216.4h11.9v0.7h-11.9zM153.5 218.4h4.7v0.7h-4.7zM156.6 218.4h4.8v0.7h-4.8zM148.4 218.4h14.7v0.7h-14.7zM158.7 219.4h8.0v0.7h-8.0zM152.7 219.4h8.9v0.7h-8.9zM155.1 221.4h8.0v0.7h-8.0zM154.5 223.4h11.7v0.7h-11.7zM155.1 223.4h5.0v0.7h-5.0zM159.6 223.4h4.5v0.7h-4.5zM153.7 224.4h4.5v0.7h-4.5zM159.4 224.4h5.7v0.7h-5.7zM156.2 225.4h8.6v0.7h-8.6zM152.9 225.4h8.0v0.7h-8.0zM142.9 226.4h13.1v0.7h-13.1zM152.6 226.4h5.8v0.7h-5.8zM153.0 227.4h13.7v0.7h-13.7zM153.6 228.4h10.4v0.7h-10.4zM152.9 228.4h5.9v0.7h-5.9zM158.1 229.4h4.1v0.7h-4.1zM149.2 229.4h8.1v0.7h-8.1zM152.1 230.4h8.2v0.7h-8.2zM156.3 230.4h15.5v0.7h-15.5zM158.3 231.4h12.8v0.7h-12.8zM160.9 232.4h8.1v0.7h-8.1zM158.1 232.4h11.1v0.7h-11.1zM154.6 233.4h10.9v0.7h-10.9zM163.5 233.4h7.1v0.7h-7.1zM142.8 234.4h15.6v0.7h-15.6zM139.4 234.4h12.8v0.7h-12.8zM154.3 235.4h7.1v0.7h-7.1zM148.9 235.4h14.3v0.7h-14.3zM141.3 237.4h15.9v0.7h-15.9zM150.6 238.4h15.2v0.7h-15.2zM160.8 238.4h4.3v0.7h-4.3zM158.5 239.4h7.6v0.7h-7.6zM153.7 240.4h4.8v0.7h-4.8zM154.4 240.4h14.8v0.7h-14.8zM160.4 240.4h5.3v0.7h-5.3zM154.5 241.4h13.3v0.7h-13.3zM140.1 241.4h13.3v0.7h-13.3zM151.7 242.4h7.7v0.7h-7.7zM142.9 242.4h12.8v0.7h-12.8zM150.8 243.4h11.6v0.7h-11.6zM157.6 243.4h7.6v0.7h-7.6zM147.6 245.4h11.5v0.7h-11.5zM154.9 246.4h11.7v0.7h-11.7zM150.3 247.4h5.0v0.7h-5.0zM152.5 247.4h6.9v0.7h-6.9zM150.6 248.4h6.8v0.7h-6.8zM153.0 248.4h6.7v0.7h-6.7zM147.4 248.4h12.5v0.7h-12.5zM142.2 250.4h11.7v0.7h-11.7zM164.2 250.4h10.4v0.7h-10.4zM162.8 252.4h11.3v0.7h-11.3zM161.8 252.4h4.6v0.7h-4.6zM160.7 253.4h10.1v0.7h-10.1zM162.0 255.4h5.5v0.7h-5.5zM150.8 255.4h15.9v0.7h-15.9zM153.0 257.4h9.7v0.7h-9.7zM159.8 257.4h7.8v0.7h-7.8zM155.1 258.4h9.3v0.7h-9.3zM153.9 258.4h13.4v0.7h-13.4zM156.7 259.4h15.1v0.7h-15.1zM160.5 260.4h11.7v0.7h-11.7zM157.0 260.4h5.7v0.7h-5.7zM155.0 261.4h14.9v0.7h-14.9zM161.2 261.4h10.5v0.7h-10.5zM153.8 262.4h7.3v0.7h-7.3zM153.3 262.4h7.2v0.7h-7.2zM152.8 262.4h9.8v0.7h-9.8zM160.3 263.4h4.5v0.7h-4.5zM151.5 263.4h14.9v0.7h-14.9zM157.1 265.4h7.3v0.7h-7.3zM153.5 265.4h15.4v0.7h-15.4zM152.5 266.4h10.7v0.7h-10.7zM154.7 266.4h15.6v0.7h-15.6zM155.6 268.4h9.1v0.7h-9.1zM152.6 269.4h9.5v0.7h-9.5zM148.4 269.4h12.6v0.7h-12.6zM156.3 270.4h9.1v0.7h-9.1zM159.5 271.4h14.5v0.7h-14.5zM157.8 272.4h10.3v0.7h-10.3zM152.2 272.4h6.8v0.7h-6.8zM157.7 273.4h6.2v0.7h-6.2zM151.5 274.4h4.9v0.7h-4.9zM156.7 274.4h6.1v0.7h-6.1zM145.8 275.4h12.1v0.7h-12.1zM155.6 275.4h8.7v0.7h-8.7zM158.3 277.4h7.6v0.7h-7.6zM158.4 278.4h6.8v0.7h-6.8zM153.7 279.4h12.9v0.7h-12.9zM159.3 279.4h10.4v0.7h-10.4zM157.2 280.4h8.2v0.7h-8.2zM150.5 281.4h12.7v0.7h-12.7zM154.4 282.4h14.6v0.7h-14.6zM144.4 283.4h13.6v0.7h-13.6zM142.1 283.4h13.6v0.7h-13.6zM152.7 283.4h15.5v0.7h-15.5zM154.2 284.4h7.1v0.7h-7.1zM159.5 284.4h13.6v0.7h-13.6zM149.6 285.4h14.0v0.7h-14.0zM152.6 285.4h11.0v0.7h-11.0zM148.1 286.4h15.9v0.7h-15.9zM159.2 286.4h8.6v0.7h-8.6zM147.1 287.4h7.2v0.7h-7.2zM149.2 287.4h10.5v0.7h-10.5zM157.7 288.4h5.2v0.7h-5.2zM151.6 289.4h5.8v0.7h-5.8zM148.2 289.4h14.5v0.7h-14.5zM152.7 290.4h10.1v0.7h-10.1zM215.3 147.4h13.8v0.7h-13.8zM206.2 150.4h15.5v0.7h-15.5zM219.7 151.4h14.6v0.7h-14.6zM215.2 153.4h4.8v0.7h-4.8zM211.8 154.4h8.0v0.7h-8.0zM216.0 155.4h8.8v0.7h-8.8zM207.8 156.4h13.5v0.7h-13.5zM212.9 157.4h5.9v0.7h-5.9zM219.6 158.4h9.8v0.7h-9.8zM215.5 159.4h12.1v0.7h-12.1zM213.2 160.4h14.8v0.7h-14.8zM211.7 160.4h12.8v0.7h-12.8zM217.1 161.4h9.1v0.7h-9.1zM207.4 161.4h15.7v0.7h-15.7zM205.9 162.4h14.0v0.7h-14.0zM210.2 163.4h16.0v0.7h-16.0zM211.6 165.4h8.9v0.7h-8.9zM219.5 165.4h4.7v0.7h-4.7zM212.1 166.4h12.9v0.7h-12.9zM208.5 167.4h5.6v0.7h-5.6zM222.8 168.4h4.8v0.7h-4.8zM218.4 170.4h6.3v0.7h-6.3zM214.9 170.4h4.6v0.7h-4.6zM217.6 171.4h5.2v0.7h-5.2zM206.6 171.4h8.9v0.7h-8.9zM212.7 172.4h11.5v0.7h-11.5zM226.8 173.4h5.0v0.7h-5.0zM211.5 174.4h9.0v0.7h-9.0zM215.8 176.4h11.5v0.7h-11.5zM208.3 176.4h5.5v0.7h-5.5zM214.8 176.4h6.0v0.7h-6.0zM211.9 177.4h8.6v0.7h-8.6zM208.6 177.4h14.1v0.7h-14.1zM201.3 178.4h13.9v0.7h-13.9zM214.0 178.4h8.5v0.7h-8.5zM216.7 180.4h14.2v0.7h-14.2zM214.8 180.4h5.6v0.7h-5.6zM215.4 183.4h5.9v0.7h-5.9zM215.0 186.4h7.9v0.7h-7.9zM209.0 187.4h12.5v0.7h-12.5zM220.2 188.4h6.1v0.7h-6.1zM211.6 189.4h4.5v0.7h-4.5zM211.1 191.4h14.1v0.7h-14.1zM203.0 191.4h14.9v0.7h-14.9zM214.6 195.4h12.8v0.7h-12.8zM219.8 196.4h5.7v0.7h-5.7zM210.2 196.4h13.1v0.7h-13.1zM211.9 197.4h15.5v0.7h-15.5zM210.6 199.4h5.5v0.7h-5.5zM222.6 199.4h10.1v0.7h-10.1zM212.4 200.4h11.1v0.7h-11.1zM218.6 202.4h6.8v0.7h-6.8zM220.6 202.4h8.9v0.7h-8.9zM213.8 204.4h10.7v0.7h-10.7zM210.6 207.4h13.5v0.7h-13.5zM214.3 209.4h4.5v0.7h-4.5zM213.9 210.4h7.1v0.7h-7.1zM218.5 211.4h6.6v0.7h-6.6zM210.6 212.4h9.0v0.7h-9.0zM217.4 214.4h5.4v0.7h-5.4zM208.3 214.4h9.2v0.7h-9.2zM211.5 215.4h13.4v0.7h-13.4zM211.0 217.4h11.9v0.7h-11.9zM213.7 218.4h7.3v0.7h-7.3zM222.0 219.4h4.8v0.7h-4.8zM211.8 221.4h14.5v0.7h-14.5zM214.6 221.4h15.2v0.7h-15.2zM213.9 222.4h9.2v0.7h-9.2zM204.2 222.4h13.9v0.7h-13.9zM220.8 222.4h4.5v0.7h-4.5zM210.3 223.4h11.3v0.7h-11.3zM210.3 228.4h15.9v0.7h-15.9z" fill="#8a96c8" opacity="0.5"/><path d="M41.0 263.3h3.3v1h-3.3zM36.8 263.3h1.9v1h-1.9zM33.7 265.3h5.0v1h-5.0zM40.0 269.3h2.4v1h-2.4zM36.8 269.3h1.3v1h-1.3zM30.9 270.3h4.5v1h-4.5zM32.6 273.3h4.1v1h-4.1zM35.7 273.3h3.6v1h-3.6zM34.5 276.3h5.6v1h-5.6zM35.3 276.3h5.4v1h-5.4zM30.5 276.3h3.4v1h-3.4zM37.4 277.3h1.9v1h-1.9zM36.7 286.3h4.9v1h-4.9zM36.0 286.3h5.2v1h-5.2zM33.7 289.3h3.8v1h-3.8zM157.6 152.3h2.7v1h-2.7zM153.0 152.3h2.2v1h-2.2zM154.7 154.3h5.7v1h-5.7zM155.2 155.3h2.2v1h-2.2zM156.2 160.3h4.3v1h-4.3zM159.9 168.3h1.6v1h-1.6zM156.5 169.3h3.1v1h-3.1zM158.1 170.3h3.0v1h-3.0zM160.1 175.3h4.6v1h-4.6zM156.3 179.3h4.8v1h-4.8zM155.3 180.3h3.0v1h-3.0zM154.8 180.3h3.7v1h-3.7zM165.9 186.3h1.4v1h-1.4zM154.7 187.3h4.8v1h-4.8zM159.4 189.3h2.4v1h-2.4zM158.3 190.3h2.6v1h-2.6zM158.1 192.3h3.0v1h-3.0zM154.2 192.3h3.9v1h-3.9zM153.3 194.3h5.0v1h-5.0zM151.5 194.3h3.7v1h-3.7zM157.3 196.3h1.8v1h-1.8zM154.8 197.3h5.0v1h-5.0zM157.9 199.3h4.2v1h-4.2zM153.0 200.3h5.5v1h-5.5zM155.5 201.3h5.4v1h-5.4zM156.5 201.3h3.0v1h-3.0zM151.7 208.3h5.6v1h-5.6zM159.7 208.3h1.1v1h-1.1zM149.6 212.3h5.6v1h-5.6zM160.3 213.3h1.3v1h-1.3zM156.2 217.3h5.2v1h-5.2zM164.0 222.3h2.2v1h-2.2zM155.8 223.3h3.1v1h-3.1zM158.4 226.3h3.3v1h-3.3zM154.7 226.3h4.7v1h-4.7zM155.9 232.3h3.7v1h-3.7zM153.9 237.3h2.9v1h-2.9zM159.5 240.3h1.0v1h-1.0zM160.4 245.3h5.2v1h-5.2zM157.4 245.3h5.0v1h-5.0zM156.3 248.3h3.4v1h-3.4zM157.0 249.3h2.9v1h-2.9zM159.1 251.3h3.8v1h-3.8zM158.5 252.3h5.5v1h-5.5zM156.8 253.3h3.1v1h-3.1zM158.7 255.3h4.0v1h-4.0zM160.3 255.3h1.0v1h-1.0zM157.1 258.3h3.7v1h-3.7zM154.7 258.3h3.3v1h-3.3zM150.6 260.3h4.0v1h-4.0zM157.6 263.3h4.7v1h-4.7zM152.5 264.3h5.4v1h-5.4zM159.9 266.3h2.4v1h-2.4zM154.9 267.3h3.2v1h-3.2zM158.2 268.3h2.4v1h-2.4zM155.5 272.3h3.3v1h-3.3zM156.5 273.3h3.4v1h-3.4zM156.3 277.3h1.1v1h-1.1zM154.1 277.3h3.6v1h-3.6zM160.9 282.3h1.3v1h-1.3zM158.1 284.3h2.2v1h-2.2zM154.7 288.3h1.2v1h-1.2zM216.1 173.3h1.7v1h-1.7zM216.7 176.3h2.4v1h-2.4zM219.2 177.3h1.4v1h-1.4zM214.7 201.3h5.3v1h-5.3zM213.7 207.3h2.0v1h-2.0z" fill="#3e4ca6" opacity="0.75"/><rect x="8.6" y="147.3" width="58.3" height="144.59999999999997" fill="none" stroke="#111" stroke-width="1.1"/><text x="37.75" y="141.90" font-size="9.5" text-anchor="middle" fill="#111" >Controls</text><line x1="8.6" y1="291.9" x2="8.6" y2="294.7" stroke="#111" stroke-width="0.8"/><line x1="37.8" y1="291.9" x2="37.8" y2="294.7" stroke="#111" stroke-width="0.8"/><line x1="66.9" y1="291.9" x2="66.9" y2="294.7" stroke="#111" stroke-width="0.8"/><text x="8.60" y="296.50" font-size="6" text-anchor="end" fill="#222" textLength="21.5" lengthAdjust="spacingAndGlyphs" transform="rotate(-90 8.6 296.5)" dy="2.1">−1000 bp</text><text x="37.75" y="296.50" font-size="6" text-anchor="end" fill="#222" transform="rotate(-90 37.75 296.5)" dy="2.1">0</text><text x="66.90" y="296.50" font-size="6" text-anchor="end" fill="#222" textLength="19" lengthAdjust="spacingAndGlyphs" transform="rotate(-90 66.89999999999999 296.5)" dy="2.1">1000 bp</text><rect x="68.9" y="147.3" width="58.3" height="144.59999999999997" fill="none" stroke="#111" stroke-width="1.1"/><text x="98.05" y="141.90" font-size="9.5" text-anchor="middle" fill="#3ba3d6" ><tspan font-style="italic">Tcf7</tspan><tspan font-size="66%" dy="-3.6" font-style="normal">Δ/Δ</tspan></text><line x1="68.9" y1="291.9" x2="68.9" y2="294.7" stroke="#111" stroke-width="0.8"/><line x1="98.1" y1="291.9" x2="98.1" y2="294.7" stroke="#111" stroke-width="0.8"/><line x1="127.2" y1="291.9" x2="127.2" y2="294.7" stroke="#111" stroke-width="0.8"/><text x="68.90" y="296.50" font-size="6" text-anchor="end" fill="#222" textLength="21.5" lengthAdjust="spacingAndGlyphs" transform="rotate(-90 68.9 296.5)" dy="2.1">−1000 bp</text><text x="98.05" y="296.50" font-size="6" text-anchor="end" fill="#222" transform="rotate(-90 98.05000000000001 296.5)" dy="2.1">0</text><text x="127.20" y="296.50" font-size="6" text-anchor="end" fill="#222" textLength="19" lengthAdjust="spacingAndGlyphs" transform="rotate(-90 127.2 296.5)" dy="2.1">1000 bp</text><rect x="129.7" y="147.3" width="58.3" height="144.59999999999997" fill="none" stroke="#111" stroke-width="1.1"/><text x="158.85" y="141.90" font-size="9.5" text-anchor="middle" fill="#c5163a" ><tspan font-style="italic">N1IC</tspan></text><line x1="129.7" y1="291.9" x2="129.7" y2="294.7" stroke="#111" stroke-width="0.8"/><line x1="158.8" y1="291.9" x2="158.8" y2="294.7" stroke="#111" stroke-width="0.8"/><line x1="188.0" y1="291.9" x2="188.0" y2="294.7" stroke="#111" stroke-width="0.8"/><text x="129.70" y="296.50" font-size="6" text-anchor="end" fill="#222" textLength="21.5" lengthAdjust="spacingAndGlyphs" transform="rotate(-90 129.7 296.5)" dy="2.1">−1000 bp</text><text x="158.85" y="296.50" font-size="6" text-anchor="end" fill="#222" transform="rotate(-90 158.85 296.5)" dy="2.1">0</text><text x="188.00" y="296.50" font-size="6" text-anchor="end" fill="#222" textLength="19" lengthAdjust="spacingAndGlyphs" transform="rotate(-90 188.0 296.5)" dy="2.1">1000 bp</text><rect x="190.2" y="147.3" width="58.3" height="144.59999999999997" fill="none" stroke="#111" stroke-width="1.1"/><text x="219.35" y="141.90" font-size="9.5" text-anchor="middle" fill="#1f5b8e" ><tspan font-style="italic">N1IC Tcf7</tspan><tspan font-size="66%" dy="-3.6" font-style="normal">Δ/Δ</tspan></text><line x1="190.2" y1="291.9" x2="190.2" y2="294.7" stroke="#111" stroke-width="0.8"/><line x1="219.3" y1="291.9" x2="219.3" y2="294.7" stroke="#111" stroke-width="0.8"/><line x1="248.5" y1="291.9" x2="248.5" y2="294.7" stroke="#111" stroke-width="0.8"/><text x="190.20" y="296.50" font-size="6" text-anchor="end" fill="#222" textLength="21.5" lengthAdjust="spacingAndGlyphs" transform="rotate(-90 190.2 296.5)" dy="2.1">−1000 bp</text><text x="219.35" y="296.50" font-size="6" text-anchor="end" fill="#222" transform="rotate(-90 219.35 296.5)" dy="2.1">0</text><text x="248.50" y="296.50" font-size="6" text-anchor="end" fill="#222" textLength="19" lengthAdjust="spacingAndGlyphs" transform="rotate(-90 248.5 296.5)" dy="2.1">1000 bp</text><defs><linearGradient id="cb" x1="0" x2="1"><stop offset="0" stop-color="#1a1a4a"/><stop offset="0.5" stop-color="#2a2a70"/><stop offset="1" stop-color="#1a1a4a"/></linearGradient></defs><rect x="16.8" y="318.6" width="41.3" height="2.4" fill="url(#cb)"/><line x1="17.2" y1="320" x2="17.2" y2="323.2" stroke="#222" stroke-width="0.6"/><line x1="21.7" y1="320" x2="21.7" y2="323.2" stroke="#222" stroke-width="0.6"/><line x1="26.2" y1="320" x2="26.2" y2="323.2" stroke="#222" stroke-width="0.6"/><line x1="30.7" y1="320" x2="30.7" y2="323.2" stroke="#222" stroke-width="0.6"/><line x1="35.2" y1="320" x2="35.2" y2="323.2" stroke="#222" stroke-width="0.6"/><line x1="39.8" y1="320" x2="39.8" y2="323.2" stroke="#222" stroke-width="0.6"/><line x1="44.3" y1="320" x2="44.3" y2="323.2" stroke="#222" stroke-width="0.6"/><line x1="48.8" y1="320" x2="48.8" y2="323.2" stroke="#222" stroke-width="0.6"/><line x1="53.3" y1="320" x2="53.3" y2="323.2" stroke="#222" stroke-width="0.6"/><line x1="57.8" y1="320" x2="57.8" y2="323.2" stroke="#222" stroke-width="0.6"/><text x="17.50" y="330.80" font-size="7" text-anchor="middle" fill="#1a1a1a" >−0.6</text><text x="32.30" y="330.80" font-size="7" text-anchor="middle" fill="#1a1a1a" >0</text><text x="47.10" y="330.80" font-size="7" text-anchor="middle" fill="#1a1a1a" >0.6</text><text x="57.90" y="330.80" font-size="7" text-anchor="middle" fill="#1a1a1a" >1</text><text x="62.00" y="326.60" font-size="7" text-anchor="start" fill="#1a1a1a" textLength="62.5" lengthAdjust="spacingAndGlyphs" >centered scaled value</text><text x="397.70" y="128.20" font-size="10" text-anchor="middle" fill="#111" textLength="126.5" lengthAdjust="spacingAndGlyphs" >GOBP of accessibility induced</text><text x="318.3" y="140.1" font-size="10" fill="#111" textLength="143.5" lengthAdjust="spacingAndGlyphs">by <tspan fill="#c5163a" font-style="italic">N1IC</tspan>  in <tspan font-style="italic">Tcf7</tspan> dependent manner</text><rect x="436.40000000000003" y="146.00" width="77.34" height="6.4" fill="#c5163a"/><text x="432.80" y="151.40" font-size="7.0" text-anchor="end" fill="#1a1a1a" textLength="75.2" lengthAdjust="spacingAndGlyphs" >Lymphocyte differentiation</text><rect x="436.40000000000003" y="153.67" width="54.85" height="6.4" fill="#c5163a"/><text x="432.80" y="159.07" font-size="7.0" text-anchor="end" fill="#1a1a1a" textLength="88.8" lengthAdjust="spacingAndGlyphs" >Alpha-beta T cell differentiation</text><rect x="436.40000000000003" y="161.34" width="52.36" height="6.4" fill="#c5163a"/><text x="432.80" y="166.74" font-size="7.0" text-anchor="end" fill="#1a1a1a" textLength="77.4" lengthAdjust="spacingAndGlyphs" >Alpha-beta T cell activation</text><rect x="436.40000000000003" y="169.01" width="51.61" height="6.4" fill="#c5163a"/><text x="432.80" y="174.41" font-size="7.0" text-anchor="end" fill="#1a1a1a" textLength="55.9" lengthAdjust="spacingAndGlyphs" >T cell differentiation</text><rect x="436.40000000000003" y="176.68" width="50.60" height="6.4" fill="#c5163a"/><text x="432.80" y="182.08" font-size="7.0" text-anchor="end" fill="#1a1a1a" textLength="106.2" lengthAdjust="spacingAndGlyphs" >Positive regulation of T cell activation</text><rect x="436.40000000000003" y="184.35" width="39.60" height="6.4" fill="#c5163a"/><text x="432.80" y="189.75" font-size="7.0" text-anchor="end" fill="#1a1a1a" textLength="112.7" lengthAdjust="spacingAndGlyphs" >Positive regulation of T cell proliferation</text><rect x="436.40000000000003" y="192.02" width="39.10" height="6.4" fill="#c5163a"/><text x="432.80" y="197.42" font-size="7.0" text-anchor="end" fill="#1a1a1a" textLength="90.7" lengthAdjust="spacingAndGlyphs" >Regulation of T cell proliferation</text><rect x="436.40000000000003" y="199.69" width="36.85" height="6.4" fill="#c5163a"/><text x="432.80" y="205.09" font-size="7.0" text-anchor="end" fill="#1a1a1a" textLength="129.5" lengthAdjust="spacingAndGlyphs" >Antigen receptor-mediated signaling pathway</text><rect x="436.40000000000003" y="207.36" width="36.10" height="6.4" fill="#c5163a"/><text x="432.80" y="212.76" font-size="7.0" text-anchor="end" fill="#1a1a1a" textLength="157.5" lengthAdjust="spacingAndGlyphs" >Immune response-regulating cell surface rec. sig. path.</text><rect x="436.40000000000003" y="215.03" width="35.34" height="6.4" fill="#c5163a"/><text x="432.80" y="220.43" font-size="7.0" text-anchor="end" fill="#1a1a1a" textLength="156.4" lengthAdjust="spacingAndGlyphs" >Immune response-activating cell surface rec. sig. path.</text><rect x="436.40000000000003" y="222.70" width="29.84" height="6.4" fill="#c5163a"/><text x="432.80" y="228.10" font-size="7.0" text-anchor="end" fill="#1a1a1a" textLength="56.3" lengthAdjust="spacingAndGlyphs" >B cell differentiation</text><rect x="436.40000000000003" y="230.37" width="28.60" height="6.4" fill="#c5163a"/><text x="432.80" y="235.77" font-size="7.0" text-anchor="end" fill="#1a1a1a" textLength="125.4" lengthAdjust="spacingAndGlyphs" >Positive regulation of glial cell differentiation</text><rect x="436.40000000000003" y="238.04" width="28.60" height="6.4" fill="#c5163a"/><text x="432.80" y="243.44" font-size="7.0" text-anchor="end" fill="#1a1a1a" textLength="94.2" lengthAdjust="spacingAndGlyphs" >Positive regulation of gliogenesis</text><rect x="436.40000000000003" y="245.71" width="27.35" height="6.4" fill="#c5163a"/><text x="432.80" y="251.11" font-size="7.0" text-anchor="end" fill="#1a1a1a" textLength="53.9" lengthAdjust="spacingAndGlyphs" >B cell homeostasis</text><rect x="436.40000000000003" y="253.38" width="26.11" height="6.4" fill="#c5163a"/><text x="432.80" y="258.78" font-size="7.0" text-anchor="end" fill="#1a1a1a" textLength="135.1" lengthAdjust="spacingAndGlyphs" >Positive regulation of lymphocyte differentiation</text><rect x="436.40000000000003" y="261.05" width="25.59" height="6.4" fill="#c5163a"/><text x="432.80" y="266.45" font-size="7.0" text-anchor="end" fill="#1a1a1a" textLength="126.1" lengthAdjust="spacingAndGlyphs" >Regulation of oligodendrocyte differentiation</text><rect x="436.40000000000003" y="268.72" width="25.59" height="6.4" fill="#c5163a"/><text x="432.80" y="274.12" font-size="7.0" text-anchor="end" fill="#1a1a1a" textLength="67.6" lengthAdjust="spacingAndGlyphs" >Leukocyte homeostasis</text><rect x="436.40000000000003" y="276.39" width="25.36" height="6.4" fill="#c5163a"/><text x="432.80" y="281.79" font-size="7.0" text-anchor="end" fill="#1a1a1a" textLength="168.7" lengthAdjust="spacingAndGlyphs" >Regulation of antigen receptor-mediated signaling pathway</text><rect x="436.40000000000003" y="284.06" width="24.84" height="6.4" fill="#c5163a"/><text x="432.80" y="289.46" font-size="7.0" text-anchor="end" fill="#1a1a1a" textLength="39.2" lengthAdjust="spacingAndGlyphs" >Organ growth</text><rect x="436.40000000000003" y="291.73" width="24.84" height="6.4" fill="#c5163a"/><text x="432.80" y="297.13" font-size="7.0" text-anchor="end" fill="#1a1a1a" textLength="90.3" lengthAdjust="spacingAndGlyphs" >Defense response to protozoan</text><line x1="435.8" y1="142.5" x2="435.8" y2="304.8" stroke="#111" stroke-width="1"/><line x1="435.3" y1="304.4" x2="508.8" y2="304.4" stroke="#111" stroke-width="1"/><line x1="435.8" y1="304.4" x2="435.8" y2="307.2" stroke="#111" stroke-width="0.8"/><text x="435.80" y="315.60" font-size="6.5" text-anchor="middle" fill="#333" >0</text><line x1="447.6" y1="304.4" x2="447.6" y2="307.2" stroke="#111" stroke-width="0.8"/><text x="447.55" y="315.60" font-size="6.5" text-anchor="middle" fill="#333" >5</text><line x1="459.3" y1="304.4" x2="459.3" y2="307.2" stroke="#111" stroke-width="0.8"/><text x="459.30" y="315.60" font-size="6.5" text-anchor="middle" fill="#333" >10</text><line x1="471.1" y1="304.4" x2="471.1" y2="307.2" stroke="#111" stroke-width="0.8"/><text x="471.05" y="315.60" font-size="6.5" text-anchor="middle" fill="#333" >15</text><line x1="482.8" y1="304.4" x2="482.8" y2="307.2" stroke="#111" stroke-width="0.8"/><text x="482.80" y="315.60" font-size="6.5" text-anchor="middle" fill="#333" >20</text><line x1="494.6" y1="304.4" x2="494.6" y2="307.2" stroke="#111" stroke-width="0.8"/><text x="494.55" y="315.60" font-size="6.5" text-anchor="middle" fill="#333" >25</text><line x1="506.3" y1="304.4" x2="506.3" y2="307.2" stroke="#111" stroke-width="0.8"/><text x="506.30" y="315.60" font-size="6.5" text-anchor="middle" fill="#333" >30</text><text x="472" y="326.4" font-size="8.5" text-anchor="middle" fill="#222">−log<tspan font-size="5.5" dy="2">10</tspan><tspan dy="-2">(P)</tspan></text><text x="25.50" y="348.20" font-size="8.8" text-anchor="start" fill="#111" textLength="73" lengthAdjust="spacingAndGlyphs" >ATAC-seq Controls</text><text x="100" y="379" font-size="8.8" text-anchor="end" fill="#3ba3d6" textLength="67" lengthAdjust="spacingAndGlyphs">ATAC-seq <tspan font-style="italic">Tcf7</tspan><tspan font-size="5" dy="-3">Δ/Δ</tspan></text><text x="96.3" y="410.2" font-size="8.8" text-anchor="end" fill="#c5163a" textLength="60.3" lengthAdjust="spacingAndGlyphs">ATAC-seq <tspan font-style="italic">N1IC</tspan></text><text x="98.4" y="441.5" font-size="8.8" text-anchor="end" fill="#1f5b8e" textLength="88.2" lengthAdjust="spacingAndGlyphs">ATAC-seq <tspan font-style="italic">N1IC Tcf7</tspan><tspan font-size="5" dy="-3">Δ/Δ</tspan></text><path d="M103 354.0 L103.0 353.85 L103.5 353.85 L104.0 353.85 L104.5 353.85 L105.0 353.85 L105.5 353.85 L106.0 353.85 L106.5 353.85 L107.0 353.85 L107.5 353.85 L108.0 353.85 L108.5 353.85 L109.0 353.85 L109.5 353.85 L110.0 353.85 L110.5 353.85 L111.0 353.85 L111.5 353.85 L112.0 353.85 L112.5 353.85 L113.0 353.85 L113.5 353.85 L114.0 353.85 L114.5 353.85 L115.0 353.85 L115.5 353.85 L116.0 353.85 L116.5 353.85 L117.0 353.85 L117.5 353.85 L118.0 353.85 L118.5 353.85 L119.0 353.85 L119.5 353.85 L120.0 353.85 L120.5 353.85 L121.0 353.85 L121.5 353.85 L122.0 353.85 L122.5 353.85 L123.0 353.85 L123.5 353.85 L124.0 353.85 L124.5 353.85 L125.0 353.85 L125.5 353.85 L126.0 353.85 L126.5 353.85 L127.0 353.85 L127.5 353.85 L128.0 353.85 L128.5 353.85 L129.0 353.85 L129.5 353.85 L130.0 353.85 L130.5 353.85 L131.0 353.85 L131.5 353.85 L132.0 353.85 L132.5 351.56 L133.0 350.27 L133.5 350.43 L134.0 351.34 L134.5 350.91 L135.0 350.99 L135.5 350.63 L136.0 350.38 L136.5 351.63 L137.0 351.75 L137.5 350.30 L138.0 351.02 L138.5 350.43 L139.0 351.80 L139.5 351.00 L140.0 350.50 L140.5 351.39 L141.0 350.10 L141.5 350.18 L142.0 351.74 L142.5 351.75 L143.0 353.85 L143.5 353.85 L144.0 353.85 L144.5 353.85 L145.0 353.85 L145.5 353.85 L146.0 353.85 L146.5 353.85 L147.0 353.85 L147.5 353.85 L148.0 353.85 L148.5 353.85 L149.0 353.85 L149.5 353.85 L150.0 353.85 L150.5 353.85 L151.0 353.85 L151.5 353.85 L152.0 353.85 L152.5 353.85 L153.0 353.85 L153.5 353.85 L154.0 353.85 L154.5 353.85 L155.0 353.85 L155.5 351.62 L156.0 351.08 L156.5 351.84 L157.0 352.06 L157.5 351.78 L158.0 352.31 L158.5 352.05 L159.0 351.76 L159.5 351.68 L160.0 352.04 L160.5 352.04 L161.0 352.05 L161.5 351.73 L162.0 351.96 L162.5 353.85 L163.0 352.60 L163.5 351.68 L164.0 352.00 L164.5 351.90 L165.0 352.42 L165.5 351.51 L166.0 351.66 L166.5 352.49 L167.0 352.25 L167.5 351.81 L168.0 351.82 L168.5 351.57 L169.0 352.15 L169.5 351.69 L170.0 351.87 L170.5 353.85 L171.0 353.85 L171.5 353.85 L172.0 351.94 L172.5 351.56 L173.0 351.16 L173.5 351.21 L174.0 351.67 L174.5 351.55 L175.0 352.30 L175.5 352.02 L176.0 351.27 L176.5 351.79 L177.0 352.12 L177.5 351.61 L178.0 351.40 L178.5 351.44 L179.0 351.84 L179.5 351.76 L180.0 351.66 L180.5 351.30 L181.0 351.65 L181.5 353.85 L182.0 353.85 L182.5 353.85 L183.0 353.85 L183.5 353.85 L184.0 353.85 L184.5 353.85 L185.0 353.85 L185.5 353.85 L186.0 353.85 L186.5 353.85 L187.0 353.85 L187.5 353.85 L188.0 353.85 L188.5 353.85 L189.0 353.85 L189.5 353.85 L190.0 353.85 L190.5 353.85 L191.0 353.85 L191.5 353.85 L192.0 353.85 L192.5 353.85 L193.0 353.85 L193.5 353.85 L194.0 353.85 L194.5 353.85 L195.0 353.85 L195.5 353.85 L196.0 353.85 L196.5 353.85 L197.0 353.85 L197.5 353.85 L198.0 353.85 L198.5 353.85 L199.0 353.85 L199.5 353.85 L200.0 353.85 L200.5 353.85 L201.0 353.85 L201.5 353.85 L202.0 351.82 L202.5 351.69 L203.0 352.31 L203.5 352.29 L204.0 351.40 L204.5 351.02 L205.0 351.55 L205.5 351.82 L206.0 352.12 L206.5 351.67 L207.0 351.02 L207.5 353.85 L208.0 351.76 L208.5 352.02 L209.0 351.66 L209.5 352.36 L210.0 352.05 L210.5 351.55 L211.0 351.97 L211.5 352.11 L212.0 352.32 L212.5 352.01 L213.0 351.55 L213.5 352.62 L214.0 351.74 L214.5 351.70 L215.0 351.63 L215.5 353.85 L216.0 353.85 L216.5 353.85 L217.0 353.85 L217.5 353.85 L218.0 353.85 L218.5 353.85 L219.0 353.85 L219.5 353.85 L220.0 353.85 L220.5 353.85 L221.0 353.85 L221.5 353.85 L222.0 353.85 L222.5 353.85 L223.0 353.85 L223.5 353.85 L224.0 353.85 L224.5 353.85 L225.0 353.85 L225.5 353.85 L226.0 353.85 L226.5 353.85 L227.0 353.85 L227.5 353.85 L228.0 353.85 L228.5 353.85 L229.0 353.85 L229.5 353.85 L230.0 353.85 L230.5 353.85 L231.0 353.85 L231.5 353.85 L232.0 353.85 L232.5 353.85 L233.0 353.85 L233.5 353.85 L234.0 353.85 L234.5 353.85 L235.0 353.85 L235.5 353.85 L236.0 353.85 L236.5 353.85 L237.0 353.85 L237.5 353.85 L238.0 353.85 L238.5 353.85 L239.0 353.85 L239.5 353.85 L240.0 353.85 L240.5 353.85 L241.0 353.85 L241.5 353.85 L242.0 353.85 L242.5 353.85 L243.0 352.23 L243.5 352.17 L244.0 352.43 L244.5 352.39 L245.0 352.52 L245.5 352.85 L246.0 352.12 L246.5 352.39 L247.0 352.72 L247.5 352.45 L248.0 352.46 L248.5 352.58 L249.0 352.59 L249.5 352.42 L250.0 352.34 L250.5 353.85 L251.0 353.85 L251.5 353.85 L252.0 353.85 L252.5 353.85 L253.0 353.85 L253.5 353.85 L254.0 353.85 L254.5 353.85 L255.0 353.85 L255.5 353.85 L256.0 353.85 L256.5 353.85 L257.0 353.85 L257.5 353.85 L258.0 353.85 L258.5 353.85 L259.0 353.85 L259.5 353.85 L260.0 353.85 L260.5 353.85 L261.0 351.94 L261.5 352.11 L262.0 352.59 L262.5 352.37 L263.0 352.43 L263.5 351.97 L264.0 351.66 L264.5 351.73 L265.0 351.73 L265.5 351.71 L266.0 352.34 L266.5 351.68 L267.0 351.87 L267.5 352.53 L268.0 352.61 L268.5 353.85 L269.0 352.89 L269.5 352.22 L270.0 352.68 L270.5 352.80 L271.0 352.34 L271.5 352.59 L272.0 352.84 L272.5 352.76 L273.0 352.43 L273.5 352.75 L274.0 352.65 L274.5 352.26 L275.0 352.49 L275.5 353.85 L276.0 353.85 L276.5 353.85 L277.0 353.85 L277.5 353.85 L278.0 353.85 L278.5 353.85 L279.0 353.85 L279.5 353.85 L280.0 353.85 L280.5 353.85 L281.0 353.85 L281.5 353.85 L282.0 353.85 L282.5 353.85 L283.0 353.85 L283.5 353.85 L284.0 352.61 L284.5 352.47 L285.0 352.88 L285.5 352.55 L286.0 352.52 L286.5 352.73 L287.0 352.80 L287.5 352.09 L288.0 352.44 L288.5 352.71 L289.0 352.35 L289.5 352.16 L290.0 352.88 L290.5 353.85 L291.0 353.85 L291.5 353.85 L292.0 353.85 L292.5 353.85 L293.0 353.85 L293.5 353.85 L293.5 354.0 Z" fill="#a9a9a9"/><line x1="103" y1="354.3" x2="293.5" y2="354.3" stroke="#555" stroke-width="0.7"/><path d="M103 384.7 L103.0 383.96 L103.5 383.96 L104.0 384.35 L104.5 384.33 L105.0 384.01 L105.5 384.05 L106.0 384.08 L106.5 384.24 L107.0 384.11 L107.5 384.11 L108.0 384.12 L108.5 384.30 L109.0 384.18 L109.5 384.20 L110.0 384.06 L110.5 383.94 L111.0 383.96 L111.5 384.13 L112.0 383.65 L112.5 383.80 L113.0 384.01 L113.5 384.01 L114.0 383.62 L114.5 383.75 L115.0 383.69 L115.5 383.22 L116.0 383.53 L116.5 383.47 L117.0 383.75 L117.5 383.93 L118.0 383.59 L118.5 383.74 L119.0 383.26 L119.5 382.58 L120.0 382.84 L120.5 383.38 L121.0 382.20 L121.5 382.14 L122.0 382.02 L122.5 381.44 L123.0 381.46 L123.5 381.13 L124.0 381.93 L124.5 380.06 L125.0 379.82 L125.5 381.94 L126.0 379.97 L126.5 379.92 L127.0 380.64 L127.5 380.34 L128.0 380.45 L128.5 379.00 L129.0 380.47 L129.5 379.44 L130.0 381.04 L130.5 379.29 L131.0 379.11 L131.5 380.44 L132.0 379.90 L132.5 378.54 L133.0 379.39 L133.5 380.56 L134.0 381.82 L134.5 382.01 L135.0 381.69 L135.5 383.11 L136.0 382.25 L136.5 383.35 L137.0 382.69 L137.5 383.48 L138.0 382.81 L138.5 383.11 L139.0 383.34 L139.5 383.32 L140.0 383.15 L140.5 383.18 L141.0 383.45 L141.5 383.52 L142.0 383.09 L142.5 382.44 L143.0 382.76 L143.5 383.46 L144.0 382.23 L144.5 382.25 L145.0 381.81 L145.5 382.96 L146.0 381.83 L146.5 383.07 L147.0 381.78 L147.5 382.49 L148.0 382.53 L148.5 381.03 L149.0 382.72 L149.5 381.75 L150.0 380.97 L150.5 382.38 L151.0 382.48 L151.5 381.02 L152.0 382.10 L152.5 381.54 L153.0 383.06 L153.5 382.46 L154.0 382.92 L154.5 382.09 L155.0 383.24 L155.5 381.88 L156.0 383.47 L156.5 382.50 L157.0 383.61 L157.5 383.35 L158.0 382.72 L158.5 383.60 L159.0 383.62 L159.5 383.11 L160.0 383.49 L160.5 383.88 L161.0 382.97 L161.5 383.82 L162.0 383.95 L162.5 383.67 L163.0 383.43 L163.5 383.32 L164.0 383.90 L164.5 383.68 L165.0 383.95 L165.5 383.51 L166.0 383.13 L166.5 383.07 L167.0 382.75 L167.5 382.77 L168.0 382.43 L168.5 382.44 L169.0 382.62 L169.5 382.88 L170.0 381.87 L170.5 382.41 L171.0 382.78 L171.5 381.93 L172.0 380.92 L172.5 382.67 L173.0 381.71 L173.5 382.25 L174.0 382.16 L174.5 383.03 L175.0 381.79 L175.5 383.13 L176.0 382.78 L176.5 383.18 L177.0 383.78 L177.5 383.24 L178.0 383.75 L178.5 383.87 L179.0 383.91 L179.5 383.78 L180.0 383.84 L180.5 383.26 L181.0 383.35 L181.5 382.76 L182.0 382.71 L182.5 382.51 L183.0 383.38 L183.5 382.98 L184.0 383.15 L184.5 382.48 L185.0 382.25 L185.5 381.74 L186.0 381.73 L186.5 382.51 L187.0 382.01 L187.5 381.63 L188.0 382.80 L188.5 382.66 L189.0 381.63 L189.5 382.38 L190.0 380.73 L190.5 382.03 L191.0 382.43 L191.5 382.27 L192.0 382.20 L192.5 382.29 L193.0 381.62 L193.5 381.79 L194.0 382.14 L194.5 381.27 L195.0 382.20 L195.5 380.16 L196.0 379.67 L196.5 380.07 L197.0 380.80 L197.5 380.44 L198.0 380.22 L198.5 382.09 L199.0 381.17 L199.5 381.23 L200.0 382.47 L200.5 382.96 L201.0 382.00 L201.5 383.05 L202.0 383.08 L202.5 382.82 L203.0 383.31 L203.5 383.70 L204.0 383.11 L204.5 383.69 L205.0 384.01 L205.5 383.44 L206.0 383.95 L206.5 383.77 L207.0 383.31 L207.5 383.46 L208.0 384.03 L208.5 383.65 L209.0 383.69 L209.5 383.62 L210.0 383.86 L210.5 383.53 L211.0 383.98 L211.5 383.79 L212.0 383.72 L212.5 384.33 L213.0 384.52 L213.5 384.37 L214.0 384.49 L214.5 384.41 L215.0 384.45 L215.5 384.43 L216.0 384.37 L216.5 384.45 L217.0 384.51 L217.5 384.51 L218.0 384.52 L218.5 384.35 L219.0 384.40 L219.5 384.33 L220.0 384.38 L220.5 384.53 L221.0 384.39 L221.5 384.36 L222.0 384.37 L222.5 384.42 L223.0 384.45 L223.5 384.43 L224.0 384.35 L224.5 384.47 L225.0 384.40 L225.5 384.41 L226.0 384.29 L226.5 384.32 L227.0 383.02 L227.5 383.07 L228.0 383.58 L228.5 383.61 L229.0 383.28 L229.5 383.49 L230.0 383.22 L230.5 382.82 L231.0 382.39 L231.5 382.75 L232.0 382.29 L232.5 383.31 L233.0 382.79 L233.5 381.54 L234.0 382.98 L234.5 382.36 L235.0 382.97 L235.5 382.85 L236.0 380.94 L236.5 380.58 L237.0 381.27 L237.5 382.47 L238.0 381.99 L238.5 382.11 L239.0 380.92 L239.5 380.86 L240.0 381.50 L240.5 381.28 L241.0 382.39 L241.5 381.31 L242.0 380.32 L242.5 380.91 L243.0 382.61 L243.5 381.69 L244.0 381.35 L244.5 382.48 L245.0 381.24 L245.5 382.26 L246.0 381.92 L246.5 382.59 L247.0 381.68 L247.5 382.16 L248.0 382.60 L248.5 383.32 L249.0 382.90 L249.5 383.52 L250.0 382.65 L250.5 382.12 L251.0 383.13 L251.5 382.40 L252.0 382.23 L252.5 382.14 L253.0 381.12 L253.5 380.15 L254.0 380.41 L254.5 380.83 L255.0 379.01 L255.5 380.97 L256.0 379.50 L256.5 379.85 L257.0 379.66 L257.5 379.63 L258.0 381.81 L258.5 380.97 L259.0 381.83 L259.5 381.50 L260.0 381.15 L260.5 382.07 L261.0 383.33 L261.5 382.62 L262.0 382.25 L262.5 381.96 L263.0 382.29 L263.5 381.92 L264.0 383.27 L264.5 381.43 L265.0 381.71 L265.5 381.84 L266.0 381.10 L266.5 381.04 L267.0 382.74 L267.5 381.08 L268.0 381.17 L268.5 382.49 L269.0 381.28 L269.5 381.71 L270.0 382.64 L270.5 381.45 L271.0 382.91 L271.5 382.10 L272.0 382.56 L272.5 382.99 L273.0 382.59 L273.5 382.87 L274.0 383.34 L274.5 382.41 L275.0 383.64 L275.5 383.76 L276.0 383.18 L276.5 382.70 L277.0 382.82 L277.5 382.51 L278.0 382.68 L278.5 382.07 L279.0 382.43 L279.5 382.33 L280.0 381.53 L280.5 382.62 L281.0 382.44 L281.5 380.72 L282.0 382.37 L282.5 381.26 L283.0 381.57 L283.5 382.64 L284.0 382.50 L284.5 382.64 L285.0 382.78 L285.5 383.73 L286.0 383.76 L286.5 383.55 L287.0 383.43 L287.5 383.53 L288.0 383.74 L288.5 382.82 L289.0 381.83 L289.5 382.50 L290.0 381.77 L290.5 381.78 L291.0 381.33 L291.5 379.85 L292.0 381.46 L292.5 380.51 L293.0 381.21 L293.5 381.38 L293.5 384.7 Z" fill="#3ba3d6"/><line x1="103" y1="385.0" x2="293.5" y2="385.0" stroke="#555" stroke-width="0.7"/><path d="M103 415.6 L103.0 415.26 L103.5 415.21 L104.0 415.24 L104.5 415.20 L105.0 415.20 L105.5 415.29 L106.0 415.30 L106.5 415.17 L107.0 415.26 L107.5 415.26 L108.0 415.14 L108.5 415.22 L109.0 415.17 L109.5 415.22 L110.0 415.20 L110.5 415.28 L111.0 415.20 L111.5 415.16 L112.0 415.22 L112.5 414.13 L113.0 414.17 L113.5 414.51 L114.0 414.13 L114.5 414.22 L115.0 414.38 L115.5 414.53 L116.0 414.07 L116.5 414.29 L117.0 414.15 L117.5 414.06 L118.0 414.15 L118.5 414.03 L119.0 414.33 L119.5 414.10 L120.0 414.30 L120.5 414.03 L121.0 414.06 L121.5 414.50 L122.0 414.47 L122.5 414.43 L123.0 414.01 L123.5 414.31 L124.0 414.20 L124.5 414.38 L125.0 414.27 L125.5 414.33 L126.0 414.35 L126.5 414.22 L127.0 414.22 L127.5 414.04 L128.0 414.17 L128.5 414.03 L129.0 414.07 L129.5 414.00 L130.0 414.17 L130.5 414.46 L131.0 414.07 L131.5 414.01 L132.0 414.04 L132.5 414.23 L133.0 414.15 L133.5 414.43 L134.0 414.08 L134.5 414.23 L135.0 414.39 L135.5 414.51 L136.0 414.07 L136.5 414.00 L137.0 414.50 L137.5 414.10 L138.0 414.32 L138.5 414.47 L139.0 414.39 L139.5 414.12 L140.0 414.06 L140.5 414.53 L141.0 414.21 L141.5 414.52 L142.0 414.15 L142.5 414.36 L143.0 414.06 L143.5 414.00 L144.0 414.27 L144.5 413.99 L145.0 414.38 L145.5 414.51 L146.0 414.21 L146.5 414.53 L147.0 414.44 L147.5 414.32 L148.0 414.21 L148.5 414.46 L149.0 414.53 L149.5 414.06 L150.0 414.37 L150.5 414.01 L151.0 414.05 L151.5 414.34 L152.0 414.29 L152.5 414.25 L153.0 414.17 L153.5 414.17 L154.0 414.15 L154.5 414.04 L155.0 413.70 L155.5 413.82 L156.0 413.65 L156.5 413.08 L157.0 413.22 L157.5 412.78 L158.0 411.43 L158.5 411.74 L159.0 411.45 L159.5 412.28 L160.0 411.62 L160.5 411.53 L161.0 412.71 L161.5 412.20 L162.0 412.61 L162.5 413.60 L163.0 413.37 L163.5 413.77 L164.0 413.81 L164.5 414.17 L165.0 414.03 L165.5 414.07 L166.0 414.51 L166.5 414.50 L167.0 414.16 L167.5 414.01 L168.0 414.41 L168.5 414.29 L169.0 414.22 L169.5 414.37 L170.0 414.35 L170.5 414.37 L171.0 414.34 L171.5 414.22 L172.0 414.38 L172.5 414.34 L173.0 414.12 L173.5 414.53 L174.0 414.23 L174.5 414.14 L175.0 414.38 L175.5 414.43 L176.0 414.10 L176.5 414.42 L177.0 414.45 L177.5 414.31 L178.0 414.16 L178.5 414.49 L179.0 414.37 L179.5 414.36 L180.0 414.08 L180.5 414.30 L181.0 414.07 L181.5 414.46 L182.0 414.36 L182.5 414.19 L183.0 414.05 L183.5 414.30 L184.0 414.42 L184.5 414.48 L185.0 414.25 L185.5 414.44 L186.0 414.10 L186.5 414.08 L187.0 414.45 L187.5 414.39 L188.0 414.10 L188.5 414.19 L189.0 414.09 L189.5 414.35 L190.0 414.46 L190.5 414.35 L191.0 414.04 L191.5 414.31 L192.0 414.21 L192.5 414.09 L193.0 413.98 L193.5 413.84 L194.0 413.21 L194.5 413.66 L195.0 413.58 L195.5 412.18 L196.0 411.85 L196.5 411.27 L197.0 411.75 L197.5 410.50 L198.0 410.21 L198.5 411.36 L199.0 410.11 L199.5 409.79 L200.0 410.09 L200.5 410.39 L201.0 410.92 L201.5 410.88 L202.0 411.24 L202.5 411.73 L203.0 410.98 L203.5 411.85 L204.0 411.39 L204.5 412.92 L205.0 412.21 L205.5 412.88 L206.0 413.03 L206.5 413.36 L207.0 413.60 L207.5 413.98 L208.0 414.43 L208.5 414.05 L209.0 414.42 L209.5 414.36 L210.0 414.17 L210.5 415.47 L211.0 415.47 L211.5 415.44 L212.0 415.46 L212.5 415.48 L213.0 415.48 L213.5 415.45 L214.0 415.47 L214.5 415.45 L215.0 415.48 L215.5 415.48 L216.0 415.47 L216.5 415.45 L217.0 415.49 L217.5 415.45 L218.0 414.03 L218.5 414.09 L219.0 414.07 L219.5 414.52 L220.0 414.14 L220.5 413.97 L221.0 414.41 L221.5 414.21 L222.0 414.13 L222.5 413.80 L223.0 413.67 L223.5 413.26 L224.0 412.23 L224.5 412.40 L225.0 411.22 L225.5 409.98 L226.0 409.41 L226.5 409.69 L227.0 407.83 L227.5 409.16 L228.0 411.52 L228.5 411.02 L229.0 411.54 L229.5 411.63 L230.0 411.61 L230.5 411.13 L231.0 411.28 L231.5 411.71 L232.0 412.05 L232.5 411.90 L233.0 412.37 L233.5 411.90 L234.0 411.94 L234.5 412.69 L235.0 413.30 L235.5 413.34 L236.0 413.15 L236.5 412.66 L237.0 411.87 L237.5 411.69 L238.0 409.90 L238.5 409.32 L239.0 409.08 L239.5 408.73 L240.0 407.86 L240.5 406.48 L241.0 406.52 L241.5 403.98 L242.0 403.50 L242.5 403.24 L243.0 400.24 L243.5 398.19 L244.0 401.77 L244.5 398.19 L245.0 396.36 L245.5 389.71 L246.0 386.98 L246.5 392.67 L247.0 389.24 L247.5 392.50 L248.0 398.23 L248.5 397.03 L249.0 399.78 L249.5 394.33 L250.0 395.66 L250.5 394.22 L251.0 395.38 L251.5 396.71 L252.0 396.36 L252.5 397.32 L253.0 400.18 L253.5 395.56 L254.0 400.05 L254.5 399.42 L255.0 396.00 L255.5 402.87 L256.0 403.89 L256.5 404.82 L257.0 401.51 L257.5 405.70 L258.0 407.06 L258.5 404.39 L259.0 408.20 L259.5 406.67 L260.0 408.22 L260.5 408.62 L261.0 409.05 L261.5 410.45 L262.0 410.58 L262.5 412.47 L263.0 411.96 L263.5 412.91 L264.0 413.22 L264.5 414.08 L265.0 413.83 L265.5 413.79 L266.0 414.32 L266.5 413.98 L267.0 413.51 L267.5 412.85 L268.0 413.09 L268.5 412.90 L269.0 412.71 L269.5 412.33 L270.0 412.49 L270.5 413.30 L271.0 413.68 L271.5 413.95 L272.0 414.17 L272.5 414.23 L273.0 414.47 L273.5 414.26 L274.0 414.00 L274.5 414.32 L275.0 414.13 L275.5 414.45 L276.0 414.13 L276.5 414.05 L277.0 413.97 L277.5 413.82 L278.0 413.36 L278.5 412.37 L279.0 410.71 L279.5 410.87 L280.0 409.89 L280.5 406.93 L281.0 405.97 L281.5 407.69 L282.0 408.76 L282.5 409.11 L283.0 411.32 L283.5 411.90 L284.0 412.57 L284.5 412.50 L285.0 413.19 L285.5 413.56 L286.0 413.40 L286.5 413.43 L287.0 414.09 L287.5 413.94 L288.0 414.20 L288.5 414.00 L289.0 414.19 L289.5 414.38 L290.0 414.42 L290.5 414.53 L291.0 414.28 L291.5 414.34 L292.0 414.45 L292.5 414.35 L293.0 414.37 L293.5 414.12 L293.5 415.6 Z" fill="#c5163a"/><line x1="103" y1="415.90000000000003" x2="293.5" y2="415.90000000000003" stroke="#555" stroke-width="0.7"/><path d="M103 446.3 L103.0 444.54 L103.5 444.47 L104.0 443.82 L104.5 444.38 L105.0 444.79 L105.5 444.74 L106.0 444.73 L106.5 445.27 L107.0 445.58 L107.5 445.92 L108.0 445.88 L108.5 445.98 L109.0 446.01 L109.5 446.03 L110.0 446.00 L110.5 445.82 L111.0 445.85 L111.5 445.85 L112.0 445.86 L112.5 446.01 L113.0 445.98 L113.5 445.90 L114.0 445.87 L114.5 445.84 L115.0 445.83 L115.5 446.04 L116.0 445.90 L116.5 445.89 L117.0 445.93 L117.5 446.01 L118.0 445.94 L118.5 446.04 L119.0 445.82 L119.5 445.84 L120.0 445.92 L120.5 445.98 L121.0 445.83 L121.5 445.91 L122.0 445.83 L122.5 445.84 L123.0 445.93 L123.5 445.95 L124.0 445.89 L124.5 445.93 L125.0 445.98 L125.5 445.90 L126.0 445.64 L126.5 445.85 L127.0 445.73 L127.5 445.13 L128.0 445.13 L128.5 444.51 L129.0 444.21 L129.5 444.06 L130.0 442.48 L130.5 443.89 L131.0 443.36 L131.5 443.88 L132.0 443.20 L132.5 444.17 L133.0 444.35 L133.5 444.18 L134.0 444.96 L134.5 444.88 L135.0 444.58 L135.5 445.26 L136.0 445.18 L136.5 444.87 L137.0 444.17 L137.5 444.47 L138.0 445.11 L138.5 445.28 L139.0 445.62 L139.5 445.66 L140.0 445.95 L140.5 445.81 L141.0 445.80 L141.5 445.80 L142.0 445.87 L142.5 445.81 L143.0 446.06 L143.5 445.99 L144.0 445.81 L144.5 445.86 L145.0 445.95 L145.5 445.82 L146.0 445.90 L146.5 445.85 L147.0 445.98 L147.5 446.01 L148.0 445.95 L148.5 446.03 L149.0 445.96 L149.5 445.81 L150.0 445.97 L150.5 446.06 L151.0 446.05 L151.5 446.01 L152.0 445.85 L152.5 445.96 L153.0 445.98 L153.5 446.02 L154.0 445.77 L154.5 445.91 L155.0 445.95 L155.5 445.97 L156.0 445.92 L156.5 445.78 L157.0 445.32 L157.5 445.41 L158.0 445.19 L158.5 444.12 L159.0 443.97 L159.5 441.72 L160.0 443.46 L160.5 442.09 L161.0 441.23 L161.5 442.25 L162.0 440.37 L162.5 441.77 L163.0 442.31 L163.5 441.46 L164.0 442.60 L164.5 440.92 L165.0 441.47 L165.5 438.78 L166.0 439.06 L166.5 440.55 L167.0 442.56 L167.5 441.93 L168.0 442.23 L168.5 442.61 L169.0 442.78 L169.5 441.20 L170.0 443.42 L170.5 443.77 L171.0 441.65 L171.5 442.60 L172.0 441.56 L172.5 443.00 L173.0 441.77 L173.5 442.41 L174.0 442.17 L174.5 442.44 L175.0 443.20 L175.5 444.24 L176.0 444.24 L176.5 443.43 L177.0 443.78 L177.5 444.13 L178.0 445.04 L178.5 444.95 L179.0 444.98 L179.5 445.12 L180.0 444.88 L180.5 444.92 L181.0 444.56 L181.5 444.33 L182.0 444.79 L182.5 444.11 L183.0 444.38 L183.5 445.48 L184.0 445.13 L184.5 445.43 L185.0 445.72 L185.5 446.00 L186.0 445.80 L186.5 446.24 L187.0 446.20 L187.5 446.22 L188.0 446.25 L188.5 446.23 L189.0 446.19 L189.5 446.16 L190.0 445.27 L190.5 444.80 L191.0 445.14 L191.5 445.21 L192.0 444.04 L192.5 445.20 L193.0 444.48 L193.5 445.45 L194.0 445.24 L194.5 445.51 L195.0 445.65 L195.5 445.85 L196.0 445.80 L196.5 446.00 L197.0 445.89 L197.5 445.97 L198.0 445.83 L198.5 445.86 L199.0 445.94 L199.5 445.93 L200.0 446.05 L200.5 446.05 L201.0 445.91 L201.5 445.93 L202.0 445.84 L202.5 445.90 L203.0 446.02 L203.5 445.97 L204.0 445.86 L204.5 445.93 L205.0 446.06 L205.5 445.85 L206.0 445.85 L206.5 446.04 L207.0 445.91 L207.5 445.94 L208.0 445.78 L208.5 445.85 L209.0 445.76 L209.5 445.43 L210.0 444.77 L210.5 445.26 L211.0 445.08 L211.5 444.40 L212.0 444.19 L212.5 444.84 L213.0 445.20 L213.5 445.21 L214.0 445.52 L214.5 445.94 L215.0 445.75 L215.5 445.99 L216.0 445.98 L216.5 446.21 L217.0 446.23 L217.5 446.21 L218.0 446.24 L218.5 446.21 L219.0 446.24 L219.5 446.24 L220.0 446.23 L220.5 446.23 L221.0 446.22 L221.5 446.21 L222.0 446.22 L222.5 446.25 L223.0 446.24 L223.5 446.22 L224.0 446.23 L224.5 446.22 L225.0 446.23 L225.5 446.25 L226.0 446.24 L226.5 446.21 L227.0 446.23 L227.5 446.21 L228.0 445.81 L228.5 445.90 L229.0 445.89 L229.5 445.90 L230.0 445.98 L230.5 445.83 L231.0 445.94 L231.5 445.83 L232.0 445.98 L232.5 445.84 L233.0 445.85 L233.5 445.90 L234.0 445.94 L234.5 446.01 L235.0 445.84 L235.5 445.94 L236.0 445.83 L236.5 445.97 L237.0 445.96 L237.5 445.91 L238.0 445.59 L238.5 445.79 L239.0 445.33 L239.5 445.50 L240.0 445.22 L240.5 445.23 L241.0 444.80 L241.5 445.15 L242.0 444.60 L242.5 443.61 L243.0 444.51 L243.5 443.50 L244.0 443.89 L244.5 443.78 L245.0 444.24 L245.5 444.17 L246.0 442.00 L246.5 442.21 L247.0 442.24 L247.5 442.20 L248.0 441.83 L248.5 443.69 L249.0 442.62 L249.5 442.75 L250.0 442.45 L250.5 441.37 L251.0 441.69 L251.5 440.98 L252.0 443.30 L252.5 441.74 L253.0 441.68 L253.5 441.53 L254.0 441.98 L254.5 441.49 L255.0 443.00 L255.5 441.41 L256.0 442.82 L256.5 442.36 L257.0 441.66 L257.5 442.27 L258.0 443.39 L258.5 443.78 L259.0 443.87 L259.5 443.70 L260.0 443.62 L260.5 444.24 L261.0 445.11 L261.5 445.38 L262.0 445.35 L262.5 445.77 L263.0 445.81 L263.5 446.24 L264.0 446.24 L264.5 446.22 L265.0 446.21 L265.5 446.22 L266.0 446.23 L266.5 446.20 L267.0 446.22 L267.5 446.24 L268.0 446.25 L268.5 446.20 L269.0 446.19 L269.5 446.18 L270.0 445.65 L270.5 445.56 L271.0 445.43 L271.5 444.90 L272.0 444.56 L272.5 443.02 L273.0 442.90 L273.5 443.28 L274.0 444.67 L274.5 444.93 L275.0 445.26 L275.5 445.18 L276.0 445.83 L276.5 445.73 L277.0 445.83 L277.5 445.89 L278.0 445.77 L278.5 445.94 L279.0 445.81 L279.5 445.87 L280.0 445.79 L280.5 445.68 L281.0 445.26 L281.5 445.16 L282.0 444.93 L282.5 443.03 L283.0 443.85 L283.5 442.17 L284.0 442.31 L284.5 442.13 L285.0 442.42 L285.5 442.03 L286.0 442.66 L286.5 443.48 L287.0 444.19 L287.5 444.39 L288.0 444.58 L288.5 444.75 L289.0 444.57 L289.5 444.67 L290.0 443.04 L290.5 443.31 L291.0 444.09 L291.5 444.01 L292.0 443.12 L292.5 444.69 L293.0 445.02 L293.5 445.23 L293.5 446.3 Z" fill="#1f5b8e"/><line x1="103" y1="446.6" x2="293.5" y2="446.6" stroke="#555" stroke-width="0.7"/><path d="M313 354.0 L313.0 354.00 L313.5 354.00 L314.0 354.00 L314.5 354.00 L315.0 354.00 L315.5 354.00 L316.0 354.00 L316.5 354.00 L317.0 354.00 L317.5 354.00 L318.0 354.00 L318.5 354.00 L319.0 354.00 L319.5 354.00 L320.0 354.00 L320.5 354.00 L321.0 354.00 L321.5 354.00 L322.0 354.00 L322.5 354.00 L323.0 354.00 L323.5 354.00 L324.0 354.00 L324.5 354.00 L325.0 354.00 L325.5 354.00 L326.0 354.00 L326.5 354.00 L327.0 354.00 L327.5 354.00 L328.0 354.00 L328.5 354.00 L329.0 354.00 L329.5 354.00 L330.0 354.00 L330.5 354.00 L331.0 354.00 L331.5 354.00 L332.0 353.99 L332.5 353.99 L333.0 353.98 L333.5 353.96 L334.0 353.94 L334.5 353.91 L335.0 353.87 L335.5 353.82 L336.0 353.75 L336.5 353.66 L337.0 353.54 L337.5 353.37 L338.0 353.08 L338.5 352.55 L339.0 351.66 L339.5 350.37 L340.0 348.98 L340.5 347.99 L341.0 347.88 L341.5 348.69 L342.0 350.02 L342.5 351.34 L343.0 352.31 L343.5 352.90 L344.0 353.22 L344.5 353.42 L345.0 353.55 L345.5 353.66 L346.0 353.75 L346.5 353.82 L347.0 353.87 L347.5 353.91 L348.0 353.94 L348.5 353.96 L349.0 353.98 L349.5 353.98 L350.0 353.97 L350.5 353.93 L351.0 353.83 L351.5 353.63 L352.0 353.36 L352.5 353.10 L353.0 353.00 L353.5 353.11 L354.0 353.36 L354.5 353.63 L355.0 353.83 L355.5 353.94 L356.0 353.98 L356.5 354.00 L357.0 354.00 L357.5 354.00 L358.0 354.00 L358.5 354.00 L359.0 354.00 L359.5 354.00 L360.0 354.00 L360.5 354.00 L361.0 354.00 L361.5 354.00 L362.0 354.00 L362.5 354.00 L363.0 354.00 L363.5 354.00 L364.0 354.00 L364.5 354.00 L365.0 354.00 L365.5 354.00 L366.0 354.00 L366.5 354.00 L367.0 354.00 L367.5 354.00 L368.0 354.00 L368.5 354.00 L369.0 354.00 L369.5 354.00 L370.0 354.00 L370.5 354.00 L371.0 354.00 L371.5 354.00 L372.0 354.00 L372.5 354.00 L373.0 354.00 L373.5 354.00 L374.0 354.00 L374.5 354.00 L375.0 354.00 L375.5 354.00 L376.0 354.00 L376.5 354.00 L377.0 354.00 L377.5 354.00 L378.0 354.00 L378.5 354.00 L379.0 354.00 L379.5 354.00 L380.0 354.00 L380.5 354.00 L381.0 354.00 L381.5 354.00 L382.0 354.00 L382.5 354.00 L383.0 354.00 L383.5 354.00 L384.0 354.00 L384.5 354.00 L385.0 354.00 L385.5 354.00 L386.0 354.00 L386.5 354.00 L387.0 354.00 L387.5 354.00 L388.0 354.00 L388.5 354.00 L389.0 354.00 L389.5 354.00 L390.0 354.00 L390.5 354.00 L391.0 354.00 L391.5 354.00 L392.0 354.00 L392.5 354.00 L393.0 354.00 L393.5 354.00 L394.0 354.00 L394.5 354.00 L395.0 354.00 L395.5 354.00 L396.0 354.00 L396.5 354.00 L397.0 354.00 L397.5 354.00 L398.0 354.00 L398.5 354.00 L399.0 354.00 L399.5 354.00 L400.0 354.00 L400.5 354.00 L401.0 354.00 L401.5 354.00 L402.0 354.00 L402.5 354.00 L403.0 354.00 L403.5 354.00 L404.0 354.00 L404.5 354.00 L405.0 354.00 L405.5 354.00 L406.0 354.00 L406.5 354.00 L407.0 354.00 L407.5 354.00 L408.0 354.00 L408.5 354.00 L409.0 354.00 L409.5 354.00 L410.0 354.00 L410.5 354.00 L411.0 354.00 L411.5 354.00 L412.0 354.00 L412.5 354.00 L413.0 354.00 L413.5 354.00 L414.0 354.00 L414.5 354.00 L415.0 354.00 L415.5 354.00 L416.0 354.00 L416.5 354.00 L417.0 354.00 L417.5 354.00 L418.0 354.00 L418.5 354.00 L419.0 354.00 L419.5 354.00 L420.0 354.00 L420.5 354.00 L421.0 354.00 L421.5 354.00 L422.0 354.00 L422.5 354.00 L423.0 354.00 L423.5 354.00 L424.0 354.00 L424.5 354.00 L425.0 354.00 L425.5 354.00 L426.0 354.00 L426.5 354.00 L427.0 354.00 L427.5 354.00 L428.0 354.00 L428.5 354.00 L429.0 354.00 L429.5 354.00 L430.0 354.00 L430.5 354.00 L431.0 354.00 L431.5 354.00 L432.0 354.00 L432.5 354.00 L433.0 354.00 L433.5 354.00 L434.0 354.00 L434.5 354.00 L435.0 354.00 L435.5 354.00 L436.0 354.00 L436.5 354.00 L437.0 354.00 L437.5 354.00 L438.0 354.00 L438.5 354.00 L439.0 354.00 L439.5 354.00 L440.0 354.00 L440.5 354.00 L441.0 354.00 L441.5 354.00 L442.0 354.00 L442.5 354.00 L443.0 354.00 L443.5 354.00 L444.0 354.00 L444.5 354.00 L445.0 354.00 L445.5 354.00 L446.0 354.00 L446.5 354.00 L447.0 354.00 L447.5 354.00 L448.0 354.00 L448.5 354.00 L449.0 354.00 L449.5 354.00 L450.0 354.00 L450.5 354.00 L451.0 354.00 L451.5 354.00 L452.0 354.00 L452.5 354.00 L453.0 354.00 L453.5 354.00 L454.0 354.00 L454.5 354.00 L455.0 354.00 L455.5 354.00 L456.0 354.00 L456.5 354.00 L457.0 354.00 L457.5 354.00 L458.0 354.00 L458.5 354.00 L459.0 354.00 L459.5 354.00 L460.0 354.00 L460.5 354.00 L461.0 354.00 L461.5 354.00 L462.0 354.00 L462.5 354.00 L463.0 354.00 L463.5 354.00 L464.0 354.00 L464.5 354.00 L465.0 354.00 L465.5 354.00 L466.0 354.00 L466.5 354.00 L467.0 354.00 L467.5 354.00 L468.0 354.00 L468.5 354.00 L469.0 354.00 L469.5 354.00 L470.0 354.00 L470.5 354.00 L471.0 354.00 L471.5 354.00 L472.0 354.00 L472.5 354.00 L473.0 354.00 L473.5 354.00 L474.0 354.00 L474.5 354.00 L475.0 354.00 L475.5 354.00 L476.0 354.00 L476.5 354.00 L477.0 354.00 L477.5 354.00 L478.0 354.00 L478.5 354.00 L479.0 354.00 L479.5 354.00 L480.0 354.00 L480.5 354.00 L481.0 354.00 L481.5 354.00 L482.0 354.00 L482.5 354.00 L483.0 354.00 L483.5 354.00 L484.0 354.00 L484.5 354.00 L485.0 354.00 L485.5 354.00 L486.0 354.00 L486.5 354.00 L487.0 354.00 L487.5 354.00 L488.0 354.00 L488.5 354.00 L489.0 354.00 L489.5 354.00 L490.0 354.00 L490.5 354.00 L491.0 354.00 L491.5 354.00 L492.0 354.00 L492.5 354.00 L493.0 354.00 L493.5 354.00 L494.0 354.00 L494.5 354.00 L495.0 354.00 L495.5 354.00 L496.0 354.00 L496.5 354.00 L497.0 354.00 L497.5 354.00 L498.0 354.00 L498.5 354.00 L499.0 354.00 L499.5 354.00 L500.0 354.00 L500.5 354.00 L501.0 354.00 L501.5 354.00 L502.0 354.00 L502.5 354.00 L503.0 354.00 L503.5 354.00 L504.0 354.00 L504 354.0 Z" fill="#a9a9a9"/><line x1="313" y1="354.3" x2="504" y2="354.3" stroke="#555" stroke-width="0.7"/><path d="M313 384.7 L313.0 384.40 L313.5 384.40 L314.0 384.40 L314.5 384.40 L315.0 384.40 L315.5 384.40 L316.0 384.40 L316.5 384.40 L317.0 384.40 L317.5 384.40 L318.0 384.40 L318.5 384.40 L319.0 384.40 L319.5 384.40 L320.0 384.40 L320.5 384.40 L321.0 384.40 L321.5 384.40 L322.0 384.40 L322.5 384.40 L323.0 384.40 L323.5 384.40 L324.0 384.40 L324.5 384.40 L325.0 384.40 L325.5 384.40 L326.0 384.40 L326.5 384.40 L327.0 384.40 L327.5 384.40 L328.0 384.40 L328.5 384.40 L329.0 384.40 L329.5 384.40 L330.0 384.40 L330.5 384.40 L331.0 384.40 L331.5 384.40 L332.0 384.39 L332.5 384.39 L333.0 384.38 L333.5 384.37 L334.0 384.35 L334.5 384.33 L335.0 384.29 L335.5 384.25 L336.0 384.19 L336.5 384.10 L337.0 383.97 L337.5 383.76 L338.0 383.39 L338.5 382.75 L339.0 381.78 L339.5 380.56 L340.0 379.36 L340.5 378.55 L341.0 378.46 L341.5 379.12 L342.0 380.25 L342.5 381.48 L343.0 382.50 L343.5 383.20 L344.0 383.62 L344.5 383.86 L345.0 384.01 L345.5 384.11 L346.0 384.19 L346.5 384.25 L347.0 384.29 L347.5 384.33 L348.0 384.35 L348.5 384.36 L349.0 384.35 L349.5 384.30 L350.0 384.18 L350.5 383.98 L351.0 383.66 L351.5 383.26 L352.0 382.84 L352.5 382.52 L353.0 382.40 L353.5 382.52 L354.0 382.84 L354.5 383.26 L355.0 383.66 L355.5 383.98 L356.0 384.19 L356.5 384.31 L357.0 384.36 L357.5 384.39 L358.0 384.40 L358.5 384.40 L359.0 384.40 L359.5 384.40 L360.0 384.40 L360.5 384.40 L361.0 384.40 L361.5 384.40 L362.0 384.40 L362.5 384.40 L363.0 384.40 L363.5 384.40 L364.0 384.40 L364.5 384.40 L365.0 384.40 L365.5 384.40 L366.0 384.40 L366.5 384.40 L367.0 384.40 L367.5 384.40 L368.0 384.40 L368.5 384.40 L369.0 384.40 L369.5 384.40 L370.0 384.40 L370.5 384.40 L371.0 384.40 L371.5 384.40 L372.0 384.40 L372.5 384.40 L373.0 384.40 L373.5 384.40 L374.0 384.40 L374.5 384.40 L375.0 384.40 L375.5 384.40 L376.0 384.40 L376.5 384.40 L377.0 384.40 L377.5 384.40 L378.0 384.40 L378.5 384.40 L379.0 384.40 L379.5 384.40 L380.0 384.40 L380.5 384.40 L381.0 384.40 L381.5 384.40 L382.0 384.40 L382.5 384.40 L383.0 384.40 L383.5 384.40 L384.0 384.40 L384.5 384.40 L385.0 384.40 L385.5 384.40 L386.0 384.40 L386.5 384.40 L387.0 384.40 L387.5 384.40 L388.0 384.40 L388.5 384.40 L389.0 384.40 L389.5 384.40 L390.0 384.40 L390.5 384.40 L391.0 384.40 L391.5 384.40 L392.0 384.40 L392.5 384.40 L393.0 384.40 L393.5 384.40 L394.0 384.40 L394.5 384.40 L395.0 384.40 L395.5 384.40 L396.0 384.40 L396.5 384.40 L397.0 384.40 L397.5 384.40 L398.0 384.40 L398.5 384.40 L399.0 384.40 L399.5 384.40 L400.0 384.40 L400.5 384.40 L401.0 384.40 L401.5 384.40 L402.0 384.40 L402.5 384.40 L403.0 384.40 L403.5 384.40 L404.0 384.40 L404.5 384.40 L405.0 384.40 L405.5 384.40 L406.0 384.40 L406.5 384.40 L407.0 384.40 L407.5 384.40 L408.0 384.40 L408.5 384.40 L409.0 384.40 L409.5 384.40 L410.0 384.40 L410.5 384.40 L411.0 384.40 L411.5 384.40 L412.0 384.40 L412.5 384.40 L413.0 384.40 L413.5 384.40 L414.0 384.40 L414.5 384.40 L415.0 384.40 L415.5 384.40 L416.0 384.40 L416.5 384.40 L417.0 384.40 L417.5 384.40 L418.0 384.40 L418.5 384.40 L419.0 384.40 L419.5 384.40 L420.0 384.40 L420.5 384.40 L421.0 384.40 L421.5 384.40 L422.0 384.40 L422.5 384.40 L423.0 384.40 L423.5 384.40 L424.0 384.40 L424.5 384.40 L425.0 384.40 L425.5 384.40 L426.0 384.40 L426.5 384.40 L427.0 384.40 L427.5 384.40 L428.0 384.40 L428.5 384.40 L429.0 384.40 L429.5 384.40 L430.0 384.40 L430.5 384.40 L431.0 384.40 L431.5 384.40 L432.0 384.40 L432.5 384.40 L433.0 384.40 L433.5 384.40 L434.0 384.40 L434.5 384.40 L435.0 384.40 L435.5 384.40 L436.0 384.40 L436.5 384.40 L437.0 384.40 L437.5 384.40 L438.0 384.40 L438.5 384.40 L439.0 384.40 L439.5 384.40 L440.0 384.40 L440.5 384.40 L441.0 384.40 L441.5 384.40 L442.0 384.40 L442.5 384.40 L443.0 384.40 L443.5 384.40 L444.0 384.40 L444.5 384.40 L445.0 384.40 L445.5 384.40 L446.0 384.40 L446.5 384.40 L447.0 384.40 L447.5 384.40 L448.0 384.40 L448.5 384.40 L449.0 384.40 L449.5 384.40 L450.0 384.40 L450.5 384.40 L451.0 384.40 L451.5 384.40 L452.0 384.40 L452.5 384.40 L453.0 384.40 L453.5 384.40 L454.0 384.40 L454.5 384.40 L455.0 384.40 L455.5 384.40 L456.0 384.40 L456.5 384.40 L457.0 384.40 L457.5 384.40 L458.0 384.40 L458.5 384.40 L459.0 384.40 L459.5 384.40 L460.0 384.40 L460.5 384.40 L461.0 384.40 L461.5 384.40 L462.0 384.40 L462.5 384.40 L463.0 384.40 L463.5 384.40 L464.0 384.40 L464.5 384.40 L465.0 384.40 L465.5 384.40 L466.0 384.40 L466.5 384.40 L467.0 384.40 L467.5 384.40 L468.0 384.40 L468.5 384.40 L469.0 384.40 L469.5 384.40 L470.0 384.40 L470.5 384.40 L471.0 384.40 L471.5 384.40 L472.0 384.40 L472.5 384.40 L473.0 384.40 L473.5 384.40 L474.0 384.40 L474.5 384.40 L475.0 384.40 L475.5 384.40 L476.0 384.40 L476.5 384.40 L477.0 384.40 L477.5 384.40 L478.0 384.40 L478.5 384.40 L479.0 384.40 L479.5 384.40 L480.0 384.40 L480.5 384.40 L481.0 384.40 L481.5 384.40 L482.0 384.40 L482.5 384.40 L483.0 384.40 L483.5 384.40 L484.0 384.40 L484.5 384.40 L485.0 384.40 L485.5 384.40 L486.0 384.40 L486.5 384.40 L487.0 384.40 L487.5 384.40 L488.0 384.40 L488.5 384.40 L489.0 384.40 L489.5 384.40 L490.0 384.40 L490.5 384.40 L491.0 384.40 L491.5 384.40 L492.0 384.40 L492.5 384.40 L493.0 384.40 L493.5 384.40 L494.0 384.40 L494.5 384.40 L495.0 384.40 L495.5 384.40 L496.0 384.40 L496.5 384.40 L497.0 384.40 L497.5 384.40 L498.0 384.40 L498.5 384.40 L499.0 384.40 L499.5 384.37 L500.0 384.24 L500.5 383.88 L501.0 383.15 L501.5 382.30 L502.0 381.90 L502.5 382.30 L503.0 383.15 L503.5 383.88 L504.0 384.24 L504 384.7 Z" fill="#3ba3d6"/><line x1="313" y1="385.0" x2="504" y2="385.0" stroke="#555" stroke-width="0.7"/><path d="M313 415.6 L313.0 415.57 L313.5 415.56 L314.0 415.53 L314.5 415.49 L315.0 415.44 L315.5 415.36 L316.0 415.25 L316.5 415.07 L317.0 414.79 L317.5 414.35 L318.0 413.66 L318.5 412.66 L319.0 411.37 L319.5 409.90 L320.0 408.50 L320.5 407.48 L321.0 407.10 L321.5 407.48 L322.0 408.50 L322.5 409.90 L323.0 411.37 L323.5 412.66 L324.0 413.65 L324.5 414.34 L325.0 414.79 L325.5 415.07 L326.0 415.24 L326.5 415.35 L327.0 415.43 L327.5 415.47 L328.0 415.50 L328.5 415.51 L329.0 415.50 L329.5 415.47 L330.0 415.43 L330.5 415.35 L331.0 415.24 L331.5 415.09 L332.0 414.88 L332.5 414.61 L333.0 414.27 L333.5 413.85 L334.0 413.35 L334.5 412.76 L335.0 412.09 L335.5 411.33 L336.0 410.43 L336.5 409.30 L337.0 407.73 L337.5 405.42 L338.0 402.10 L338.5 397.75 L339.0 392.84 L339.5 388.40 L340.0 385.69 L340.5 385.63 L341.0 388.29 L341.5 392.87 L342.0 398.07 L342.5 402.78 L343.0 406.40 L343.5 408.87 L344.0 410.45 L344.5 411.46 L345.0 412.16 L345.5 412.69 L346.0 413.14 L346.5 413.52 L347.0 413.85 L347.5 414.13 L348.0 414.38 L348.5 414.58 L349.0 414.73 L349.5 414.79 L350.0 414.74 L350.5 414.52 L351.0 414.10 L351.5 413.52 L352.0 412.87 L352.5 412.33 L353.0 412.05 L353.5 412.11 L354.0 412.44 L354.5 412.92 L355.0 413.39 L355.5 413.78 L356.0 414.07 L356.5 414.28 L357.0 414.45 L357.5 414.61 L358.0 414.77 L358.5 414.91 L359.0 415.02 L359.5 415.09 L360.0 415.10 L360.5 415.07 L361.0 415.01 L361.5 414.94 L362.0 414.86 L362.5 414.81 L363.0 414.79 L363.5 414.82 L364.0 414.88 L364.5 414.98 L365.0 415.09 L365.5 415.20 L366.0 415.31 L366.5 415.39 L367.0 415.46 L367.5 415.52 L368.0 415.55 L368.5 415.57 L369.0 415.59 L369.5 415.59 L370.0 415.60 L370.5 415.60 L371.0 415.60 L371.5 415.60 L372.0 415.60 L372.5 415.60 L373.0 415.60 L373.5 415.60 L374.0 415.60 L374.5 415.60 L375.0 415.60 L375.5 415.60 L376.0 415.60 L376.5 415.60 L377.0 415.60 L377.5 415.60 L378.0 415.60 L378.5 415.60 L379.0 415.60 L379.5 415.60 L380.0 415.60 L380.5 415.60 L381.0 415.60 L381.5 415.60 L382.0 415.60 L382.5 415.60 L383.0 415.60 L383.5 415.60 L384.0 415.60 L384.5 415.60 L385.0 415.60 L385.5 415.60 L386.0 415.60 L386.5 415.60 L387.0 415.60 L387.5 415.60 L388.0 415.60 L388.5 415.60 L389.0 415.60 L389.5 415.60 L390.0 415.60 L390.5 415.60 L391.0 415.60 L391.5 415.60 L392.0 415.60 L392.5 415.60 L393.0 415.60 L393.5 415.60 L394.0 415.60 L394.5 415.60 L395.0 415.60 L395.5 415.60 L396.0 415.60 L396.5 415.60 L397.0 415.60 L397.5 415.60 L398.0 415.60 L398.5 415.60 L399.0 415.60 L399.5 415.60 L400.0 415.60 L400.5 415.60 L401.0 415.60 L401.5 415.60 L402.0 415.60 L402.5 415.60 L403.0 415.60 L403.5 415.60 L404.0 415.60 L404.5 415.60 L405.0 415.60 L405.5 415.60 L406.0 415.60 L406.5 415.60 L407.0 415.60 L407.5 415.60 L408.0 415.60 L408.5 415.60 L409.0 415.60 L409.5 415.60 L410.0 415.60 L410.5 415.60 L411.0 415.60 L411.5 415.60 L412.0 415.60 L412.5 415.60 L413.0 415.60 L413.5 415.60 L414.0 415.60 L414.5 415.60 L415.0 415.60 L415.5 415.60 L416.0 415.60 L416.5 415.60 L417.0 415.60 L417.5 415.60 L418.0 415.60 L418.5 415.60 L419.0 415.60 L419.5 415.60 L420.0 415.60 L420.5 415.60 L421.0 415.60 L421.5 415.60 L422.0 415.60 L422.5 415.60 L423.0 415.60 L423.5 415.60 L424.0 415.60 L424.5 415.60 L425.0 415.60 L425.5 415.60 L426.0 415.60 L426.5 415.60 L427.0 415.60 L427.5 415.60 L428.0 415.60 L428.5 415.60 L429.0 415.60 L429.5 415.60 L430.0 415.60 L430.5 415.60 L431.0 415.60 L431.5 415.60 L432.0 415.60 L432.5 415.60 L433.0 415.60 L433.5 415.59 L434.0 415.59 L434.5 415.58 L435.0 415.56 L435.5 415.54 L436.0 415.50 L436.5 415.45 L437.0 415.38 L437.5 415.30 L438.0 415.22 L438.5 415.13 L439.0 415.06 L439.5 415.02 L440.0 415.00 L440.5 415.02 L441.0 415.06 L441.5 415.13 L442.0 415.22 L442.5 415.30 L443.0 415.38 L443.5 415.45 L444.0 415.50 L444.5 415.54 L445.0 415.56 L445.5 415.58 L446.0 415.59 L446.5 415.59 L447.0 415.60 L447.5 415.60 L448.0 415.60 L448.5 415.60 L449.0 415.60 L449.5 415.60 L450.0 415.60 L450.5 415.60 L451.0 415.60 L451.5 415.60 L452.0 415.60 L452.5 415.60 L453.0 415.60 L453.5 415.60 L454.0 415.60 L454.5 415.60 L455.0 415.60 L455.5 415.60 L456.0 415.60 L456.5 415.60 L457.0 415.60 L457.5 415.60 L458.0 415.60 L458.5 415.60 L459.0 415.60 L459.5 415.60 L460.0 415.60 L460.5 415.60 L461.0 415.60 L461.5 415.60 L462.0 415.60 L462.5 415.60 L463.0 415.60 L463.5 415.60 L464.0 415.60 L464.5 415.60 L465.0 415.60 L465.5 415.59 L466.0 415.57 L466.5 415.50 L467.0 415.34 L467.5 415.02 L468.0 414.45 L468.5 413.58 L469.0 412.47 L469.5 411.32 L470.0 410.43 L470.5 410.10 L471.0 410.43 L471.5 411.32 L472.0 412.47 L472.5 413.58 L473.0 414.45 L473.5 415.02 L474.0 415.34 L474.5 415.50 L475.0 415.57 L475.5 415.59 L476.0 415.59 L476.5 415.57 L477.0 415.49 L477.5 415.22 L478.0 414.57 L478.5 413.35 L479.0 411.66 L479.5 410.04 L480.0 409.21 L480.5 409.53 L481.0 410.57 L481.5 411.55 L482.0 411.94 L482.5 411.72 L483.0 411.20 L483.5 410.72 L484.0 410.50 L484.5 410.64 L485.0 411.09 L485.5 411.73 L486.0 412.41 L486.5 413.01 L487.0 413.45 L487.5 413.73 L488.0 413.87 L488.5 413.95 L489.0 414.01 L489.5 414.10 L490.0 414.24 L490.5 414.42 L491.0 414.63 L491.5 414.82 L492.0 414.96 L492.5 414.98 L493.0 414.82 L493.5 414.39 L494.0 413.67 L494.5 412.70 L495.0 411.67 L495.5 410.87 L496.0 410.55 L496.5 410.78 L497.0 411.44 L497.5 412.23 L498.0 412.84 L498.5 413.13 L499.0 413.13 L499.5 413.02 L500.0 413.01 L500.5 413.22 L501.0 413.64 L501.5 414.17 L502.0 414.68 L502.5 415.08 L503.0 415.34 L503.5 415.48 L504.0 415.55 L504 415.6 Z" fill="#c5163a"/><line x1="313" y1="415.90000000000003" x2="504" y2="415.90000000000003" stroke="#555" stroke-width="0.7"/><path d="M313 446.3 L313.0 445.90 L313.5 445.90 L314.0 445.90 L314.5 445.90 L315.0 445.90 L315.5 445.90 L316.0 445.90 L316.5 445.90 L317.0 445.90 L317.5 445.90 L318.0 445.90 L318.5 445.90 L319.0 445.90 L319.5 445.90 L320.0 445.90 L320.5 445.90 L321.0 445.90 L321.5 445.90 L322.0 445.90 L322.5 445.90 L323.0 445.90 L323.5 445.90 L324.0 445.90 L324.5 445.90 L325.0 445.90 L325.5 445.90 L326.0 445.90 L326.5 445.90 L327.0 445.90 L327.5 445.90 L328.0 445.90 L328.5 445.90 L329.0 445.90 L329.5 445.90 L330.0 445.90 L330.5 445.90 L331.0 445.90 L331.5 445.90 L332.0 445.90 L332.5 445.90 L333.0 445.90 L333.5 445.90 L334.0 445.90 L334.5 445.90 L335.0 445.89 L335.5 445.88 L336.0 445.85 L336.5 445.79 L337.0 445.64 L337.5 445.28 L338.0 444.43 L338.5 442.74 L339.0 440.00 L339.5 436.53 L340.0 433.41 L340.5 431.95 L341.0 432.78 L341.5 435.35 L342.0 438.42 L342.5 440.95 L343.0 442.62 L343.5 443.60 L344.0 444.20 L344.5 444.63 L345.0 444.98 L345.5 445.26 L346.0 445.48 L346.5 445.64 L347.0 445.74 L347.5 445.81 L348.0 445.85 L348.5 445.87 L349.0 445.87 L349.5 445.84 L350.0 445.77 L350.5 445.65 L351.0 445.46 L351.5 445.22 L352.0 444.96 L352.5 444.77 L353.0 444.70 L353.5 444.77 L354.0 444.95 L354.5 445.19 L355.0 445.41 L355.5 445.56 L356.0 445.64 L356.5 445.64 L357.0 445.58 L357.5 445.49 L358.0 445.38 L358.5 445.28 L359.0 445.18 L359.5 445.12 L360.0 445.10 L360.5 445.12 L361.0 445.18 L361.5 445.28 L362.0 445.39 L362.5 445.50 L363.0 445.61 L363.5 445.69 L364.0 445.76 L364.5 445.82 L365.0 445.85 L365.5 445.87 L366.0 445.89 L366.5 445.89 L367.0 445.90 L367.5 445.90 L368.0 445.90 L368.5 445.90 L369.0 445.90 L369.5 445.90 L370.0 445.90 L370.5 445.90 L371.0 445.90 L371.5 445.90 L372.0 445.90 L372.5 445.90 L373.0 445.90 L373.5 445.90 L374.0 445.90 L374.5 445.90 L375.0 445.90 L375.5 445.90 L376.0 445.90 L376.5 445.90 L377.0 445.90 L377.5 445.90 L378.0 445.90 L378.5 445.90 L379.0 445.90 L379.5 445.90 L380.0 445.90 L380.5 445.90 L381.0 445.90 L381.5 445.90 L382.0 445.90 L382.5 445.90 L383.0 445.90 L383.5 445.90 L384.0 445.90 L384.5 445.90 L385.0 445.90 L385.5 445.90 L386.0 445.90 L386.5 445.90 L387.0 445.90 L387.5 445.90 L388.0 445.90 L388.5 445.90 L389.0 445.90 L389.5 445.90 L390.0 445.90 L390.5 445.90 L391.0 445.90 L391.5 445.90 L392.0 445.90 L392.5 445.90 L393.0 445.90 L393.5 445.90 L394.0 445.90 L394.5 445.90 L395.0 445.90 L395.5 445.90 L396.0 445.90 L396.5 445.90 L397.0 445.90 L397.5 445.90 L398.0 445.90 L398.5 445.90 L399.0 445.90 L399.5 445.90 L400.0 445.90 L400.5 445.90 L401.0 445.90 L401.5 445.90 L402.0 445.90 L402.5 445.90 L403.0 445.90 L403.5 445.90 L404.0 445.90 L404.5 445.90 L405.0 445.90 L405.5 445.90 L406.0 445.90 L406.5 445.90 L407.0 445.90 L407.5 445.90 L408.0 445.90 L408.5 445.90 L409.0 445.90 L409.5 445.90 L410.0 445.90 L410.5 445.90 L411.0 445.90 L411.5 445.90 L412.0 445.90 L412.5 445.90 L413.0 445.90 L413.5 445.90 L414.0 445.90 L414.5 445.90 L415.0 445.90 L415.5 445.90 L416.0 445.90 L416.5 445.90 L417.0 445.90 L417.5 445.90 L418.0 445.90 L418.5 445.90 L419.0 445.90 L419.5 445.90 L420.0 445.90 L420.5 445.90 L421.0 445.90 L421.5 445.90 L422.0 445.90 L422.5 445.90 L423.0 445.90 L423.5 445.90 L424.0 445.90 L424.5 445.90 L425.0 445.90 L425.5 445.90 L426.0 445.90 L426.5 445.90 L427.0 445.90 L427.5 445.90 L428.0 445.90 L428.5 445.90 L429.0 445.90 L429.5 445.90 L430.0 445.90 L430.5 445.90 L431.0 445.90 L431.5 445.90 L432.0 445.90 L432.5 445.90 L433.0 445.90 L433.5 445.90 L434.0 445.90 L434.5 445.90 L435.0 445.90 L435.5 445.90 L436.0 445.90 L436.5 445.90 L437.0 445.90 L437.5 445.90 L438.0 445.90 L438.5 445.90 L439.0 445.90 L439.5 445.90 L440.0 445.90 L440.5 445.90 L441.0 445.90 L441.5 445.90 L442.0 445.90 L442.5 445.90 L443.0 445.90 L443.5 445.90 L444.0 445.90 L444.5 445.90 L445.0 445.90 L445.5 445.90 L446.0 445.90 L446.5 445.90 L447.0 445.90 L447.5 445.90 L448.0 445.90 L448.5 445.90 L449.0 445.90 L449.5 445.90 L450.0 445.90 L450.5 445.90 L451.0 445.90 L451.5 445.90 L452.0 445.90 L452.5 445.90 L453.0 445.90 L453.5 445.90 L454.0 445.90 L454.5 445.90 L455.0 445.90 L455.5 445.90 L456.0 445.90 L456.5 445.90 L457.0 445.90 L457.5 445.90 L458.0 445.90 L458.5 445.90 L459.0 445.90 L459.5 445.90 L460.0 445.90 L460.5 445.90 L461.0 445.90 L461.5 445.90 L462.0 445.90 L462.5 445.90 L463.0 445.90 L463.5 445.90 L464.0 445.90 L464.5 445.90 L465.0 445.90 L465.5 445.90 L466.0 445.90 L466.5 445.90 L467.0 445.90 L467.5 445.90 L468.0 445.88 L468.5 445.77 L469.0 445.46 L469.5 444.97 L470.0 444.70 L470.5 444.97 L471.0 445.46 L471.5 445.77 L472.0 445.88 L472.5 445.90 L473.0 445.90 L473.5 445.90 L474.0 445.90 L474.5 445.90 L475.0 445.90 L475.5 445.90 L476.0 445.90 L476.5 445.90 L477.0 445.90 L477.5 445.90 L478.0 445.90 L478.5 445.90 L479.0 445.90 L479.5 445.90 L480.0 445.90 L480.5 445.90 L481.0 445.90 L481.5 445.90 L482.0 445.90 L482.5 445.90 L483.0 445.90 L483.5 445.90 L484.0 445.90 L484.5 445.90 L485.0 445.90 L485.5 445.90 L486.0 445.90 L486.5 445.90 L487.0 445.90 L487.5 445.90 L488.0 445.90 L488.5 445.90 L489.0 445.90 L489.5 445.90 L490.0 445.90 L490.5 445.90 L491.0 445.90 L491.5 445.90 L492.0 445.90 L492.5 445.90 L493.0 445.90 L493.5 445.90 L494.0 445.90 L494.5 445.90 L495.0 445.89 L495.5 445.85 L496.0 445.68 L496.5 445.17 L497.0 444.15 L497.5 442.96 L498.0 442.40 L498.5 442.95 L499.0 444.12 L499.5 444.96 L500.0 444.95 L500.5 444.30 L501.0 443.89 L501.5 444.34 L502.0 445.16 L502.5 445.69 L503.0 445.86 L503.5 445.90 L504.0 445.90 L504 446.3 Z" fill="#1f5b8e"/><line x1="313" y1="446.6" x2="504" y2="446.6" stroke="#555" stroke-width="0.7"/><text x="103.00" y="362.60" font-size="8.2" text-anchor="start" fill="#1a1a1a" textLength="26.5" lengthAdjust="spacingAndGlyphs" >[0–0.19]</text><text x="313.00" y="362.60" font-size="8.2" text-anchor="start" fill="#1a1a1a" textLength="27" lengthAdjust="spacingAndGlyphs" >[0–1.04]</text><text x="103.00" y="393.30" font-size="8.2" text-anchor="start" fill="#1a1a1a" textLength="26.5" lengthAdjust="spacingAndGlyphs" >[0–0.19]</text><text x="310.60" y="394.30" font-size="8.2" text-anchor="start" fill="#1a1a1a" textLength="27" lengthAdjust="spacingAndGlyphs" >[0–1.04]</text><text x="103.00" y="424.20" font-size="8.2" text-anchor="start" fill="#1a1a1a" textLength="26.5" lengthAdjust="spacingAndGlyphs" >[0–0.19]</text><text x="313.00" y="424.20" font-size="8.2" text-anchor="start" fill="#1a1a1a" textLength="27" lengthAdjust="spacingAndGlyphs" >[0–1.04]</text><text x="103.00" y="454.90" font-size="8.2" text-anchor="start" fill="#1a1a1a" textLength="26.5" lengthAdjust="spacingAndGlyphs" >[0–0.19]</text><text x="313.00" y="454.90" font-size="8.2" text-anchor="start" fill="#1a1a1a" textLength="27" lengthAdjust="spacingAndGlyphs" >[0–1.04]</text><line x1="102" y1="461" x2="242" y2="461" stroke="#222" stroke-width="0.8"/><path d="M104 459.8 L105.6 461 L104 462.2" fill="none" stroke="#222" stroke-width="0.5"/><path d="M112 459.8 L113.6 461 L112 462.2" fill="none" stroke="#222" stroke-width="0.5"/><path d="M120 459.8 L121.6 461 L120 462.2" fill="none" stroke="#222" stroke-width="0.5"/><path d="M128 459.8 L129.6 461 L128 462.2" fill="none" stroke="#222" stroke-width="0.5"/><path d="M136 459.8 L137.6 461 L136 462.2" fill="none" stroke="#222" stroke-width="0.5"/><path d="M144 459.8 L145.6 461 L144 462.2" fill="none" stroke="#222" stroke-width="0.5"/><path d="M152 459.8 L153.6 461 L152 462.2" fill="none" stroke="#222" stroke-width="0.5"/><path d="M160 459.8 L161.6 461 L160 462.2" fill="none" stroke="#222" stroke-width="0.5"/><path d="M168 459.8 L169.6 461 L168 462.2" fill="none" stroke="#222" stroke-width="0.5"/><path d="M176 459.8 L177.6 461 L176 462.2" fill="none" stroke="#222" stroke-width="0.5"/><path d="M184 459.8 L185.6 461 L184 462.2" fill="none" stroke="#222" stroke-width="0.5"/><path d="M192 459.8 L193.6 461 L192 462.2" fill="none" stroke="#222" stroke-width="0.5"/><path d="M200 459.8 L201.6 461 L200 462.2" fill="none" stroke="#222" stroke-width="0.5"/><path d="M208 459.8 L209.6 461 L208 462.2" fill="none" stroke="#222" stroke-width="0.5"/><path d="M216 459.8 L217.6 461 L216 462.2" fill="none" stroke="#222" stroke-width="0.5"/><path d="M224 459.8 L225.6 461 L224 462.2" fill="none" stroke="#222" stroke-width="0.5"/><path d="M232 459.8 L233.6 461 L232 462.2" fill="none" stroke="#222" stroke-width="0.5"/><path d="M240 459.8 L241.6 461 L240 462.2" fill="none" stroke="#222" stroke-width="0.5"/><rect x="240" y="459.3" width="3.6" height="3.4" fill="#111"/><path d="M243.6 461 L239 458.6 L239 463.4 Z" fill="#111"/><text x="240.20" y="471.40" font-size="9" text-anchor="middle" fill="#1a1a1a" textLength="21" lengthAdjust="spacingAndGlyphs" >Ptcr<tspan font-size="7">α</tspan></text><line x1="347" y1="461" x2="487" y2="461" stroke="#222" stroke-width="0.8"/><rect x="347" y="459.6" width="11" height="2.8" fill="#111"/><rect x="376.3" y="458.6" width="2.4" height="4.8" fill="#111"/><rect x="391.8" y="458.6" width="2.4" height="4.8" fill="#111"/><rect x="434.3" y="459.2" width="1.4" height="3.6" fill="#111"/><rect x="451.3" y="459.2" width="1.4" height="3.6" fill="#111"/><rect x="485.3" y="459.2" width="1.4" height="3.6" fill="#111"/><path d="M362.0 460 L363.3 461 L362.0 462" fill="none" stroke="#222" stroke-width="0.5"/><path d="M369.5 460 L370.8 461 L369.5 462" fill="none" stroke="#222" stroke-width="0.5"/><path d="M377.0 460 L378.3 461 L377.0 462" fill="none" stroke="#222" stroke-width="0.5"/><path d="M384.5 460 L385.8 461 L384.5 462" fill="none" stroke="#222" stroke-width="0.5"/><path d="M392.0 460 L393.3 461 L392.0 462" fill="none" stroke="#222" stroke-width="0.5"/><path d="M399.5 460 L400.8 461 L399.5 462" fill="none" stroke="#222" stroke-width="0.5"/><path d="M407.0 460 L408.3 461 L407.0 462" fill="none" stroke="#222" stroke-width="0.5"/><path d="M414.5 460 L415.8 461 L414.5 462" fill="none" stroke="#222" stroke-width="0.5"/><path d="M422.0 460 L423.3 461 L422.0 462" fill="none" stroke="#222" stroke-width="0.5"/><path d="M429.5 460 L430.8 461 L429.5 462" fill="none" stroke="#222" stroke-width="0.5"/><path d="M437.0 460 L438.3 461 L437.0 462" fill="none" stroke="#222" stroke-width="0.5"/><path d="M444.5 460 L445.8 461 L444.5 462" fill="none" stroke="#222" stroke-width="0.5"/><path d="M452.0 460 L453.3 461 L452.0 462" fill="none" stroke="#222" stroke-width="0.5"/><path d="M459.5 460 L460.8 461 L459.5 462" fill="none" stroke="#222" stroke-width="0.5"/><path d="M467.0 460 L468.3 461 L467.0 462" fill="none" stroke="#222" stroke-width="0.5"/><path d="M474.5 460 L475.8 461 L474.5 462" fill="none" stroke="#222" stroke-width="0.5"/><path d="M482.0 460 L483.3 461 L482.0 462" fill="none" stroke="#222" stroke-width="0.5"/><text x="485.30" y="473.60" font-size="9" text-anchor="middle" fill="#1a1a1a" textLength="22" lengthAdjust="spacingAndGlyphs" >Cd3<tspan font-size="7">ε</tspan></text><line x1="40" y1="493.5" x2="40" y2="678.6" stroke="#111" stroke-width="1.1"/><line x1="39.5" y1="678.4" x2="235.5" y2="678.4" stroke="#111" stroke-width="1.1"/><line x1="37" y1="670.0" x2="40" y2="670.0" stroke="#111" stroke-width="0.8"/><text x="35.50" y="672.90" font-size="8.3" text-anchor="end" fill="#1a1a1a" >0</text><line x1="37" y1="628.0" x2="40" y2="628.0" stroke="#111" stroke-width="0.8"/><text x="35.50" y="630.90" font-size="8.3" text-anchor="end" fill="#1a1a1a" >50</text><line x1="37" y1="586.0" x2="40" y2="586.0" stroke="#111" stroke-width="0.8"/><text x="35.50" y="588.90" font-size="8.3" text-anchor="end" fill="#1a1a1a" >100</text><line x1="37" y1="544.0" x2="40" y2="544.0" stroke="#111" stroke-width="0.8"/><text x="35.50" y="546.90" font-size="8.3" text-anchor="end" fill="#1a1a1a" >150</text><line x1="37" y1="502.0" x2="40" y2="502.0" stroke="#111" stroke-width="0.8"/><text x="35.50" y="504.90" font-size="8.3" text-anchor="end" fill="#1a1a1a" >200</text><line x1="48.3" y1="678.4" x2="48.3" y2="681.4" stroke="#111" stroke-width="0.8"/><text x="48.30" y="691.40" font-size="8.6" text-anchor="middle" fill="#1a1a1a" textLength="13.5" lengthAdjust="spacingAndGlyphs" >−0.6</text><line x1="92.9" y1="678.4" x2="92.9" y2="681.4" stroke="#111" stroke-width="0.8"/><text x="92.90" y="691.40" font-size="8.6" text-anchor="middle" fill="#1a1a1a" textLength="13.5" lengthAdjust="spacingAndGlyphs" >−0.3</text><line x1="137.5" y1="678.4" x2="137.5" y2="681.4" stroke="#111" stroke-width="0.8"/><text x="137.50" y="691.40" font-size="8.6" text-anchor="middle" fill="#1a1a1a" textLength="10.5" lengthAdjust="spacingAndGlyphs" >0.0</text><line x1="182.1" y1="678.4" x2="182.1" y2="681.4" stroke="#111" stroke-width="0.8"/><text x="182.10" y="691.40" font-size="8.6" text-anchor="middle" fill="#1a1a1a" textLength="10.5" lengthAdjust="spacingAndGlyphs" >0.3</text><line x1="226.7" y1="678.4" x2="226.7" y2="681.4" stroke="#111" stroke-width="0.8"/><text x="226.70" y="691.40" font-size="8.6" text-anchor="middle" fill="#1a1a1a" textLength="10.5" lengthAdjust="spacingAndGlyphs" >0.6</text><text x="137.50" y="703.20" font-size="9.4" text-anchor="middle" fill="#1a1a1a" textLength="84" lengthAdjust="spacingAndGlyphs" >Differential binding score</text><text x="10.6" y="585.7" font-size="8" text-anchor="middle" fill="#1a1a1a" transform="rotate(-90 10.6 585.7)" dy="2.8" textLength="49" lengthAdjust="spacingAndGlyphs">−log<tspan font-size="5.5" dy="1.5">10</tspan><tspan dy="-1.5"> p-value</tspan></text><text x="53" y="489.2" font-size="10" fill="#111" textLength="172" lengthAdjust="spacingAndGlyphs">ATAC-seq footprinting Controls vs <tspan fill="#c5163a" font-style="italic">N1IC</tspan></text><path d="M145.5 610.8a0.8 0.8 0 1 0 1.6 0a0.8 0.8 0 1 0 -1.6 0M143.4 607.8a0.8 0.8 0 1 0 1.6 0a0.8 0.8 0 1 0 -1.6 0M130.4 621.8a0.8 0.8 0 1 0 1.6 0a0.8 0.8 0 1 0 -1.6 0M133.0 641.5a0.8 0.8 0 1 0 1.6 0a0.8 0.8 0 1 0 -1.6 0M127.5 593.8a0.8 0.8 0 1 0 1.6 0a0.8 0.8 0 1 0 -1.6 0M149.1 567.9a0.8 0.8 0 1 0 1.6 0a0.8 0.8 0 1 0 -1.6 0M144.8 604.8a0.8 0.8 0 1 0 1.6 0a0.8 0.8 0 1 0 -1.6 0M137.6 663.7a0.8 0.8 0 1 0 1.6 0a0.8 0.8 0 1 0 -1.6 0M134.7 647.2a0.8 0.8 0 1 0 1.6 0a0.8 0.8 0 1 0 -1.6 0M148.5 580.8a0.8 0.8 0 1 0 1.6 0a0.8 0.8 0 1 0 -1.6 0M142.3 602.2a0.8 0.8 0 1 0 1.6 0a0.8 0.8 0 1 0 -1.6 0M140.1 640.6a0.8 0.8 0 1 0 1.6 0a0.8 0.8 0 1 0 -1.6 0M152.6 564.6a0.8 0.8 0 1 0 1.6 0a0.8 0.8 0 1 0 -1.6 0M133.9 648.4a0.8 0.8 0 1 0 1.6 0a0.8 0.8 0 1 0 -1.6 0M136.1 663.4a0.8 0.8 0 1 0 1.6 0a0.8 0.8 0 1 0 -1.6 0M140.3 629.1a0.8 0.8 0 1 0 1.6 0a0.8 0.8 0 1 0 -1.6 0M149.7 580.3a0.8 0.8 0 1 0 1.6 0a0.8 0.8 0 1 0 -1.6 0M142.6 620.3a0.8 0.8 0 1 0 1.6 0a0.8 0.8 0 1 0 -1.6 0M143.1 627.9a0.8 0.8 0 1 0 1.6 0a0.8 0.8 0 1 0 -1.6 0M140.5 641.4a0.8 0.8 0 1 0 1.6 0a0.8 0.8 0 1 0 -1.6 0M134.1 638.7a0.8 0.8 0 1 0 1.6 0a0.8 0.8 0 1 0 -1.6 0M134.1 646.8a0.8 0.8 0 1 0 1.6 0a0.8 0.8 0 1 0 -1.6 0M136.2 664.4a0.8 0.8 0 1 0 1.6 0a0.8 0.8 0 1 0 -1.6 0M141.5 622.6a0.8 0.8 0 1 0 1.6 0a0.8 0.8 0 1 0 -1.6 0M129.4 601.1a0.8 0.8 0 1 0 1.6 0a0.8 0.8 0 1 0 -1.6 0M132.9 630.4a0.8 0.8 0 1 0 1.6 0a0.8 0.8 0 1 0 -1.6 0M134.7 644.6a0.8 0.8 0 1 0 1.6 0a0.8 0.8 0 1 0 -1.6 0M126.4 586.8a0.8 0.8 0 1 0 1.6 0a0.8 0.8 0 1 0 -1.6 0M133.1 632.9a0.8 0.8 0 1 0 1.6 0a0.8 0.8 0 1 0 -1.6 0M124.1 576.9a0.8 0.8 0 1 0 1.6 0a0.8 0.8 0 1 0 -1.6 0M134.2 645.7a0.8 0.8 0 1 0 1.6 0a0.8 0.8 0 1 0 -1.6 0M135.9 663.1a0.8 0.8 0 1 0 1.6 0a0.8 0.8 0 1 0 -1.6 0M130.4 615.2a0.8 0.8 0 1 0 1.6 0a0.8 0.8 0 1 0 -1.6 0M132.7 627.4a0.8 0.8 0 1 0 1.6 0a0.8 0.8 0 1 0 -1.6 0M140.3 618.8a0.8 0.8 0 1 0 1.6 0a0.8 0.8 0 1 0 -1.6 0M135.0 655.5a0.8 0.8 0 1 0 1.6 0a0.8 0.8 0 1 0 -1.6 0M147.6 583.4a0.8 0.8 0 1 0 1.6 0a0.8 0.8 0 1 0 -1.6 0M151.2 570.5a0.8 0.8 0 1 0 1.6 0a0.8 0.8 0 1 0 -1.6 0M127.0 580.6a0.8 0.8 0 1 0 1.6 0a0.8 0.8 0 1 0 -1.6 0M137.6 659.0a0.8 0.8 0 1 0 1.6 0a0.8 0.8 0 1 0 -1.6 0M125.8 579.4a0.8 0.8 0 1 0 1.6 0a0.8 0.8 0 1 0 -1.6 0M129.0 592.5a0.8 0.8 0 1 0 1.6 0a0.8 0.8 0 1 0 -1.6 0M140.9 638.9a0.8 0.8 0 1 0 1.6 0a0.8 0.8 0 1 0 -1.6 0M135.0 648.5a0.8 0.8 0 1 0 1.6 0a0.8 0.8 0 1 0 -1.6 0M146.7 579.8a0.8 0.8 0 1 0 1.6 0a0.8 0.8 0 1 0 -1.6 0M138.8 648.4a0.8 0.8 0 1 0 1.6 0a0.8 0.8 0 1 0 -1.6 0M133.9 644.7a0.8 0.8 0 1 0 1.6 0a0.8 0.8 0 1 0 -1.6 0M132.9 635.3a0.8 0.8 0 1 0 1.6 0a0.8 0.8 0 1 0 -1.6 0M137.6 656.1a0.8 0.8 0 1 0 1.6 0a0.8 0.8 0 1 0 -1.6 0M148.3 600.5a0.8 0.8 0 1 0 1.6 0a0.8 0.8 0 1 0 -1.6 0M144.5 608.1a0.8 0.8 0 1 0 1.6 0a0.8 0.8 0 1 0 -1.6 0M126.6 584.4a0.8 0.8 0 1 0 1.6 0a0.8 0.8 0 1 0 -1.6 0M153.6 568.1a0.8 0.8 0 1 0 1.6 0a0.8 0.8 0 1 0 -1.6 0M146.7 592.7a0.8 0.8 0 1 0 1.6 0a0.8 0.8 0 1 0 -1.6 0M126.5 576.0a0.8 0.8 0 1 0 1.6 0a0.8 0.8 0 1 0 -1.6 0M150.3 574.7a0.8 0.8 0 1 0 1.6 0a0.8 0.8 0 1 0 -1.6 0M147.1 595.5a0.8 0.8 0 1 0 1.6 0a0.8 0.8 0 1 0 -1.6 0M127.4 605.5a0.8 0.8 0 1 0 1.6 0a0.8 0.8 0 1 0 -1.6 0M144.7 577.8a0.8 0.8 0 1 0 1.6 0a0.8 0.8 0 1 0 -1.6 0M145.5 609.4a0.8 0.8 0 1 0 1.6 0a0.8 0.8 0 1 0 -1.6 0M140.1 629.5a0.8 0.8 0 1 0 1.6 0a0.8 0.8 0 1 0 -1.6 0M129.2 609.8a0.8 0.8 0 1 0 1.6 0a0.8 0.8 0 1 0 -1.6 0M148.2 576.9a0.8 0.8 0 1 0 1.6 0a0.8 0.8 0 1 0 -1.6 0M142.5 608.5a0.8 0.8 0 1 0 1.6 0a0.8 0.8 0 1 0 -1.6 0M151.3 581.3a0.8 0.8 0 1 0 1.6 0a0.8 0.8 0 1 0 -1.6 0M130.8 613.4a0.8 0.8 0 1 0 1.6 0a0.8 0.8 0 1 0 -1.6 0M139.2 645.6a0.8 0.8 0 1 0 1.6 0a0.8 0.8 0 1 0 -1.6 0M146.3 572.6a0.8 0.8 0 1 0 1.6 0a0.8 0.8 0 1 0 -1.6 0M136.5 668.9a0.8 0.8 0 1 0 1.6 0a0.8 0.8 0 1 0 -1.6 0M135.5 654.0a0.8 0.8 0 1 0 1.6 0a0.8 0.8 0 1 0 -1.6 0M141.6 600.1a0.8 0.8 0 1 0 1.6 0a0.8 0.8 0 1 0 -1.6 0M130.0 607.4a0.8 0.8 0 1 0 1.6 0a0.8 0.8 0 1 0 -1.6 0M132.6 629.5a0.8 0.8 0 1 0 1.6 0a0.8 0.8 0 1 0 -1.6 0M139.0 629.3a0.8 0.8 0 1 0 1.6 0a0.8 0.8 0 1 0 -1.6 0M141.3 636.5a0.8 0.8 0 1 0 1.6 0a0.8 0.8 0 1 0 -1.6 0M150.2 580.2a0.8 0.8 0 1 0 1.6 0a0.8 0.8 0 1 0 -1.6 0M149.3 569.5a0.8 0.8 0 1 0 1.6 0a0.8 0.8 0 1 0 -1.6 0M140.6 640.9a0.8 0.8 0 1 0 1.6 0a0.8 0.8 0 1 0 -1.6 0M131.9 631.1a0.8 0.8 0 1 0 1.6 0a0.8 0.8 0 1 0 -1.6 0M126.4 591.1a0.8 0.8 0 1 0 1.6 0a0.8 0.8 0 1 0 -1.6 0M142.7 622.1a0.8 0.8 0 1 0 1.6 0a0.8 0.8 0 1 0 -1.6 0M137.4 665.6a0.8 0.8 0 1 0 1.6 0a0.8 0.8 0 1 0 -1.6 0M143.0 609.6a0.8 0.8 0 1 0 1.6 0a0.8 0.8 0 1 0 -1.6 0M135.9 657.2a0.8 0.8 0 1 0 1.6 0a0.8 0.8 0 1 0 -1.6 0M137.3 667.4a0.8 0.8 0 1 0 1.6 0a0.8 0.8 0 1 0 -1.6 0M136.2 665.6a0.8 0.8 0 1 0 1.6 0a0.8 0.8 0 1 0 -1.6 0M141.0 622.7a0.8 0.8 0 1 0 1.6 0a0.8 0.8 0 1 0 -1.6 0M146.9 568.6a0.8 0.8 0 1 0 1.6 0a0.8 0.8 0 1 0 -1.6 0M138.7 648.9a0.8 0.8 0 1 0 1.6 0a0.8 0.8 0 1 0 -1.6 0M131.7 625.6a0.8 0.8 0 1 0 1.6 0a0.8 0.8 0 1 0 -1.6 0M138.8 651.0a0.8 0.8 0 1 0 1.6 0a0.8 0.8 0 1 0 -1.6 0M144.7 614.9a0.8 0.8 0 1 0 1.6 0a0.8 0.8 0 1 0 -1.6 0M143.7 590.0a0.8 0.8 0 1 0 1.6 0a0.8 0.8 0 1 0 -1.6 0M138.2 660.8a0.8 0.8 0 1 0 1.6 0a0.8 0.8 0 1 0 -1.6 0M147.7 593.5a0.8 0.8 0 1 0 1.6 0a0.8 0.8 0 1 0 -1.6 0M151.0 573.7a0.8 0.8 0 1 0 1.6 0a0.8 0.8 0 1 0 -1.6 0M131.5 616.5a0.8 0.8 0 1 0 1.6 0a0.8 0.8 0 1 0 -1.6 0M140.9 620.9a0.8 0.8 0 1 0 1.6 0a0.8 0.8 0 1 0 -1.6 0M138.9 648.3a0.8 0.8 0 1 0 1.6 0a0.8 0.8 0 1 0 -1.6 0M142.4 594.0a0.8 0.8 0 1 0 1.6 0a0.8 0.8 0 1 0 -1.6 0M129.4 585.3a0.8 0.8 0 1 0 1.6 0a0.8 0.8 0 1 0 -1.6 0M146.5 586.3a0.8 0.8 0 1 0 1.6 0a0.8 0.8 0 1 0 -1.6 0M127.0 584.4a0.8 0.8 0 1 0 1.6 0a0.8 0.8 0 1 0 -1.6 0M131.6 628.5a0.8 0.8 0 1 0 1.6 0a0.8 0.8 0 1 0 -1.6 0M146.4 588.7a0.8 0.8 0 1 0 1.6 0a0.8 0.8 0 1 0 -1.6 0M137.6 663.2a0.8 0.8 0 1 0 1.6 0a0.8 0.8 0 1 0 -1.6 0M138.2 651.7a0.8 0.8 0 1 0 1.6 0a0.8 0.8 0 1 0 -1.6 0M135.7 656.0a0.8 0.8 0 1 0 1.6 0a0.8 0.8 0 1 0 -1.6 0M147.9 593.4a0.8 0.8 0 1 0 1.6 0a0.8 0.8 0 1 0 -1.6 0M141.1 617.9a0.8 0.8 0 1 0 1.6 0a0.8 0.8 0 1 0 -1.6 0M137.9 660.9a0.8 0.8 0 1 0 1.6 0a0.8 0.8 0 1 0 -1.6 0M129.7 601.4a0.8 0.8 0 1 0 1.6 0a0.8 0.8 0 1 0 -1.6 0M144.4 614.7a0.8 0.8 0 1 0 1.6 0a0.8 0.8 0 1 0 -1.6 0M132.2 634.1a0.8 0.8 0 1 0 1.6 0a0.8 0.8 0 1 0 -1.6 0M150.1 574.7a0.8 0.8 0 1 0 1.6 0a0.8 0.8 0 1 0 -1.6 0M146.2 614.5a0.8 0.8 0 1 0 1.6 0a0.8 0.8 0 1 0 -1.6 0M138.3 648.7a0.8 0.8 0 1 0 1.6 0a0.8 0.8 0 1 0 -1.6 0M137.2 667.1a0.8 0.8 0 1 0 1.6 0a0.8 0.8 0 1 0 -1.6 0M141.1 615.4a0.8 0.8 0 1 0 1.6 0a0.8 0.8 0 1 0 -1.6 0M144.4 618.0a0.8 0.8 0 1 0 1.6 0a0.8 0.8 0 1 0 -1.6 0M137.3 663.0a0.8 0.8 0 1 0 1.6 0a0.8 0.8 0 1 0 -1.6 0M148.6 572.3a0.8 0.8 0 1 0 1.6 0a0.8 0.8 0 1 0 -1.6 0M132.1 625.5a0.8 0.8 0 1 0 1.6 0a0.8 0.8 0 1 0 -1.6 0M150.8 574.7a0.8 0.8 0 1 0 1.6 0a0.8 0.8 0 1 0 -1.6 0M141.1 636.4a0.8 0.8 0 1 0 1.6 0a0.8 0.8 0 1 0 -1.6 0M138.9 656.3a0.8 0.8 0 1 0 1.6 0a0.8 0.8 0 1 0 -1.6 0M137.2 667.6a0.8 0.8 0 1 0 1.6 0a0.8 0.8 0 1 0 -1.6 0M141.3 635.9a0.8 0.8 0 1 0 1.6 0a0.8 0.8 0 1 0 -1.6 0M130.9 611.7a0.8 0.8 0 1 0 1.6 0a0.8 0.8 0 1 0 -1.6 0M131.9 622.0a0.8 0.8 0 1 0 1.6 0a0.8 0.8 0 1 0 -1.6 0M134.4 651.4a0.8 0.8 0 1 0 1.6 0a0.8 0.8 0 1 0 -1.6 0M132.3 631.1a0.8 0.8 0 1 0 1.6 0a0.8 0.8 0 1 0 -1.6 0M138.8 653.1a0.8 0.8 0 1 0 1.6 0a0.8 0.8 0 1 0 -1.6 0M145.5 613.9a0.8 0.8 0 1 0 1.6 0a0.8 0.8 0 1 0 -1.6 0M145.4 605.3a0.8 0.8 0 1 0 1.6 0a0.8 0.8 0 1 0 -1.6 0M146.2 584.2a0.8 0.8 0 1 0 1.6 0a0.8 0.8 0 1 0 -1.6 0M139.7 636.6a0.8 0.8 0 1 0 1.6 0a0.8 0.8 0 1 0 -1.6 0M127.7 576.1a0.8 0.8 0 1 0 1.6 0a0.8 0.8 0 1 0 -1.6 0M138.4 655.8a0.8 0.8 0 1 0 1.6 0a0.8 0.8 0 1 0 -1.6 0M136.2 660.9a0.8 0.8 0 1 0 1.6 0a0.8 0.8 0 1 0 -1.6 0M142.1 625.4a0.8 0.8 0 1 0 1.6 0a0.8 0.8 0 1 0 -1.6 0M144.7 597.5a0.8 0.8 0 1 0 1.6 0a0.8 0.8 0 1 0 -1.6 0M134.4 651.1a0.8 0.8 0 1 0 1.6 0a0.8 0.8 0 1 0 -1.6 0M137.2 657.8a0.8 0.8 0 1 0 1.6 0a0.8 0.8 0 1 0 -1.6 0M143.5 589.8a0.8 0.8 0 1 0 1.6 0a0.8 0.8 0 1 0 -1.6 0M136.1 663.4a0.8 0.8 0 1 0 1.6 0a0.8 0.8 0 1 0 -1.6 0M136.2 666.5a0.8 0.8 0 1 0 1.6 0a0.8 0.8 0 1 0 -1.6 0M138.3 654.5a0.8 0.8 0 1 0 1.6 0a0.8 0.8 0 1 0 -1.6 0M135.3 650.8a0.8 0.8 0 1 0 1.6 0a0.8 0.8 0 1 0 -1.6 0M136.9 659.9a0.8 0.8 0 1 0 1.6 0a0.8 0.8 0 1 0 -1.6 0M124.0 580.5a0.8 0.8 0 1 0 1.6 0a0.8 0.8 0 1 0 -1.6 0M132.0 626.1a0.8 0.8 0 1 0 1.6 0a0.8 0.8 0 1 0 -1.6 0M141.9 624.5a0.8 0.8 0 1 0 1.6 0a0.8 0.8 0 1 0 -1.6 0M147.8 580.6a0.8 0.8 0 1 0 1.6 0a0.8 0.8 0 1 0 -1.6 0M131.9 627.3a0.8 0.8 0 1 0 1.6 0a0.8 0.8 0 1 0 -1.6 0M134.8 654.5a0.8 0.8 0 1 0 1.6 0a0.8 0.8 0 1 0 -1.6 0M137.4 668.4a0.8 0.8 0 1 0 1.6 0a0.8 0.8 0 1 0 -1.6 0M145.6 578.9a0.8 0.8 0 1 0 1.6 0a0.8 0.8 0 1 0 -1.6 0M140.6 627.2a0.8 0.8 0 1 0 1.6 0a0.8 0.8 0 1 0 -1.6 0M145.9 584.8a0.8 0.8 0 1 0 1.6 0a0.8 0.8 0 1 0 -1.6 0M126.3 584.3a0.8 0.8 0 1 0 1.6 0a0.8 0.8 0 1 0 -1.6 0M139.6 627.1a0.8 0.8 0 1 0 1.6 0a0.8 0.8 0 1 0 -1.6 0M147.1 576.9a0.8 0.8 0 1 0 1.6 0a0.8 0.8 0 1 0 -1.6 0M139.8 627.1a0.8 0.8 0 1 0 1.6 0a0.8 0.8 0 1 0 -1.6 0M137.4 662.5a0.8 0.8 0 1 0 1.6 0a0.8 0.8 0 1 0 -1.6 0M133.5 636.5a0.8 0.8 0 1 0 1.6 0a0.8 0.8 0 1 0 -1.6 0M145.3 604.0a0.8 0.8 0 1 0 1.6 0a0.8 0.8 0 1 0 -1.6 0M143.3 634.2a0.8 0.8 0 1 0 1.6 0a0.8 0.8 0 1 0 -1.6 0M142.4 609.7a0.8 0.8 0 1 0 1.6 0a0.8 0.8 0 1 0 -1.6 0M144.7 602.0a0.8 0.8 0 1 0 1.6 0a0.8 0.8 0 1 0 -1.6 0M147.2 589.4a0.8 0.8 0 1 0 1.6 0a0.8 0.8 0 1 0 -1.6 0M146.4 591.8a0.8 0.8 0 1 0 1.6 0a0.8 0.8 0 1 0 -1.6 0M132.8 632.2a0.8 0.8 0 1 0 1.6 0a0.8 0.8 0 1 0 -1.6 0M135.9 660.7a0.8 0.8 0 1 0 1.6 0a0.8 0.8 0 1 0 -1.6 0M125.2 584.8a0.8 0.8 0 1 0 1.6 0a0.8 0.8 0 1 0 -1.6 0M143.4 609.9a0.8 0.8 0 1 0 1.6 0a0.8 0.8 0 1 0 -1.6 0M145.2 602.5a0.8 0.8 0 1 0 1.6 0a0.8 0.8 0 1 0 -1.6 0M146.0 589.6a0.8 0.8 0 1 0 1.6 0a0.8 0.8 0 1 0 -1.6 0M126.8 582.5a0.8 0.8 0 1 0 1.6 0a0.8 0.8 0 1 0 -1.6 0M132.0 623.4a0.8 0.8 0 1 0 1.6 0a0.8 0.8 0 1 0 -1.6 0M137.8 663.8a0.8 0.8 0 1 0 1.6 0a0.8 0.8 0 1 0 -1.6 0M143.8 606.7a0.8 0.8 0 1 0 1.6 0a0.8 0.8 0 1 0 -1.6 0M133.5 643.1a0.8 0.8 0 1 0 1.6 0a0.8 0.8 0 1 0 -1.6 0M127.8 602.6a0.8 0.8 0 1 0 1.6 0a0.8 0.8 0 1 0 -1.6 0M136.6 668.7a0.8 0.8 0 1 0 1.6 0a0.8 0.8 0 1 0 -1.6 0M128.6 599.0a0.8 0.8 0 1 0 1.6 0a0.8 0.8 0 1 0 -1.6 0M148.8 575.0a0.8 0.8 0 1 0 1.6 0a0.8 0.8 0 1 0 -1.6 0M148.7 570.0a0.8 0.8 0 1 0 1.6 0a0.8 0.8 0 1 0 -1.6 0M125.4 584.8a0.8 0.8 0 1 0 1.6 0a0.8 0.8 0 1 0 -1.6 0M140.0 644.2a0.8 0.8 0 1 0 1.6 0a0.8 0.8 0 1 0 -1.6 0M148.9 570.8a0.8 0.8 0 1 0 1.6 0a0.8 0.8 0 1 0 -1.6 0M145.1 583.6a0.8 0.8 0 1 0 1.6 0a0.8 0.8 0 1 0 -1.6 0M137.8 657.8a0.8 0.8 0 1 0 1.6 0a0.8 0.8 0 1 0 -1.6 0M136.1 665.1a0.8 0.8 0 1 0 1.6 0a0.8 0.8 0 1 0 -1.6 0M137.6 656.8a0.8 0.8 0 1 0 1.6 0a0.8 0.8 0 1 0 -1.6 0M140.3 642.3a0.8 0.8 0 1 0 1.6 0a0.8 0.8 0 1 0 -1.6 0M142.2 625.6a0.8 0.8 0 1 0 1.6 0a0.8 0.8 0 1 0 -1.6 0M146.4 569.2a0.8 0.8 0 1 0 1.6 0a0.8 0.8 0 1 0 -1.6 0M140.8 644.8a0.8 0.8 0 1 0 1.6 0a0.8 0.8 0 1 0 -1.6 0M147.3 603.9a0.8 0.8 0 1 0 1.6 0a0.8 0.8 0 1 0 -1.6 0M133.8 644.5a0.8 0.8 0 1 0 1.6 0a0.8 0.8 0 1 0 -1.6 0M142.8 603.0a0.8 0.8 0 1 0 1.6 0a0.8 0.8 0 1 0 -1.6 0M139.0 649.9a0.8 0.8 0 1 0 1.6 0a0.8 0.8 0 1 0 -1.6 0M155.4 577.0a0.8 0.8 0 1 0 1.6 0a0.8 0.8 0 1 0 -1.6 0M136.1 664.3a0.8 0.8 0 1 0 1.6 0a0.8 0.8 0 1 0 -1.6 0M138.4 659.2a0.8 0.8 0 1 0 1.6 0a0.8 0.8 0 1 0 -1.6 0M138.1 662.3a0.8 0.8 0 1 0 1.6 0a0.8 0.8 0 1 0 -1.6 0M146.3 603.2a0.8 0.8 0 1 0 1.6 0a0.8 0.8 0 1 0 -1.6 0M131.8 625.0a0.8 0.8 0 1 0 1.6 0a0.8 0.8 0 1 0 -1.6 0M150.0 581.2a0.8 0.8 0 1 0 1.6 0a0.8 0.8 0 1 0 -1.6 0M135.7 658.7a0.8 0.8 0 1 0 1.6 0a0.8 0.8 0 1 0 -1.6 0M138.3 647.4a0.8 0.8 0 1 0 1.6 0a0.8 0.8 0 1 0 -1.6 0M140.1 642.7a0.8 0.8 0 1 0 1.6 0a0.8 0.8 0 1 0 -1.6 0M147.8 565.3a0.8 0.8 0 1 0 1.6 0a0.8 0.8 0 1 0 -1.6 0M130.7 618.4a0.8 0.8 0 1 0 1.6 0a0.8 0.8 0 1 0 -1.6 0M138.7 630.9a0.8 0.8 0 1 0 1.6 0a0.8 0.8 0 1 0 -1.6 0M127.2 587.7a0.8 0.8 0 1 0 1.6 0a0.8 0.8 0 1 0 -1.6 0M143.1 618.7a0.8 0.8 0 1 0 1.6 0a0.8 0.8 0 1 0 -1.6 0M140.4 638.4a0.8 0.8 0 1 0 1.6 0a0.8 0.8 0 1 0 -1.6 0M129.1 607.7a0.8 0.8 0 1 0 1.6 0a0.8 0.8 0 1 0 -1.6 0M133.5 641.4a0.8 0.8 0 1 0 1.6 0a0.8 0.8 0 1 0 -1.6 0M134.9 656.6a0.8 0.8 0 1 0 1.6 0a0.8 0.8 0 1 0 -1.6 0M128.4 601.7a0.8 0.8 0 1 0 1.6 0a0.8 0.8 0 1 0 -1.6 0M144.6 609.7a0.8 0.8 0 1 0 1.6 0a0.8 0.8 0 1 0 -1.6 0M151.9 570.5a0.8 0.8 0 1 0 1.6 0a0.8 0.8 0 1 0 -1.6 0M139.9 637.7a0.8 0.8 0 1 0 1.6 0a0.8 0.8 0 1 0 -1.6 0M133.6 632.4a0.8 0.8 0 1 0 1.6 0a0.8 0.8 0 1 0 -1.6 0M132.5 636.0a0.8 0.8 0 1 0 1.6 0a0.8 0.8 0 1 0 -1.6 0M132.5 635.8a0.8 0.8 0 1 0 1.6 0a0.8 0.8 0 1 0 -1.6 0M131.0 617.0a0.8 0.8 0 1 0 1.6 0a0.8 0.8 0 1 0 -1.6 0M144.6 612.8a0.8 0.8 0 1 0 1.6 0a0.8 0.8 0 1 0 -1.6 0M127.2 598.6a0.8 0.8 0 1 0 1.6 0a0.8 0.8 0 1 0 -1.6 0M141.2 640.2a0.8 0.8 0 1 0 1.6 0a0.8 0.8 0 1 0 -1.6 0M144.2 609.9a0.8 0.8 0 1 0 1.6 0a0.8 0.8 0 1 0 -1.6 0M145.4 601.1a0.8 0.8 0 1 0 1.6 0a0.8 0.8 0 1 0 -1.6 0M146.4 586.6a0.8 0.8 0 1 0 1.6 0a0.8 0.8 0 1 0 -1.6 0M135.9 662.3a0.8 0.8 0 1 0 1.6 0a0.8 0.8 0 1 0 -1.6 0M128.1 610.3a0.8 0.8 0 1 0 1.6 0a0.8 0.8 0 1 0 -1.6 0M128.0 599.8a0.8 0.8 0 1 0 1.6 0a0.8 0.8 0 1 0 -1.6 0M127.6 598.0a0.8 0.8 0 1 0 1.6 0a0.8 0.8 0 1 0 -1.6 0M145.3 589.1a0.8 0.8 0 1 0 1.6 0a0.8 0.8 0 1 0 -1.6 0M146.5 598.8a0.8 0.8 0 1 0 1.6 0a0.8 0.8 0 1 0 -1.6 0M143.1 613.1a0.8 0.8 0 1 0 1.6 0a0.8 0.8 0 1 0 -1.6 0M139.9 626.5a0.8 0.8 0 1 0 1.6 0a0.8 0.8 0 1 0 -1.6 0M147.5 599.4a0.8 0.8 0 1 0 1.6 0a0.8 0.8 0 1 0 -1.6 0M145.1 575.9a0.8 0.8 0 1 0 1.6 0a0.8 0.8 0 1 0 -1.6 0M142.2 602.2a0.8 0.8 0 1 0 1.6 0a0.8 0.8 0 1 0 -1.6 0M141.7 625.4a0.8 0.8 0 1 0 1.6 0a0.8 0.8 0 1 0 -1.6 0M138.4 654.5a0.8 0.8 0 1 0 1.6 0a0.8 0.8 0 1 0 -1.6 0M134.1 654.2a0.8 0.8 0 1 0 1.6 0a0.8 0.8 0 1 0 -1.6 0M131.8 630.0a0.8 0.8 0 1 0 1.6 0a0.8 0.8 0 1 0 -1.6 0M134.7 641.0a0.8 0.8 0 1 0 1.6 0a0.8 0.8 0 1 0 -1.6 0M129.7 609.0a0.8 0.8 0 1 0 1.6 0a0.8 0.8 0 1 0 -1.6 0M131.5 626.8a0.8 0.8 0 1 0 1.6 0a0.8 0.8 0 1 0 -1.6 0M150.2 573.8a0.8 0.8 0 1 0 1.6 0a0.8 0.8 0 1 0 -1.6 0M134.6 649.6a0.8 0.8 0 1 0 1.6 0a0.8 0.8 0 1 0 -1.6 0M128.2 602.5a0.8 0.8 0 1 0 1.6 0a0.8 0.8 0 1 0 -1.6 0M133.7 643.6a0.8 0.8 0 1 0 1.6 0a0.8 0.8 0 1 0 -1.6 0M127.8 598.7a0.8 0.8 0 1 0 1.6 0a0.8 0.8 0 1 0 -1.6 0M144.4 619.3a0.8 0.8 0 1 0 1.6 0a0.8 0.8 0 1 0 -1.6 0M127.5 586.5a0.8 0.8 0 1 0 1.6 0a0.8 0.8 0 1 0 -1.6 0M148.5 568.7a0.8 0.8 0 1 0 1.6 0a0.8 0.8 0 1 0 -1.6 0M141.0 646.6a0.8 0.8 0 1 0 1.6 0a0.8 0.8 0 1 0 -1.6 0M142.3 629.3a0.8 0.8 0 1 0 1.6 0a0.8 0.8 0 1 0 -1.6 0M142.5 615.4a0.8 0.8 0 1 0 1.6 0a0.8 0.8 0 1 0 -1.6 0M141.9 644.9a0.8 0.8 0 1 0 1.6 0a0.8 0.8 0 1 0 -1.6 0M130.9 625.5a0.8 0.8 0 1 0 1.6 0a0.8 0.8 0 1 0 -1.6 0M146.8 605.9a0.8 0.8 0 1 0 1.6 0a0.8 0.8 0 1 0 -1.6 0M135.1 655.2a0.8 0.8 0 1 0 1.6 0a0.8 0.8 0 1 0 -1.6 0M144.3 615.4a0.8 0.8 0 1 0 1.6 0a0.8 0.8 0 1 0 -1.6 0M149.9 564.9a0.8 0.8 0 1 0 1.6 0a0.8 0.8 0 1 0 -1.6 0M129.2 597.5a0.8 0.8 0 1 0 1.6 0a0.8 0.8 0 1 0 -1.6 0M128.5 592.7a0.8 0.8 0 1 0 1.6 0a0.8 0.8 0 1 0 -1.6 0M133.3 644.6a0.8 0.8 0 1 0 1.6 0a0.8 0.8 0 1 0 -1.6 0M137.5 659.7a0.8 0.8 0 1 0 1.6 0a0.8 0.8 0 1 0 -1.6 0M144.5 607.9a0.8 0.8 0 1 0 1.6 0a0.8 0.8 0 1 0 -1.6 0M140.6 637.9a0.8 0.8 0 1 0 1.6 0a0.8 0.8 0 1 0 -1.6 0M137.5 660.4a0.8 0.8 0 1 0 1.6 0a0.8 0.8 0 1 0 -1.6 0M138.4 647.9a0.8 0.8 0 1 0 1.6 0a0.8 0.8 0 1 0 -1.6 0M127.0 591.7a0.8 0.8 0 1 0 1.6 0a0.8 0.8 0 1 0 -1.6 0M133.9 640.8a0.8 0.8 0 1 0 1.6 0a0.8 0.8 0 1 0 -1.6 0M146.9 594.3a0.8 0.8 0 1 0 1.6 0a0.8 0.8 0 1 0 -1.6 0M129.8 605.4a0.8 0.8 0 1 0 1.6 0a0.8 0.8 0 1 0 -1.6 0M151.5 567.7a0.8 0.8 0 1 0 1.6 0a0.8 0.8 0 1 0 -1.6 0M147.0 600.8a0.8 0.8 0 1 0 1.6 0a0.8 0.8 0 1 0 -1.6 0M139.6 644.9a0.8 0.8 0 1 0 1.6 0a0.8 0.8 0 1 0 -1.6 0M146.6 621.5a0.8 0.8 0 1 0 1.6 0a0.8 0.8 0 1 0 -1.6 0M139.3 648.1a0.8 0.8 0 1 0 1.6 0a0.8 0.8 0 1 0 -1.6 0M139.4 639.3a0.8 0.8 0 1 0 1.6 0a0.8 0.8 0 1 0 -1.6 0M133.7 638.3a0.8 0.8 0 1 0 1.6 0a0.8 0.8 0 1 0 -1.6 0M145.3 599.4a0.8 0.8 0 1 0 1.6 0a0.8 0.8 0 1 0 -1.6 0M141.4 635.1a0.8 0.8 0 1 0 1.6 0a0.8 0.8 0 1 0 -1.6 0M143.7 610.4a0.8 0.8 0 1 0 1.6 0a0.8 0.8 0 1 0 -1.6 0M137.5 660.2a0.8 0.8 0 1 0 1.6 0a0.8 0.8 0 1 0 -1.6 0M135.7 661.1a0.8 0.8 0 1 0 1.6 0a0.8 0.8 0 1 0 -1.6 0M131.7 632.2a0.8 0.8 0 1 0 1.6 0a0.8 0.8 0 1 0 -1.6 0M145.4 607.3a0.8 0.8 0 1 0 1.6 0a0.8 0.8 0 1 0 -1.6 0M135.7 658.3a0.8 0.8 0 1 0 1.6 0a0.8 0.8 0 1 0 -1.6 0M138.0 662.3a0.8 0.8 0 1 0 1.6 0a0.8 0.8 0 1 0 -1.6 0M144.2 601.5a0.8 0.8 0 1 0 1.6 0a0.8 0.8 0 1 0 -1.6 0M146.1 583.1a0.8 0.8 0 1 0 1.6 0a0.8 0.8 0 1 0 -1.6 0M137.2 668.4a0.8 0.8 0 1 0 1.6 0a0.8 0.8 0 1 0 -1.6 0M149.4 595.9a0.8 0.8 0 1 0 1.6 0a0.8 0.8 0 1 0 -1.6 0M144.2 605.6a0.8 0.8 0 1 0 1.6 0a0.8 0.8 0 1 0 -1.6 0M132.9 638.9a0.8 0.8 0 1 0 1.6 0a0.8 0.8 0 1 0 -1.6 0M133.4 634.5a0.8 0.8 0 1 0 1.6 0a0.8 0.8 0 1 0 -1.6 0M148.6 586.5a0.8 0.8 0 1 0 1.6 0a0.8 0.8 0 1 0 -1.6 0M127.0 597.9a0.8 0.8 0 1 0 1.6 0a0.8 0.8 0 1 0 -1.6 0M142.6 612.0a0.8 0.8 0 1 0 1.6 0a0.8 0.8 0 1 0 -1.6 0M129.6 602.9a0.8 0.8 0 1 0 1.6 0a0.8 0.8 0 1 0 -1.6 0M142.6 615.4a0.8 0.8 0 1 0 1.6 0a0.8 0.8 0 1 0 -1.6 0M123.9 581.1a0.8 0.8 0 1 0 1.6 0a0.8 0.8 0 1 0 -1.6 0M139.5 649.1a0.8 0.8 0 1 0 1.6 0a0.8 0.8 0 1 0 -1.6 0M146.6 596.2a0.8 0.8 0 1 0 1.6 0a0.8 0.8 0 1 0 -1.6 0M125.4 582.6a0.8 0.8 0 1 0 1.6 0a0.8 0.8 0 1 0 -1.6 0M126.5 578.4a0.8 0.8 0 1 0 1.6 0a0.8 0.8 0 1 0 -1.6 0M125.2 584.9a0.8 0.8 0 1 0 1.6 0a0.8 0.8 0 1 0 -1.6 0M139.6 642.0a0.8 0.8 0 1 0 1.6 0a0.8 0.8 0 1 0 -1.6 0M151.8 565.0a0.8 0.8 0 1 0 1.6 0a0.8 0.8 0 1 0 -1.6 0M126.2 592.4a0.8 0.8 0 1 0 1.6 0a0.8 0.8 0 1 0 -1.6 0M126.6 585.6a0.8 0.8 0 1 0 1.6 0a0.8 0.8 0 1 0 -1.6 0M139.8 650.4a0.8 0.8 0 1 0 1.6 0a0.8 0.8 0 1 0 -1.6 0M137.9 661.9a0.8 0.8 0 1 0 1.6 0a0.8 0.8 0 1 0 -1.6 0M149.8 570.6a0.8 0.8 0 1 0 1.6 0a0.8 0.8 0 1 0 -1.6 0M139.7 637.4a0.8 0.8 0 1 0 1.6 0a0.8 0.8 0 1 0 -1.6 0M141.9 607.4a0.8 0.8 0 1 0 1.6 0a0.8 0.8 0 1 0 -1.6 0M137.2 668.3a0.8 0.8 0 1 0 1.6 0a0.8 0.8 0 1 0 -1.6 0M133.2 633.6a0.8 0.8 0 1 0 1.6 0a0.8 0.8 0 1 0 -1.6 0M138.3 651.6a0.8 0.8 0 1 0 1.6 0a0.8 0.8 0 1 0 -1.6 0M140.7 634.9a0.8 0.8 0 1 0 1.6 0a0.8 0.8 0 1 0 -1.6 0M137.2 666.0a0.8 0.8 0 1 0 1.6 0a0.8 0.8 0 1 0 -1.6 0M143.6 606.5a0.8 0.8 0 1 0 1.6 0a0.8 0.8 0 1 0 -1.6 0M140.5 626.5a0.8 0.8 0 1 0 1.6 0a0.8 0.8 0 1 0 -1.6 0M144.4 590.4a0.8 0.8 0 1 0 1.6 0a0.8 0.8 0 1 0 -1.6 0M153.1 564.7a0.8 0.8 0 1 0 1.6 0a0.8 0.8 0 1 0 -1.6 0M140.0 624.1a0.8 0.8 0 1 0 1.6 0a0.8 0.8 0 1 0 -1.6 0M145.9 574.2a0.8 0.8 0 1 0 1.6 0a0.8 0.8 0 1 0 -1.6 0M148.4 574.3a0.8 0.8 0 1 0 1.6 0a0.8 0.8 0 1 0 -1.6 0M136.2 664.9a0.8 0.8 0 1 0 1.6 0a0.8 0.8 0 1 0 -1.6 0M140.8 606.8a0.8 0.8 0 1 0 1.6 0a0.8 0.8 0 1 0 -1.6 0M140.1 637.7a0.8 0.8 0 1 0 1.6 0a0.8 0.8 0 1 0 -1.6 0M131.9 628.0a0.8 0.8 0 1 0 1.6 0a0.8 0.8 0 1 0 -1.6 0M143.4 628.0a0.8 0.8 0 1 0 1.6 0a0.8 0.8 0 1 0 -1.6 0M140.0 644.7a0.8 0.8 0 1 0 1.6 0a0.8 0.8 0 1 0 -1.6 0M132.6 632.8a0.8 0.8 0 1 0 1.6 0a0.8 0.8 0 1 0 -1.6 0M150.9 567.7a0.8 0.8 0 1 0 1.6 0a0.8 0.8 0 1 0 -1.6 0M144.5 578.3a0.8 0.8 0 1 0 1.6 0a0.8 0.8 0 1 0 -1.6 0M129.2 599.8a0.8 0.8 0 1 0 1.6 0a0.8 0.8 0 1 0 -1.6 0M152.5 574.4a0.8 0.8 0 1 0 1.6 0a0.8 0.8 0 1 0 -1.6 0M131.6 619.4a0.8 0.8 0 1 0 1.6 0a0.8 0.8 0 1 0 -1.6 0M137.0 669.9a0.8 0.8 0 1 0 1.6 0a0.8 0.8 0 1 0 -1.6 0M136.3 664.1a0.8 0.8 0 1 0 1.6 0a0.8 0.8 0 1 0 -1.6 0M145.9 583.7a0.8 0.8 0 1 0 1.6 0a0.8 0.8 0 1 0 -1.6 0M137.5 665.1a0.8 0.8 0 1 0 1.6 0a0.8 0.8 0 1 0 -1.6 0M126.1 585.5a0.8 0.8 0 1 0 1.6 0a0.8 0.8 0 1 0 -1.6 0M153.0 566.6a0.8 0.8 0 1 0 1.6 0a0.8 0.8 0 1 0 -1.6 0M138.7 648.1a0.8 0.8 0 1 0 1.6 0a0.8 0.8 0 1 0 -1.6 0M140.5 649.3a0.8 0.8 0 1 0 1.6 0a0.8 0.8 0 1 0 -1.6 0M140.4 632.5a0.8 0.8 0 1 0 1.6 0a0.8 0.8 0 1 0 -1.6 0M150.6 564.6a0.8 0.8 0 1 0 1.6 0a0.8 0.8 0 1 0 -1.6 0M130.4 610.5a0.8 0.8 0 1 0 1.6 0a0.8 0.8 0 1 0 -1.6 0M136.2 660.0a0.8 0.8 0 1 0 1.6 0a0.8 0.8 0 1 0 -1.6 0M142.1 636.9a0.8 0.8 0 1 0 1.6 0a0.8 0.8 0 1 0 -1.6 0M137.7 655.7a0.8 0.8 0 1 0 1.6 0a0.8 0.8 0 1 0 -1.6 0M148.4 570.7a0.8 0.8 0 1 0 1.6 0a0.8 0.8 0 1 0 -1.6 0M133.6 641.1a0.8 0.8 0 1 0 1.6 0a0.8 0.8 0 1 0 -1.6 0M139.3 649.2a0.8 0.8 0 1 0 1.6 0a0.8 0.8 0 1 0 -1.6 0M148.7 586.3a0.8 0.8 0 1 0 1.6 0a0.8 0.8 0 1 0 -1.6 0M130.2 607.7a0.8 0.8 0 1 0 1.6 0a0.8 0.8 0 1 0 -1.6 0M133.2 641.7a0.8 0.8 0 1 0 1.6 0a0.8 0.8 0 1 0 -1.6 0M144.9 599.4a0.8 0.8 0 1 0 1.6 0a0.8 0.8 0 1 0 -1.6 0M127.1 577.5a0.8 0.8 0 1 0 1.6 0a0.8 0.8 0 1 0 -1.6 0M143.0 614.1a0.8 0.8 0 1 0 1.6 0a0.8 0.8 0 1 0 -1.6 0M140.1 639.9a0.8 0.8 0 1 0 1.6 0a0.8 0.8 0 1 0 -1.6 0M128.4 594.4a0.8 0.8 0 1 0 1.6 0a0.8 0.8 0 1 0 -1.6 0M140.0 644.0a0.8 0.8 0 1 0 1.6 0a0.8 0.8 0 1 0 -1.6 0M131.4 618.4a0.8 0.8 0 1 0 1.6 0a0.8 0.8 0 1 0 -1.6 0M137.7 666.4a0.8 0.8 0 1 0 1.6 0a0.8 0.8 0 1 0 -1.6 0M143.0 590.6a0.8 0.8 0 1 0 1.6 0a0.8 0.8 0 1 0 -1.6 0M139.8 651.0a0.8 0.8 0 1 0 1.6 0a0.8 0.8 0 1 0 -1.6 0" fill="#e6e6e6" stroke="#b4b4b4" stroke-width="0.5"/><circle cx="101.5" cy="543.5" r="1.09" fill="#111"/><circle cx="108.5" cy="545.0" r="1.09" fill="#111"/><circle cx="114.0" cy="546.5" r="1.09" fill="#111"/><circle cx="110.0" cy="550.0" r="1.09" fill="#111"/><circle cx="111.5" cy="551.5" r="1.09" fill="#111"/><circle cx="113.0" cy="553.0" r="1.09" fill="#111"/><circle cx="114.5" cy="554.0" r="1.09" fill="#111"/><circle cx="123.0" cy="556.5" r="1.09" fill="#111"/><circle cx="108.0" cy="565.0" r="1.09" fill="#111"/><circle cx="114.0" cy="567.0" r="1.09" fill="#111"/><circle cx="109.0" cy="570.0" r="1.09" fill="#111"/><circle cx="120.0" cy="568.0" r="1.09" fill="#111"/><circle cx="119.3" cy="571.0" r="1.09" fill="#111"/><circle cx="118.8" cy="573.0" r="1.09" fill="#111"/><circle cx="118.3" cy="575.0" r="1.09" fill="#111"/><circle cx="121.0" cy="580.0" r="1.09" fill="#111"/><circle cx="118.0" cy="582.0" r="1.09" fill="#111"/><circle cx="123.0" cy="583.0" r="1.09" fill="#111"/><circle cx="112.0" cy="586.0" r="1.09" fill="#111"/><circle cx="119.0" cy="589.0" r="1.09" fill="#111"/><circle cx="116.0" cy="592.0" r="1.09" fill="#111"/><circle cx="119.0" cy="596.0" r="1.09" fill="#111"/><circle cx="117.0" cy="599.0" r="1.09" fill="#111"/><circle cx="70.8" cy="540.6" r="1.09" fill="#111"/><circle cx="70.8" cy="544.6" r="1.09" fill="#111"/><circle cx="104.0" cy="548.0" r="1.09" fill="#111"/><circle cx="116.0" cy="561.0" r="1.09" fill="#111"/><circle cx="121.0" cy="563.0" r="1.09" fill="#111"/><circle cx="124.0" cy="566.0" r="1.09" fill="#111"/><circle cx="115.0" cy="578.0" r="1.09" fill="#111"/><circle cx="146.5" cy="596.0" r="1.09" fill="#111"/><circle cx="162.0" cy="541.9" r="1.09" fill="#c5163a"/><circle cx="168.4" cy="525.3" r="1.09" fill="#c5163a"/><circle cx="148.0" cy="568.9" r="1.09" fill="#c5163a"/><circle cx="163.6" cy="544.5" r="1.09" fill="#c5163a"/><circle cx="159.4" cy="556.2" r="1.09" fill="#c5163a"/><circle cx="162.8" cy="548.7" r="1.09" fill="#c5163a"/><circle cx="159.5" cy="558.2" r="1.09" fill="#c5163a"/><circle cx="154.9" cy="563.0" r="1.09" fill="#c5163a"/><circle cx="162.2" cy="546.7" r="1.09" fill="#c5163a"/><circle cx="167.6" cy="536.2" r="1.09" fill="#c5163a"/><circle cx="170.9" cy="527.4" r="1.09" fill="#c5163a"/><circle cx="165.9" cy="529.1" r="1.09" fill="#c5163a"/><circle cx="158.3" cy="561.5" r="1.09" fill="#c5163a"/><circle cx="170.7" cy="528.4" r="1.09" fill="#c5163a"/><circle cx="158.1" cy="558.6" r="1.09" fill="#c5163a"/><circle cx="152.5" cy="570.1" r="1.09" fill="#c5163a"/><circle cx="152.1" cy="565.9" r="1.09" fill="#c5163a"/><circle cx="157.8" cy="556.7" r="1.09" fill="#c5163a"/><circle cx="153.4" cy="559.5" r="1.09" fill="#c5163a"/><circle cx="153.9" cy="567.0" r="1.09" fill="#c5163a"/><circle cx="164.9" cy="540.1" r="1.09" fill="#c5163a"/><circle cx="163.5" cy="541.1" r="1.09" fill="#c5163a"/><circle cx="154.4" cy="568.4" r="1.09" fill="#c5163a"/><circle cx="170.2" cy="534.3" r="1.09" fill="#c5163a"/><circle cx="170.4" cy="530.8" r="1.09" fill="#c5163a"/><circle cx="153.7" cy="556.9" r="1.09" fill="#c5163a"/><circle cx="153.9" cy="561.3" r="1.09" fill="#c5163a"/><circle cx="172.1" cy="536.5" r="1.09" fill="#c5163a"/><circle cx="152.1" cy="569.1" r="1.09" fill="#c5163a"/><circle cx="165.5" cy="537.0" r="1.09" fill="#c5163a"/><circle cx="160.0" cy="551.8" r="1.09" fill="#c5163a"/><circle cx="155.9" cy="564.4" r="1.09" fill="#c5163a"/><circle cx="164.8" cy="543.3" r="1.09" fill="#c5163a"/><circle cx="156.0" cy="567.0" r="1.09" fill="#c5163a"/><circle cx="158.5" cy="559.0" r="1.09" fill="#c5163a"/><circle cx="164.1" cy="537.5" r="1.09" fill="#c5163a"/><circle cx="153.9" cy="566.7" r="1.09" fill="#c5163a"/><circle cx="160.4" cy="550.9" r="1.09" fill="#c5163a"/><circle cx="167.3" cy="540.3" r="1.09" fill="#c5163a"/><circle cx="167.3" cy="540.3" r="1.09" fill="#c5163a"/><circle cx="174.0" cy="527.0" r="1.09" fill="#c5163a"/><circle cx="176.0" cy="528.5" r="1.09" fill="#c5163a"/><circle cx="183.0" cy="524.0" r="1.09" fill="#c5163a"/><circle cx="185.0" cy="525.5" r="1.09" fill="#c5163a"/><circle cx="179.0" cy="535.0" r="1.09" fill="#c5163a"/><circle cx="180.0" cy="537.0" r="1.09" fill="#c5163a"/><circle cx="168.0" cy="534.0" r="1.09" fill="#c5163a"/><circle cx="164.0" cy="543.0" r="1.09" fill="#c5163a"/><circle cx="174.0" cy="526.0" r="1.15" fill="#111"/><circle cx="175.5" cy="529.0" r="1.15" fill="#111"/><circle cx="189.0" cy="526.5" r="1.15" fill="#111"/><circle cx="186.0" cy="528.0" r="1.15" fill="#111"/><circle cx="178.5" cy="533.0" r="1.15" fill="#111"/><circle cx="180.5" cy="537.5" r="1.15" fill="#111"/><circle cx="166.0" cy="533.0" r="1.15" fill="#111"/><circle cx="170.0" cy="537.0" r="1.15" fill="#111"/><line x1="171" y1="514.5" x2="173.5" y2="525" stroke="#222" stroke-width="0.5"/><line x1="161" y1="520.5" x2="175" y2="528" stroke="#222" stroke-width="0.5"/><line x1="162" y1="530" x2="167" y2="533" stroke="#222" stroke-width="0.5"/><line x1="186" y1="527" x2="192" y2="527" stroke="#222" stroke-width="0.5"/><line x1="178" y1="530" x2="183" y2="524" stroke="#222" stroke-width="0.5"/><line x1="181" y1="538" x2="179.5" y2="541" stroke="#222" stroke-width="0.5"/><text x="171.00" y="514.30" font-size="6.7" text-anchor="middle" fill="#1a1a1a" >Runx1</text><text x="155.40" y="521.30" font-size="6.7" text-anchor="middle" fill="#1a1a1a" >Runx3</text><text x="181.60" y="522.50" font-size="6.7" text-anchor="middle" fill="#1a1a1a" >Tcf1</text><text x="201.50" y="529.50" font-size="6.7" text-anchor="middle" fill="#1a1a1a" >Runx2</text><text x="158.00" y="530.20" font-size="6.7" text-anchor="middle" fill="#1a1a1a" >Tcf7l1</text><text x="195.00" y="537.10" font-size="6.7" text-anchor="middle" fill="#1a1a1a" >Tcf7l2</text><text x="159.50" y="537.50" font-size="6.7" text-anchor="middle" fill="#1a1a1a" >Rbpjl</text><text x="185.00" y="543.70" font-size="6.7" text-anchor="middle" fill="#1a1a1a" >Lef1</text><text x="161.00" y="548.50" font-size="6.7" text-anchor="middle" fill="#1a1a1a" >Tcf4</text><text x="59.30" y="539.80" font-size="6.7" text-anchor="middle" fill="#1a1a1a" >Cebpγ</text><text x="82.00" y="542.70" font-size="6.7" text-anchor="middle" fill="#1a1a1a" >Cebpε</text><text x="72.50" y="551.70" font-size="6.7" text-anchor="middle" fill="#1a1a1a" >Cebpβ</text><text x="100.00" y="552.30" font-size="6.7" text-anchor="middle" fill="#1a1a1a" >Cebpδ</text><text x="109.70" y="560.40" font-size="6.7" text-anchor="middle" fill="#1a1a1a" >Cebpα</text><text x="118.00" y="589.80" font-size="6.7" text-anchor="middle" fill="#1a1a1a" >Pax5</text><line x1="317" y1="493.5" x2="317" y2="678.6" stroke="#111" stroke-width="1.1"/><line x1="316.5" y1="678.4" x2="512.7" y2="678.4" stroke="#111" stroke-width="1.1"/><line x1="314" y1="670.0" x2="317" y2="670.0" stroke="#111" stroke-width="0.8"/><text x="312.50" y="672.90" font-size="8.3" text-anchor="end" fill="#1a1a1a" >0</text><line x1="314" y1="628.0" x2="317" y2="628.0" stroke="#111" stroke-width="0.8"/><text x="312.50" y="630.90" font-size="8.3" text-anchor="end" fill="#1a1a1a" >50</text><line x1="314" y1="586.0" x2="317" y2="586.0" stroke="#111" stroke-width="0.8"/><text x="312.50" y="588.90" font-size="8.3" text-anchor="end" fill="#1a1a1a" >100</text><line x1="314" y1="544.0" x2="317" y2="544.0" stroke="#111" stroke-width="0.8"/><text x="312.50" y="546.90" font-size="8.3" text-anchor="end" fill="#1a1a1a" >150</text><line x1="314" y1="502.0" x2="317" y2="502.0" stroke="#111" stroke-width="0.8"/><text x="312.50" y="504.90" font-size="8.3" text-anchor="end" fill="#1a1a1a" >200</text><line x1="325.5" y1="678.4" x2="325.5" y2="681.4" stroke="#111" stroke-width="0.8"/><text x="325.50" y="691.40" font-size="8.6" text-anchor="middle" fill="#1a1a1a" textLength="13.5" lengthAdjust="spacingAndGlyphs" >−0.6</text><line x1="370.1" y1="678.4" x2="370.1" y2="681.4" stroke="#111" stroke-width="0.8"/><text x="370.10" y="691.40" font-size="8.6" text-anchor="middle" fill="#1a1a1a" textLength="13.5" lengthAdjust="spacingAndGlyphs" >−0.3</text><line x1="414.7" y1="678.4" x2="414.7" y2="681.4" stroke="#111" stroke-width="0.8"/><text x="414.70" y="691.40" font-size="8.6" text-anchor="middle" fill="#1a1a1a" textLength="10.5" lengthAdjust="spacingAndGlyphs" >0.0</text><line x1="459.3" y1="678.4" x2="459.3" y2="681.4" stroke="#111" stroke-width="0.8"/><text x="459.30" y="691.40" font-size="8.6" text-anchor="middle" fill="#1a1a1a" textLength="10.5" lengthAdjust="spacingAndGlyphs" >0.3</text><line x1="503.9" y1="678.4" x2="503.9" y2="681.4" stroke="#111" stroke-width="0.8"/><text x="503.90" y="691.40" font-size="8.6" text-anchor="middle" fill="#1a1a1a" textLength="10.5" lengthAdjust="spacingAndGlyphs" >0.6</text><text x="414.70" y="703.20" font-size="9.4" text-anchor="middle" fill="#1a1a1a" textLength="84" lengthAdjust="spacingAndGlyphs" >Differential binding score</text><text x="289.6" y="585.7" font-size="8" text-anchor="middle" fill="#1a1a1a" transform="rotate(-90 289.6 585.7)" dy="2.8" textLength="49" lengthAdjust="spacingAndGlyphs">−log<tspan font-size="5.5" dy="1.5">10</tspan><tspan dy="-1.5"> p-value</tspan></text><text x="321" y="489.2" font-size="10" fill="#111" textLength="191" lengthAdjust="spacingAndGlyphs">ATAC-seq footprinting <tspan fill="#c5163a" font-style="italic">N1IC</tspan> vs <tspan fill="#1f5b8e" font-style="italic">N1ICTcf7</tspan><tspan fill="#1f5b8e" font-size="6.5" dy="-3.8">Δ/Δ</tspan></text><path d="M406.5 602.6a0.8 0.8 0 1 0 1.6 0a0.8 0.8 0 1 0 -1.6 0M410.0 631.6a0.8 0.8 0 1 0 1.6 0a0.8 0.8 0 1 0 -1.6 0M404.1 587.0a0.8 0.8 0 1 0 1.6 0a0.8 0.8 0 1 0 -1.6 0M419.4 607.8a0.8 0.8 0 1 0 1.6 0a0.8 0.8 0 1 0 -1.6 0M410.2 624.9a0.8 0.8 0 1 0 1.6 0a0.8 0.8 0 1 0 -1.6 0M406.5 586.1a0.8 0.8 0 1 0 1.6 0a0.8 0.8 0 1 0 -1.6 0M405.8 599.6a0.8 0.8 0 1 0 1.6 0a0.8 0.8 0 1 0 -1.6 0M414.6 668.2a0.8 0.8 0 1 0 1.6 0a0.8 0.8 0 1 0 -1.6 0M402.7 576.2a0.8 0.8 0 1 0 1.6 0a0.8 0.8 0 1 0 -1.6 0M424.7 580.9a0.8 0.8 0 1 0 1.6 0a0.8 0.8 0 1 0 -1.6 0M410.0 626.6a0.8 0.8 0 1 0 1.6 0a0.8 0.8 0 1 0 -1.6 0M416.4 654.6a0.8 0.8 0 1 0 1.6 0a0.8 0.8 0 1 0 -1.6 0M415.0 665.2a0.8 0.8 0 1 0 1.6 0a0.8 0.8 0 1 0 -1.6 0M410.7 627.1a0.8 0.8 0 1 0 1.6 0a0.8 0.8 0 1 0 -1.6 0M419.3 625.1a0.8 0.8 0 1 0 1.6 0a0.8 0.8 0 1 0 -1.6 0M425.4 579.0a0.8 0.8 0 1 0 1.6 0a0.8 0.8 0 1 0 -1.6 0M420.6 607.6a0.8 0.8 0 1 0 1.6 0a0.8 0.8 0 1 0 -1.6 0M423.0 606.6a0.8 0.8 0 1 0 1.6 0a0.8 0.8 0 1 0 -1.6 0M411.5 645.9a0.8 0.8 0 1 0 1.6 0a0.8 0.8 0 1 0 -1.6 0M421.0 623.0a0.8 0.8 0 1 0 1.6 0a0.8 0.8 0 1 0 -1.6 0M403.3 585.7a0.8 0.8 0 1 0 1.6 0a0.8 0.8 0 1 0 -1.6 0M409.9 626.2a0.8 0.8 0 1 0 1.6 0a0.8 0.8 0 1 0 -1.6 0M406.2 590.9a0.8 0.8 0 1 0 1.6 0a0.8 0.8 0 1 0 -1.6 0M406.9 598.7a0.8 0.8 0 1 0 1.6 0a0.8 0.8 0 1 0 -1.6 0M411.0 641.7a0.8 0.8 0 1 0 1.6 0a0.8 0.8 0 1 0 -1.6 0M410.0 622.9a0.8 0.8 0 1 0 1.6 0a0.8 0.8 0 1 0 -1.6 0M410.2 641.1a0.8 0.8 0 1 0 1.6 0a0.8 0.8 0 1 0 -1.6 0M403.1 572.0a0.8 0.8 0 1 0 1.6 0a0.8 0.8 0 1 0 -1.6 0M402.6 575.3a0.8 0.8 0 1 0 1.6 0a0.8 0.8 0 1 0 -1.6 0M425.5 584.2a0.8 0.8 0 1 0 1.6 0a0.8 0.8 0 1 0 -1.6 0M411.5 642.5a0.8 0.8 0 1 0 1.6 0a0.8 0.8 0 1 0 -1.6 0M413.7 669.1a0.8 0.8 0 1 0 1.6 0a0.8 0.8 0 1 0 -1.6 0M410.2 606.6a0.8 0.8 0 1 0 1.6 0a0.8 0.8 0 1 0 -1.6 0M413.7 667.5a0.8 0.8 0 1 0 1.6 0a0.8 0.8 0 1 0 -1.6 0M405.7 589.3a0.8 0.8 0 1 0 1.6 0a0.8 0.8 0 1 0 -1.6 0M407.5 616.0a0.8 0.8 0 1 0 1.6 0a0.8 0.8 0 1 0 -1.6 0M406.9 605.7a0.8 0.8 0 1 0 1.6 0a0.8 0.8 0 1 0 -1.6 0M417.3 654.7a0.8 0.8 0 1 0 1.6 0a0.8 0.8 0 1 0 -1.6 0M403.3 580.5a0.8 0.8 0 1 0 1.6 0a0.8 0.8 0 1 0 -1.6 0M408.3 598.7a0.8 0.8 0 1 0 1.6 0a0.8 0.8 0 1 0 -1.6 0M416.5 649.9a0.8 0.8 0 1 0 1.6 0a0.8 0.8 0 1 0 -1.6 0M423.3 604.7a0.8 0.8 0 1 0 1.6 0a0.8 0.8 0 1 0 -1.6 0M402.9 579.2a0.8 0.8 0 1 0 1.6 0a0.8 0.8 0 1 0 -1.6 0M402.7 569.6a0.8 0.8 0 1 0 1.6 0a0.8 0.8 0 1 0 -1.6 0M424.8 611.2a0.8 0.8 0 1 0 1.6 0a0.8 0.8 0 1 0 -1.6 0M417.5 630.7a0.8 0.8 0 1 0 1.6 0a0.8 0.8 0 1 0 -1.6 0M425.0 585.2a0.8 0.8 0 1 0 1.6 0a0.8 0.8 0 1 0 -1.6 0M409.6 632.2a0.8 0.8 0 1 0 1.6 0a0.8 0.8 0 1 0 -1.6 0M422.8 617.0a0.8 0.8 0 1 0 1.6 0a0.8 0.8 0 1 0 -1.6 0M423.4 594.9a0.8 0.8 0 1 0 1.6 0a0.8 0.8 0 1 0 -1.6 0M420.4 584.3a0.8 0.8 0 1 0 1.6 0a0.8 0.8 0 1 0 -1.6 0M413.1 659.9a0.8 0.8 0 1 0 1.6 0a0.8 0.8 0 1 0 -1.6 0M411.6 638.0a0.8 0.8 0 1 0 1.6 0a0.8 0.8 0 1 0 -1.6 0M406.7 606.2a0.8 0.8 0 1 0 1.6 0a0.8 0.8 0 1 0 -1.6 0M408.1 615.2a0.8 0.8 0 1 0 1.6 0a0.8 0.8 0 1 0 -1.6 0M409.3 628.3a0.8 0.8 0 1 0 1.6 0a0.8 0.8 0 1 0 -1.6 0M406.6 599.8a0.8 0.8 0 1 0 1.6 0a0.8 0.8 0 1 0 -1.6 0M406.5 598.7a0.8 0.8 0 1 0 1.6 0a0.8 0.8 0 1 0 -1.6 0M423.0 608.0a0.8 0.8 0 1 0 1.6 0a0.8 0.8 0 1 0 -1.6 0M408.6 620.0a0.8 0.8 0 1 0 1.6 0a0.8 0.8 0 1 0 -1.6 0M412.2 651.6a0.8 0.8 0 1 0 1.6 0a0.8 0.8 0 1 0 -1.6 0M410.4 636.4a0.8 0.8 0 1 0 1.6 0a0.8 0.8 0 1 0 -1.6 0M414.2 669.3a0.8 0.8 0 1 0 1.6 0a0.8 0.8 0 1 0 -1.6 0M409.9 625.7a0.8 0.8 0 1 0 1.6 0a0.8 0.8 0 1 0 -1.6 0M401.4 575.8a0.8 0.8 0 1 0 1.6 0a0.8 0.8 0 1 0 -1.6 0M409.2 622.4a0.8 0.8 0 1 0 1.6 0a0.8 0.8 0 1 0 -1.6 0M423.6 590.7a0.8 0.8 0 1 0 1.6 0a0.8 0.8 0 1 0 -1.6 0M425.8 591.8a0.8 0.8 0 1 0 1.6 0a0.8 0.8 0 1 0 -1.6 0M408.3 614.9a0.8 0.8 0 1 0 1.6 0a0.8 0.8 0 1 0 -1.6 0M419.9 607.6a0.8 0.8 0 1 0 1.6 0a0.8 0.8 0 1 0 -1.6 0M419.8 617.9a0.8 0.8 0 1 0 1.6 0a0.8 0.8 0 1 0 -1.6 0M417.0 639.7a0.8 0.8 0 1 0 1.6 0a0.8 0.8 0 1 0 -1.6 0M410.3 633.0a0.8 0.8 0 1 0 1.6 0a0.8 0.8 0 1 0 -1.6 0M408.5 614.2a0.8 0.8 0 1 0 1.6 0a0.8 0.8 0 1 0 -1.6 0M413.7 665.3a0.8 0.8 0 1 0 1.6 0a0.8 0.8 0 1 0 -1.6 0M419.7 613.7a0.8 0.8 0 1 0 1.6 0a0.8 0.8 0 1 0 -1.6 0M404.6 580.5a0.8 0.8 0 1 0 1.6 0a0.8 0.8 0 1 0 -1.6 0M406.5 604.3a0.8 0.8 0 1 0 1.6 0a0.8 0.8 0 1 0 -1.6 0M421.3 612.8a0.8 0.8 0 1 0 1.6 0a0.8 0.8 0 1 0 -1.6 0M416.4 645.2a0.8 0.8 0 1 0 1.6 0a0.8 0.8 0 1 0 -1.6 0M409.8 631.1a0.8 0.8 0 1 0 1.6 0a0.8 0.8 0 1 0 -1.6 0M416.5 654.0a0.8 0.8 0 1 0 1.6 0a0.8 0.8 0 1 0 -1.6 0M412.1 643.9a0.8 0.8 0 1 0 1.6 0a0.8 0.8 0 1 0 -1.6 0M404.1 584.4a0.8 0.8 0 1 0 1.6 0a0.8 0.8 0 1 0 -1.6 0M421.2 592.7a0.8 0.8 0 1 0 1.6 0a0.8 0.8 0 1 0 -1.6 0M413.2 655.9a0.8 0.8 0 1 0 1.6 0a0.8 0.8 0 1 0 -1.6 0M424.5 591.6a0.8 0.8 0 1 0 1.6 0a0.8 0.8 0 1 0 -1.6 0M412.0 638.4a0.8 0.8 0 1 0 1.6 0a0.8 0.8 0 1 0 -1.6 0M412.7 652.5a0.8 0.8 0 1 0 1.6 0a0.8 0.8 0 1 0 -1.6 0M412.8 650.5a0.8 0.8 0 1 0 1.6 0a0.8 0.8 0 1 0 -1.6 0M411.4 638.0a0.8 0.8 0 1 0 1.6 0a0.8 0.8 0 1 0 -1.6 0M405.4 599.8a0.8 0.8 0 1 0 1.6 0a0.8 0.8 0 1 0 -1.6 0M408.4 624.0a0.8 0.8 0 1 0 1.6 0a0.8 0.8 0 1 0 -1.6 0M419.5 622.5a0.8 0.8 0 1 0 1.6 0a0.8 0.8 0 1 0 -1.6 0M418.6 626.0a0.8 0.8 0 1 0 1.6 0a0.8 0.8 0 1 0 -1.6 0M408.0 617.1a0.8 0.8 0 1 0 1.6 0a0.8 0.8 0 1 0 -1.6 0M418.1 643.8a0.8 0.8 0 1 0 1.6 0a0.8 0.8 0 1 0 -1.6 0M421.0 605.0a0.8 0.8 0 1 0 1.6 0a0.8 0.8 0 1 0 -1.6 0M420.2 605.8a0.8 0.8 0 1 0 1.6 0a0.8 0.8 0 1 0 -1.6 0M423.5 599.1a0.8 0.8 0 1 0 1.6 0a0.8 0.8 0 1 0 -1.6 0M415.8 657.8a0.8 0.8 0 1 0 1.6 0a0.8 0.8 0 1 0 -1.6 0M413.6 664.2a0.8 0.8 0 1 0 1.6 0a0.8 0.8 0 1 0 -1.6 0M412.1 644.4a0.8 0.8 0 1 0 1.6 0a0.8 0.8 0 1 0 -1.6 0M427.3 579.2a0.8 0.8 0 1 0 1.6 0a0.8 0.8 0 1 0 -1.6 0M423.0 599.7a0.8 0.8 0 1 0 1.6 0a0.8 0.8 0 1 0 -1.6 0M403.0 575.1a0.8 0.8 0 1 0 1.6 0a0.8 0.8 0 1 0 -1.6 0M412.1 648.8a0.8 0.8 0 1 0 1.6 0a0.8 0.8 0 1 0 -1.6 0M410.4 637.6a0.8 0.8 0 1 0 1.6 0a0.8 0.8 0 1 0 -1.6 0M412.8 661.1a0.8 0.8 0 1 0 1.6 0a0.8 0.8 0 1 0 -1.6 0M419.8 598.0a0.8 0.8 0 1 0 1.6 0a0.8 0.8 0 1 0 -1.6 0M417.6 635.9a0.8 0.8 0 1 0 1.6 0a0.8 0.8 0 1 0 -1.6 0M425.4 607.1a0.8 0.8 0 1 0 1.6 0a0.8 0.8 0 1 0 -1.6 0M411.2 646.6a0.8 0.8 0 1 0 1.6 0a0.8 0.8 0 1 0 -1.6 0M423.0 598.8a0.8 0.8 0 1 0 1.6 0a0.8 0.8 0 1 0 -1.6 0M411.3 630.9a0.8 0.8 0 1 0 1.6 0a0.8 0.8 0 1 0 -1.6 0M411.4 650.0a0.8 0.8 0 1 0 1.6 0a0.8 0.8 0 1 0 -1.6 0M419.5 619.6a0.8 0.8 0 1 0 1.6 0a0.8 0.8 0 1 0 -1.6 0M407.7 607.2a0.8 0.8 0 1 0 1.6 0a0.8 0.8 0 1 0 -1.6 0M409.4 614.6a0.8 0.8 0 1 0 1.6 0a0.8 0.8 0 1 0 -1.6 0M409.4 627.1a0.8 0.8 0 1 0 1.6 0a0.8 0.8 0 1 0 -1.6 0M405.3 594.5a0.8 0.8 0 1 0 1.6 0a0.8 0.8 0 1 0 -1.6 0M407.1 608.9a0.8 0.8 0 1 0 1.6 0a0.8 0.8 0 1 0 -1.6 0M418.1 634.4a0.8 0.8 0 1 0 1.6 0a0.8 0.8 0 1 0 -1.6 0M418.7 638.9a0.8 0.8 0 1 0 1.6 0a0.8 0.8 0 1 0 -1.6 0M409.5 622.9a0.8 0.8 0 1 0 1.6 0a0.8 0.8 0 1 0 -1.6 0M411.3 637.0a0.8 0.8 0 1 0 1.6 0a0.8 0.8 0 1 0 -1.6 0M410.9 634.1a0.8 0.8 0 1 0 1.6 0a0.8 0.8 0 1 0 -1.6 0M406.4 602.6a0.8 0.8 0 1 0 1.6 0a0.8 0.8 0 1 0 -1.6 0M408.4 617.1a0.8 0.8 0 1 0 1.6 0a0.8 0.8 0 1 0 -1.6 0M415.2 660.5a0.8 0.8 0 1 0 1.6 0a0.8 0.8 0 1 0 -1.6 0M406.2 587.0a0.8 0.8 0 1 0 1.6 0a0.8 0.8 0 1 0 -1.6 0M409.4 625.1a0.8 0.8 0 1 0 1.6 0a0.8 0.8 0 1 0 -1.6 0M404.3 583.8a0.8 0.8 0 1 0 1.6 0a0.8 0.8 0 1 0 -1.6 0M422.4 610.1a0.8 0.8 0 1 0 1.6 0a0.8 0.8 0 1 0 -1.6 0M420.9 625.0a0.8 0.8 0 1 0 1.6 0a0.8 0.8 0 1 0 -1.6 0M418.3 633.1a0.8 0.8 0 1 0 1.6 0a0.8 0.8 0 1 0 -1.6 0M410.2 633.2a0.8 0.8 0 1 0 1.6 0a0.8 0.8 0 1 0 -1.6 0M407.2 616.1a0.8 0.8 0 1 0 1.6 0a0.8 0.8 0 1 0 -1.6 0M418.8 622.8a0.8 0.8 0 1 0 1.6 0a0.8 0.8 0 1 0 -1.6 0M417.0 636.6a0.8 0.8 0 1 0 1.6 0a0.8 0.8 0 1 0 -1.6 0M414.0 667.5a0.8 0.8 0 1 0 1.6 0a0.8 0.8 0 1 0 -1.6 0M401.1 570.9a0.8 0.8 0 1 0 1.6 0a0.8 0.8 0 1 0 -1.6 0M416.2 655.7a0.8 0.8 0 1 0 1.6 0a0.8 0.8 0 1 0 -1.6 0M411.2 643.4a0.8 0.8 0 1 0 1.6 0a0.8 0.8 0 1 0 -1.6 0M413.7 664.7a0.8 0.8 0 1 0 1.6 0a0.8 0.8 0 1 0 -1.6 0M412.6 653.8a0.8 0.8 0 1 0 1.6 0a0.8 0.8 0 1 0 -1.6 0M403.5 584.7a0.8 0.8 0 1 0 1.6 0a0.8 0.8 0 1 0 -1.6 0M426.5 582.2a0.8 0.8 0 1 0 1.6 0a0.8 0.8 0 1 0 -1.6 0M412.4 646.6a0.8 0.8 0 1 0 1.6 0a0.8 0.8 0 1 0 -1.6 0M417.8 620.3a0.8 0.8 0 1 0 1.6 0a0.8 0.8 0 1 0 -1.6 0M412.8 650.7a0.8 0.8 0 1 0 1.6 0a0.8 0.8 0 1 0 -1.6 0M421.2 595.5a0.8 0.8 0 1 0 1.6 0a0.8 0.8 0 1 0 -1.6 0M408.6 615.3a0.8 0.8 0 1 0 1.6 0a0.8 0.8 0 1 0 -1.6 0M416.1 652.6a0.8 0.8 0 1 0 1.6 0a0.8 0.8 0 1 0 -1.6 0M422.2 591.0a0.8 0.8 0 1 0 1.6 0a0.8 0.8 0 1 0 -1.6 0M408.2 619.4a0.8 0.8 0 1 0 1.6 0a0.8 0.8 0 1 0 -1.6 0M411.1 629.0a0.8 0.8 0 1 0 1.6 0a0.8 0.8 0 1 0 -1.6 0M408.7 612.4a0.8 0.8 0 1 0 1.6 0a0.8 0.8 0 1 0 -1.6 0M421.5 585.7a0.8 0.8 0 1 0 1.6 0a0.8 0.8 0 1 0 -1.6 0M418.0 635.0a0.8 0.8 0 1 0 1.6 0a0.8 0.8 0 1 0 -1.6 0M414.5 667.7a0.8 0.8 0 1 0 1.6 0a0.8 0.8 0 1 0 -1.6 0M422.4 576.8a0.8 0.8 0 1 0 1.6 0a0.8 0.8 0 1 0 -1.6 0M410.2 628.3a0.8 0.8 0 1 0 1.6 0a0.8 0.8 0 1 0 -1.6 0M403.5 590.4a0.8 0.8 0 1 0 1.6 0a0.8 0.8 0 1 0 -1.6 0M422.7 588.2a0.8 0.8 0 1 0 1.6 0a0.8 0.8 0 1 0 -1.6 0M413.1 661.6a0.8 0.8 0 1 0 1.6 0a0.8 0.8 0 1 0 -1.6 0M413.7 665.6a0.8 0.8 0 1 0 1.6 0a0.8 0.8 0 1 0 -1.6 0M415.7 657.4a0.8 0.8 0 1 0 1.6 0a0.8 0.8 0 1 0 -1.6 0M421.3 619.9a0.8 0.8 0 1 0 1.6 0a0.8 0.8 0 1 0 -1.6 0M429.2 578.0a0.8 0.8 0 1 0 1.6 0a0.8 0.8 0 1 0 -1.6 0M409.7 628.7a0.8 0.8 0 1 0 1.6 0a0.8 0.8 0 1 0 -1.6 0M420.8 604.0a0.8 0.8 0 1 0 1.6 0a0.8 0.8 0 1 0 -1.6 0M423.4 592.5a0.8 0.8 0 1 0 1.6 0a0.8 0.8 0 1 0 -1.6 0M418.1 629.2a0.8 0.8 0 1 0 1.6 0a0.8 0.8 0 1 0 -1.6 0M413.7 667.9a0.8 0.8 0 1 0 1.6 0a0.8 0.8 0 1 0 -1.6 0M408.4 619.8a0.8 0.8 0 1 0 1.6 0a0.8 0.8 0 1 0 -1.6 0M410.2 636.7a0.8 0.8 0 1 0 1.6 0a0.8 0.8 0 1 0 -1.6 0M401.6 568.8a0.8 0.8 0 1 0 1.6 0a0.8 0.8 0 1 0 -1.6 0M418.0 641.9a0.8 0.8 0 1 0 1.6 0a0.8 0.8 0 1 0 -1.6 0M414.7 664.6a0.8 0.8 0 1 0 1.6 0a0.8 0.8 0 1 0 -1.6 0M402.0 574.5a0.8 0.8 0 1 0 1.6 0a0.8 0.8 0 1 0 -1.6 0M412.6 657.5a0.8 0.8 0 1 0 1.6 0a0.8 0.8 0 1 0 -1.6 0M415.1 663.8a0.8 0.8 0 1 0 1.6 0a0.8 0.8 0 1 0 -1.6 0M423.4 606.1a0.8 0.8 0 1 0 1.6 0a0.8 0.8 0 1 0 -1.6 0M418.9 596.7a0.8 0.8 0 1 0 1.6 0a0.8 0.8 0 1 0 -1.6 0M413.7 664.7a0.8 0.8 0 1 0 1.6 0a0.8 0.8 0 1 0 -1.6 0M422.7 587.1a0.8 0.8 0 1 0 1.6 0a0.8 0.8 0 1 0 -1.6 0M411.6 647.5a0.8 0.8 0 1 0 1.6 0a0.8 0.8 0 1 0 -1.6 0M412.7 660.4a0.8 0.8 0 1 0 1.6 0a0.8 0.8 0 1 0 -1.6 0M420.3 621.6a0.8 0.8 0 1 0 1.6 0a0.8 0.8 0 1 0 -1.6 0M419.7 626.0a0.8 0.8 0 1 0 1.6 0a0.8 0.8 0 1 0 -1.6 0M420.4 590.4a0.8 0.8 0 1 0 1.6 0a0.8 0.8 0 1 0 -1.6 0M421.6 614.5a0.8 0.8 0 1 0 1.6 0a0.8 0.8 0 1 0 -1.6 0M412.9 654.2a0.8 0.8 0 1 0 1.6 0a0.8 0.8 0 1 0 -1.6 0M410.2 627.8a0.8 0.8 0 1 0 1.6 0a0.8 0.8 0 1 0 -1.6 0M403.7 568.8a0.8 0.8 0 1 0 1.6 0a0.8 0.8 0 1 0 -1.6 0M418.7 621.4a0.8 0.8 0 1 0 1.6 0a0.8 0.8 0 1 0 -1.6 0M403.0 571.3a0.8 0.8 0 1 0 1.6 0a0.8 0.8 0 1 0 -1.6 0M420.9 608.8a0.8 0.8 0 1 0 1.6 0a0.8 0.8 0 1 0 -1.6 0M412.4 652.9a0.8 0.8 0 1 0 1.6 0a0.8 0.8 0 1 0 -1.6 0M407.9 609.8a0.8 0.8 0 1 0 1.6 0a0.8 0.8 0 1 0 -1.6 0M420.4 624.4a0.8 0.8 0 1 0 1.6 0a0.8 0.8 0 1 0 -1.6 0M417.0 655.0a0.8 0.8 0 1 0 1.6 0a0.8 0.8 0 1 0 -1.6 0M424.1 604.8a0.8 0.8 0 1 0 1.6 0a0.8 0.8 0 1 0 -1.6 0M416.4 656.0a0.8 0.8 0 1 0 1.6 0a0.8 0.8 0 1 0 -1.6 0M415.7 656.2a0.8 0.8 0 1 0 1.6 0a0.8 0.8 0 1 0 -1.6 0M408.1 613.7a0.8 0.8 0 1 0 1.6 0a0.8 0.8 0 1 0 -1.6 0M413.8 661.9a0.8 0.8 0 1 0 1.6 0a0.8 0.8 0 1 0 -1.6 0M412.3 642.1a0.8 0.8 0 1 0 1.6 0a0.8 0.8 0 1 0 -1.6 0M418.2 629.9a0.8 0.8 0 1 0 1.6 0a0.8 0.8 0 1 0 -1.6 0M404.9 584.8a0.8 0.8 0 1 0 1.6 0a0.8 0.8 0 1 0 -1.6 0M404.5 581.6a0.8 0.8 0 1 0 1.6 0a0.8 0.8 0 1 0 -1.6 0M413.5 663.6a0.8 0.8 0 1 0 1.6 0a0.8 0.8 0 1 0 -1.6 0M415.7 656.8a0.8 0.8 0 1 0 1.6 0a0.8 0.8 0 1 0 -1.6 0M411.3 648.7a0.8 0.8 0 1 0 1.6 0a0.8 0.8 0 1 0 -1.6 0M421.4 619.6a0.8 0.8 0 1 0 1.6 0a0.8 0.8 0 1 0 -1.6 0M412.3 652.0a0.8 0.8 0 1 0 1.6 0a0.8 0.8 0 1 0 -1.6 0M414.8 667.6a0.8 0.8 0 1 0 1.6 0a0.8 0.8 0 1 0 -1.6 0M402.9 571.6a0.8 0.8 0 1 0 1.6 0a0.8 0.8 0 1 0 -1.6 0M403.9 578.9a0.8 0.8 0 1 0 1.6 0a0.8 0.8 0 1 0 -1.6 0M406.9 596.1a0.8 0.8 0 1 0 1.6 0a0.8 0.8 0 1 0 -1.6 0M408.3 609.0a0.8 0.8 0 1 0 1.6 0a0.8 0.8 0 1 0 -1.6 0M418.1 587.3a0.8 0.8 0 1 0 1.6 0a0.8 0.8 0 1 0 -1.6 0M404.1 572.7a0.8 0.8 0 1 0 1.6 0a0.8 0.8 0 1 0 -1.6 0M426.9 576.1a0.8 0.8 0 1 0 1.6 0a0.8 0.8 0 1 0 -1.6 0M425.2 586.7a0.8 0.8 0 1 0 1.6 0a0.8 0.8 0 1 0 -1.6 0M405.1 591.3a0.8 0.8 0 1 0 1.6 0a0.8 0.8 0 1 0 -1.6 0M413.9 669.3a0.8 0.8 0 1 0 1.6 0a0.8 0.8 0 1 0 -1.6 0M402.0 574.4a0.8 0.8 0 1 0 1.6 0a0.8 0.8 0 1 0 -1.6 0M416.7 633.0a0.8 0.8 0 1 0 1.6 0a0.8 0.8 0 1 0 -1.6 0M421.2 608.4a0.8 0.8 0 1 0 1.6 0a0.8 0.8 0 1 0 -1.6 0M415.7 655.2a0.8 0.8 0 1 0 1.6 0a0.8 0.8 0 1 0 -1.6 0M406.3 599.5a0.8 0.8 0 1 0 1.6 0a0.8 0.8 0 1 0 -1.6 0M410.2 639.5a0.8 0.8 0 1 0 1.6 0a0.8 0.8 0 1 0 -1.6 0M414.9 665.6a0.8 0.8 0 1 0 1.6 0a0.8 0.8 0 1 0 -1.6 0M410.6 637.9a0.8 0.8 0 1 0 1.6 0a0.8 0.8 0 1 0 -1.6 0M416.3 653.6a0.8 0.8 0 1 0 1.6 0a0.8 0.8 0 1 0 -1.6 0M407.4 606.1a0.8 0.8 0 1 0 1.6 0a0.8 0.8 0 1 0 -1.6 0M414.1 669.4a0.8 0.8 0 1 0 1.6 0a0.8 0.8 0 1 0 -1.6 0M410.7 634.8a0.8 0.8 0 1 0 1.6 0a0.8 0.8 0 1 0 -1.6 0M409.6 626.6a0.8 0.8 0 1 0 1.6 0a0.8 0.8 0 1 0 -1.6 0M403.4 574.9a0.8 0.8 0 1 0 1.6 0a0.8 0.8 0 1 0 -1.6 0M426.7 577.5a0.8 0.8 0 1 0 1.6 0a0.8 0.8 0 1 0 -1.6 0M412.7 658.8a0.8 0.8 0 1 0 1.6 0a0.8 0.8 0 1 0 -1.6 0M421.7 605.6a0.8 0.8 0 1 0 1.6 0a0.8 0.8 0 1 0 -1.6 0M419.4 619.6a0.8 0.8 0 1 0 1.6 0a0.8 0.8 0 1 0 -1.6 0M412.6 648.4a0.8 0.8 0 1 0 1.6 0a0.8 0.8 0 1 0 -1.6 0M413.3 661.7a0.8 0.8 0 1 0 1.6 0a0.8 0.8 0 1 0 -1.6 0M417.6 636.9a0.8 0.8 0 1 0 1.6 0a0.8 0.8 0 1 0 -1.6 0M408.8 619.0a0.8 0.8 0 1 0 1.6 0a0.8 0.8 0 1 0 -1.6 0M412.5 650.9a0.8 0.8 0 1 0 1.6 0a0.8 0.8 0 1 0 -1.6 0M413.7 663.6a0.8 0.8 0 1 0 1.6 0a0.8 0.8 0 1 0 -1.6 0M413.5 664.8a0.8 0.8 0 1 0 1.6 0a0.8 0.8 0 1 0 -1.6 0M420.8 580.5a0.8 0.8 0 1 0 1.6 0a0.8 0.8 0 1 0 -1.6 0M409.5 626.8a0.8 0.8 0 1 0 1.6 0a0.8 0.8 0 1 0 -1.6 0M414.7 666.2a0.8 0.8 0 1 0 1.6 0a0.8 0.8 0 1 0 -1.6 0M422.3 606.4a0.8 0.8 0 1 0 1.6 0a0.8 0.8 0 1 0 -1.6 0M424.9 579.3a0.8 0.8 0 1 0 1.6 0a0.8 0.8 0 1 0 -1.6 0M419.6 615.4a0.8 0.8 0 1 0 1.6 0a0.8 0.8 0 1 0 -1.6 0M419.3 615.6a0.8 0.8 0 1 0 1.6 0a0.8 0.8 0 1 0 -1.6 0M409.3 628.5a0.8 0.8 0 1 0 1.6 0a0.8 0.8 0 1 0 -1.6 0M420.9 597.3a0.8 0.8 0 1 0 1.6 0a0.8 0.8 0 1 0 -1.6 0M406.0 596.2a0.8 0.8 0 1 0 1.6 0a0.8 0.8 0 1 0 -1.6 0M406.9 595.5a0.8 0.8 0 1 0 1.6 0a0.8 0.8 0 1 0 -1.6 0M412.9 655.0a0.8 0.8 0 1 0 1.6 0a0.8 0.8 0 1 0 -1.6 0M408.9 612.6a0.8 0.8 0 1 0 1.6 0a0.8 0.8 0 1 0 -1.6 0M419.2 629.8a0.8 0.8 0 1 0 1.6 0a0.8 0.8 0 1 0 -1.6 0M410.3 625.2a0.8 0.8 0 1 0 1.6 0a0.8 0.8 0 1 0 -1.6 0M404.9 600.0a0.8 0.8 0 1 0 1.6 0a0.8 0.8 0 1 0 -1.6 0M408.5 600.1a0.8 0.8 0 1 0 1.6 0a0.8 0.8 0 1 0 -1.6 0M430.7 577.4a0.8 0.8 0 1 0 1.6 0a0.8 0.8 0 1 0 -1.6 0M403.1 572.8a0.8 0.8 0 1 0 1.6 0a0.8 0.8 0 1 0 -1.6 0M416.8 645.9a0.8 0.8 0 1 0 1.6 0a0.8 0.8 0 1 0 -1.6 0M406.1 605.8a0.8 0.8 0 1 0 1.6 0a0.8 0.8 0 1 0 -1.6 0M406.7 602.6a0.8 0.8 0 1 0 1.6 0a0.8 0.8 0 1 0 -1.6 0M421.9 603.7a0.8 0.8 0 1 0 1.6 0a0.8 0.8 0 1 0 -1.6 0M419.4 619.6a0.8 0.8 0 1 0 1.6 0a0.8 0.8 0 1 0 -1.6 0M403.3 578.2a0.8 0.8 0 1 0 1.6 0a0.8 0.8 0 1 0 -1.6 0M404.2 577.7a0.8 0.8 0 1 0 1.6 0a0.8 0.8 0 1 0 -1.6 0M414.7 667.2a0.8 0.8 0 1 0 1.6 0a0.8 0.8 0 1 0 -1.6 0M404.4 588.2a0.8 0.8 0 1 0 1.6 0a0.8 0.8 0 1 0 -1.6 0M403.2 572.8a0.8 0.8 0 1 0 1.6 0a0.8 0.8 0 1 0 -1.6 0M406.1 601.4a0.8 0.8 0 1 0 1.6 0a0.8 0.8 0 1 0 -1.6 0M420.8 605.5a0.8 0.8 0 1 0 1.6 0a0.8 0.8 0 1 0 -1.6 0M412.0 644.9a0.8 0.8 0 1 0 1.6 0a0.8 0.8 0 1 0 -1.6 0M409.1 623.4a0.8 0.8 0 1 0 1.6 0a0.8 0.8 0 1 0 -1.6 0M424.0 589.4a0.8 0.8 0 1 0 1.6 0a0.8 0.8 0 1 0 -1.6 0M412.9 660.6a0.8 0.8 0 1 0 1.6 0a0.8 0.8 0 1 0 -1.6 0M419.1 629.3a0.8 0.8 0 1 0 1.6 0a0.8 0.8 0 1 0 -1.6 0M409.6 630.7a0.8 0.8 0 1 0 1.6 0a0.8 0.8 0 1 0 -1.6 0M419.5 623.3a0.8 0.8 0 1 0 1.6 0a0.8 0.8 0 1 0 -1.6 0M411.3 642.7a0.8 0.8 0 1 0 1.6 0a0.8 0.8 0 1 0 -1.6 0M413.2 657.8a0.8 0.8 0 1 0 1.6 0a0.8 0.8 0 1 0 -1.6 0M411.6 645.4a0.8 0.8 0 1 0 1.6 0a0.8 0.8 0 1 0 -1.6 0M407.4 606.9a0.8 0.8 0 1 0 1.6 0a0.8 0.8 0 1 0 -1.6 0M422.9 589.5a0.8 0.8 0 1 0 1.6 0a0.8 0.8 0 1 0 -1.6 0M406.7 603.7a0.8 0.8 0 1 0 1.6 0a0.8 0.8 0 1 0 -1.6 0M403.2 571.5a0.8 0.8 0 1 0 1.6 0a0.8 0.8 0 1 0 -1.6 0M418.1 628.0a0.8 0.8 0 1 0 1.6 0a0.8 0.8 0 1 0 -1.6 0M415.0 660.6a0.8 0.8 0 1 0 1.6 0a0.8 0.8 0 1 0 -1.6 0M415.5 653.5a0.8 0.8 0 1 0 1.6 0a0.8 0.8 0 1 0 -1.6 0M419.9 612.2a0.8 0.8 0 1 0 1.6 0a0.8 0.8 0 1 0 -1.6 0M403.7 586.4a0.8 0.8 0 1 0 1.6 0a0.8 0.8 0 1 0 -1.6 0M427.3 578.0a0.8 0.8 0 1 0 1.6 0a0.8 0.8 0 1 0 -1.6 0M408.8 623.4a0.8 0.8 0 1 0 1.6 0a0.8 0.8 0 1 0 -1.6 0M405.3 576.7a0.8 0.8 0 1 0 1.6 0a0.8 0.8 0 1 0 -1.6 0M419.0 630.6a0.8 0.8 0 1 0 1.6 0a0.8 0.8 0 1 0 -1.6 0M410.4 639.6a0.8 0.8 0 1 0 1.6 0a0.8 0.8 0 1 0 -1.6 0M403.7 584.7a0.8 0.8 0 1 0 1.6 0a0.8 0.8 0 1 0 -1.6 0M426.5 577.2a0.8 0.8 0 1 0 1.6 0a0.8 0.8 0 1 0 -1.6 0M406.5 599.1a0.8 0.8 0 1 0 1.6 0a0.8 0.8 0 1 0 -1.6 0M426.2 597.7a0.8 0.8 0 1 0 1.6 0a0.8 0.8 0 1 0 -1.6 0M415.7 658.5a0.8 0.8 0 1 0 1.6 0a0.8 0.8 0 1 0 -1.6 0M424.0 579.8a0.8 0.8 0 1 0 1.6 0a0.8 0.8 0 1 0 -1.6 0M408.5 620.8a0.8 0.8 0 1 0 1.6 0a0.8 0.8 0 1 0 -1.6 0M409.0 627.3a0.8 0.8 0 1 0 1.6 0a0.8 0.8 0 1 0 -1.6 0M423.4 602.6a0.8 0.8 0 1 0 1.6 0a0.8 0.8 0 1 0 -1.6 0M423.0 613.4a0.8 0.8 0 1 0 1.6 0a0.8 0.8 0 1 0 -1.6 0M416.8 645.1a0.8 0.8 0 1 0 1.6 0a0.8 0.8 0 1 0 -1.6 0M413.5 657.0a0.8 0.8 0 1 0 1.6 0a0.8 0.8 0 1 0 -1.6 0M404.0 579.6a0.8 0.8 0 1 0 1.6 0a0.8 0.8 0 1 0 -1.6 0M416.0 651.4a0.8 0.8 0 1 0 1.6 0a0.8 0.8 0 1 0 -1.6 0M414.1 669.0a0.8 0.8 0 1 0 1.6 0a0.8 0.8 0 1 0 -1.6 0M406.5 605.7a0.8 0.8 0 1 0 1.6 0a0.8 0.8 0 1 0 -1.6 0M409.4 623.1a0.8 0.8 0 1 0 1.6 0a0.8 0.8 0 1 0 -1.6 0M419.4 613.7a0.8 0.8 0 1 0 1.6 0a0.8 0.8 0 1 0 -1.6 0M421.3 600.5a0.8 0.8 0 1 0 1.6 0a0.8 0.8 0 1 0 -1.6 0M421.0 629.8a0.8 0.8 0 1 0 1.6 0a0.8 0.8 0 1 0 -1.6 0M417.9 631.0a0.8 0.8 0 1 0 1.6 0a0.8 0.8 0 1 0 -1.6 0M410.8 638.4a0.8 0.8 0 1 0 1.6 0a0.8 0.8 0 1 0 -1.6 0M419.6 612.3a0.8 0.8 0 1 0 1.6 0a0.8 0.8 0 1 0 -1.6 0M412.2 652.1a0.8 0.8 0 1 0 1.6 0a0.8 0.8 0 1 0 -1.6 0M418.4 628.0a0.8 0.8 0 1 0 1.6 0a0.8 0.8 0 1 0 -1.6 0M407.7 603.6a0.8 0.8 0 1 0 1.6 0a0.8 0.8 0 1 0 -1.6 0M419.7 635.5a0.8 0.8 0 1 0 1.6 0a0.8 0.8 0 1 0 -1.6 0M419.7 640.0a0.8 0.8 0 1 0 1.6 0a0.8 0.8 0 1 0 -1.6 0M408.1 611.2a0.8 0.8 0 1 0 1.6 0a0.8 0.8 0 1 0 -1.6 0M418.9 644.0a0.8 0.8 0 1 0 1.6 0a0.8 0.8 0 1 0 -1.6 0M413.3 661.1a0.8 0.8 0 1 0 1.6 0a0.8 0.8 0 1 0 -1.6 0M420.4 629.9a0.8 0.8 0 1 0 1.6 0a0.8 0.8 0 1 0 -1.6 0M418.2 645.9a0.8 0.8 0 1 0 1.6 0a0.8 0.8 0 1 0 -1.6 0M411.8 641.3a0.8 0.8 0 1 0 1.6 0a0.8 0.8 0 1 0 -1.6 0M407.4 607.3a0.8 0.8 0 1 0 1.6 0a0.8 0.8 0 1 0 -1.6 0M422.3 608.1a0.8 0.8 0 1 0 1.6 0a0.8 0.8 0 1 0 -1.6 0M416.3 655.0a0.8 0.8 0 1 0 1.6 0a0.8 0.8 0 1 0 -1.6 0M402.7 579.3a0.8 0.8 0 1 0 1.6 0a0.8 0.8 0 1 0 -1.6 0M407.9 619.2a0.8 0.8 0 1 0 1.6 0a0.8 0.8 0 1 0 -1.6 0M412.0 645.3a0.8 0.8 0 1 0 1.6 0a0.8 0.8 0 1 0 -1.6 0M407.5 612.8a0.8 0.8 0 1 0 1.6 0a0.8 0.8 0 1 0 -1.6 0M426.3 601.6a0.8 0.8 0 1 0 1.6 0a0.8 0.8 0 1 0 -1.6 0M402.8 585.5a0.8 0.8 0 1 0 1.6 0a0.8 0.8 0 1 0 -1.6 0M415.2 658.6a0.8 0.8 0 1 0 1.6 0a0.8 0.8 0 1 0 -1.6 0M422.6 585.0a0.8 0.8 0 1 0 1.6 0a0.8 0.8 0 1 0 -1.6 0M404.1 578.2a0.8 0.8 0 1 0 1.6 0a0.8 0.8 0 1 0 -1.6 0M414.0 669.1a0.8 0.8 0 1 0 1.6 0a0.8 0.8 0 1 0 -1.6 0M425.7 584.8a0.8 0.8 0 1 0 1.6 0a0.8 0.8 0 1 0 -1.6 0M416.0 660.4a0.8 0.8 0 1 0 1.6 0a0.8 0.8 0 1 0 -1.6 0M422.3 585.3a0.8 0.8 0 1 0 1.6 0a0.8 0.8 0 1 0 -1.6 0M421.9 605.7a0.8 0.8 0 1 0 1.6 0a0.8 0.8 0 1 0 -1.6 0M414.2 669.6a0.8 0.8 0 1 0 1.6 0a0.8 0.8 0 1 0 -1.6 0M407.2 611.6a0.8 0.8 0 1 0 1.6 0a0.8 0.8 0 1 0 -1.6 0M410.9 637.6a0.8 0.8 0 1 0 1.6 0a0.8 0.8 0 1 0 -1.6 0M414.4 667.2a0.8 0.8 0 1 0 1.6 0a0.8 0.8 0 1 0 -1.6 0M414.0 668.0a0.8 0.8 0 1 0 1.6 0a0.8 0.8 0 1 0 -1.6 0M401.2 574.9a0.8 0.8 0 1 0 1.6 0a0.8 0.8 0 1 0 -1.6 0M402.0 569.5a0.8 0.8 0 1 0 1.6 0a0.8 0.8 0 1 0 -1.6 0M403.3 586.9a0.8 0.8 0 1 0 1.6 0a0.8 0.8 0 1 0 -1.6 0M401.5 574.9a0.8 0.8 0 1 0 1.6 0a0.8 0.8 0 1 0 -1.6 0M426.0 585.5a0.8 0.8 0 1 0 1.6 0a0.8 0.8 0 1 0 -1.6 0M402.9 578.5a0.8 0.8 0 1 0 1.6 0a0.8 0.8 0 1 0 -1.6 0M420.6 614.4a0.8 0.8 0 1 0 1.6 0a0.8 0.8 0 1 0 -1.6 0M414.8 664.5a0.8 0.8 0 1 0 1.6 0a0.8 0.8 0 1 0 -1.6 0M411.8 647.1a0.8 0.8 0 1 0 1.6 0a0.8 0.8 0 1 0 -1.6 0M404.8 591.1a0.8 0.8 0 1 0 1.6 0a0.8 0.8 0 1 0 -1.6 0M415.8 657.5a0.8 0.8 0 1 0 1.6 0a0.8 0.8 0 1 0 -1.6 0M405.9 596.9a0.8 0.8 0 1 0 1.6 0a0.8 0.8 0 1 0 -1.6 0M422.1 608.6a0.8 0.8 0 1 0 1.6 0a0.8 0.8 0 1 0 -1.6 0M411.5 644.2a0.8 0.8 0 1 0 1.6 0a0.8 0.8 0 1 0 -1.6 0M417.9 626.3a0.8 0.8 0 1 0 1.6 0a0.8 0.8 0 1 0 -1.6 0M408.9 626.6a0.8 0.8 0 1 0 1.6 0a0.8 0.8 0 1 0 -1.6 0" fill="#e6e6e6" stroke="#b4b4b4" stroke-width="0.5"/><circle cx="373.0" cy="532.0" r="1.09" fill="#c5163a"/><circle cx="376.0" cy="530.5" r="1.09" fill="#c5163a"/><circle cx="384.0" cy="541.0" r="1.09" fill="#c5163a"/><circle cx="386.0" cy="540.0" r="1.09" fill="#c5163a"/><circle cx="387.5" cy="543.0" r="1.09" fill="#c5163a"/><circle cx="386.0" cy="545.5" r="1.09" fill="#c5163a"/><circle cx="389.0" cy="544.0" r="1.09" fill="#c5163a"/><circle cx="391.0" cy="547.0" r="1.09" fill="#c5163a"/><circle cx="390.0" cy="549.5" r="1.09" fill="#c5163a"/><circle cx="393.0" cy="552.0" r="1.09" fill="#c5163a"/><circle cx="394.5" cy="554.0" r="1.09" fill="#c5163a"/><circle cx="396.0" cy="556.0" r="1.09" fill="#c5163a"/><circle cx="395.0" cy="558.5" r="1.09" fill="#c5163a"/><circle cx="398.0" cy="561.0" r="1.09" fill="#c5163a"/><circle cx="398.5" cy="563.5" r="1.09" fill="#c5163a"/><circle cx="399.0" cy="566.0" r="1.09" fill="#c5163a"/><circle cx="399.0" cy="568.0" r="1.09" fill="#c5163a"/><circle cx="399.2" cy="570.0" r="1.09" fill="#c5163a"/><circle cx="399.0" cy="572.0" r="1.09" fill="#c5163a"/><circle cx="398.5" cy="574.5" r="1.09" fill="#c5163a"/><circle cx="393.0" cy="566.0" r="1.09" fill="#c5163a"/><circle cx="396.0" cy="569.0" r="1.09" fill="#c5163a"/><circle cx="391.0" cy="579.0" r="1.09" fill="#c5163a"/><circle cx="394.0" cy="585.0" r="1.09" fill="#c5163a"/><circle cx="395.0" cy="588.0" r="1.09" fill="#c5163a"/><circle cx="389.0" cy="575.0" r="1.09" fill="#c5163a"/><circle cx="400.0" cy="578.0" r="1.09" fill="#c5163a"/><circle cx="430.8" cy="553.0" r="1.09" fill="#1f4f80"/><circle cx="433.6" cy="545.6" r="1.09" fill="#1f4f80"/><circle cx="447.0" cy="553.2" r="1.09" fill="#1f4f80"/><circle cx="446.5" cy="545.6" r="1.09" fill="#1f4f80"/><circle cx="437.3" cy="550.9" r="1.09" fill="#1f4f80"/><circle cx="437.1" cy="542.5" r="1.09" fill="#1f4f80"/><circle cx="435.7" cy="539.8" r="1.09" fill="#1f4f80"/><circle cx="435.2" cy="555.8" r="1.09" fill="#1f4f80"/><circle cx="446.2" cy="548.9" r="1.09" fill="#1f4f80"/><circle cx="437.5" cy="543.4" r="1.09" fill="#1f4f80"/><circle cx="429.7" cy="542.2" r="1.09" fill="#1f4f80"/><circle cx="442.9" cy="553.5" r="1.09" fill="#1f4f80"/><circle cx="434.9" cy="551.9" r="1.09" fill="#1f4f80"/><circle cx="442.7" cy="550.2" r="1.09" fill="#1f4f80"/><circle cx="440.6" cy="551.4" r="1.09" fill="#1f4f80"/><circle cx="434.9" cy="550.4" r="1.09" fill="#1f4f80"/><circle cx="433.3" cy="546.2" r="1.09" fill="#1f4f80"/><circle cx="442.6" cy="550.1" r="1.09" fill="#1f4f80"/><circle cx="433.6" cy="555.0" r="1.09" fill="#1f4f80"/><circle cx="440.3" cy="548.0" r="1.09" fill="#1f4f80"/><circle cx="429.2" cy="567.8" r="1.09" fill="#1f4f80"/><circle cx="433.3" cy="569.7" r="1.09" fill="#1f4f80"/><circle cx="436.9" cy="572.1" r="1.09" fill="#1f4f80"/><circle cx="440.0" cy="571.8" r="1.09" fill="#1f4f80"/><circle cx="434.9" cy="569.3" r="1.09" fill="#1f4f80"/><circle cx="441.5" cy="572.3" r="1.09" fill="#1f4f80"/><circle cx="435.0" cy="572.5" r="1.09" fill="#1f4f80"/><circle cx="443.8" cy="570.0" r="1.09" fill="#1f4f80"/><circle cx="445.6" cy="574.3" r="1.09" fill="#1f4f80"/><circle cx="437.8" cy="567.5" r="1.09" fill="#1f4f80"/><circle cx="431.8" cy="572.4" r="1.09" fill="#1f4f80"/><circle cx="444.9" cy="566.6" r="1.09" fill="#1f4f80"/><circle cx="432.7" cy="577.4" r="1.09" fill="#1f4f80"/><circle cx="432.3" cy="579.4" r="1.09" fill="#1f4f80"/><circle cx="432.2" cy="581.8" r="1.09" fill="#1f4f80"/><circle cx="431.2" cy="581.2" r="1.09" fill="#1f4f80"/><circle cx="470.8" cy="515.6" r="1.09" fill="#1a3550"/><circle cx="470.8" cy="522.5" r="1.09" fill="#1a3550"/><circle cx="481.0" cy="512.5" r="1.09" fill="#1a3550"/><circle cx="482.0" cy="518.5" r="1.09" fill="#1a3550"/><circle cx="488.0" cy="508.0" r="1.09" fill="#1a3550"/><circle cx="489.5" cy="513.0" r="1.09" fill="#1a3550"/><circle cx="486.0" cy="520.0" r="1.09" fill="#1a3550"/><circle cx="474.0" cy="527.0" r="1.09" fill="#1a3550"/><circle cx="477.0" cy="531.0" r="1.09" fill="#1a3550"/><text x="362.00" y="531.50" font-size="6.7" text-anchor="middle" fill="#1a1a1a" >Tcf7l2</text><text x="382.50" y="529.80" font-size="6.7" text-anchor="middle" fill="#1a1a1a" >Tcf1</text><text x="376.00" y="543.50" font-size="6.7" text-anchor="middle" fill="#1a1a1a" >Lef1</text><text x="397.00" y="542.00" font-size="6.7" text-anchor="middle" fill="#1a1a1a" >Tcf7l1</text><text x="384.00" y="553.50" font-size="6.7" text-anchor="middle" fill="#1a1a1a" >Rbpjl</text><text x="390.00" y="572.50" font-size="6.7" text-anchor="middle" fill="#1a1a1a" >Tcf3</text><text x="429.00" y="548.50" font-size="6.7" text-anchor="middle" fill="#1a1a1a" >Ctcf</text><text x="478.70" y="509.80" font-size="6.7" text-anchor="middle" fill="#1a1a1a" >Gata2</text><text x="498.50" y="509.80" font-size="6.7" text-anchor="middle" fill="#1a1a1a" >Gata5</text><text x="461.30" y="517.90" font-size="6.7" text-anchor="middle" fill="#1a1a1a" >Gata4</text><text x="498.50" y="517.90" font-size="6.7" text-anchor="middle" fill="#1a1a1a" >Gata3</text><text x="462.30" y="525.30" font-size="6.7" text-anchor="middle" fill="#1a1a1a" >Gata6</text><text x="490.40" y="528.90" font-size="6.7" text-anchor="middle" fill="#1a1a1a" >Gata1::Tal1</text><text x="468.00" y="534.80" font-size="6.7" text-anchor="middle" fill="#1a1a1a" >Gata1</text>
<rect x="0.5" y="0.5" width="519" height="711" fill="none" stroke="#000" stroke-width="1.2"/>
</svg>
</body></html>
